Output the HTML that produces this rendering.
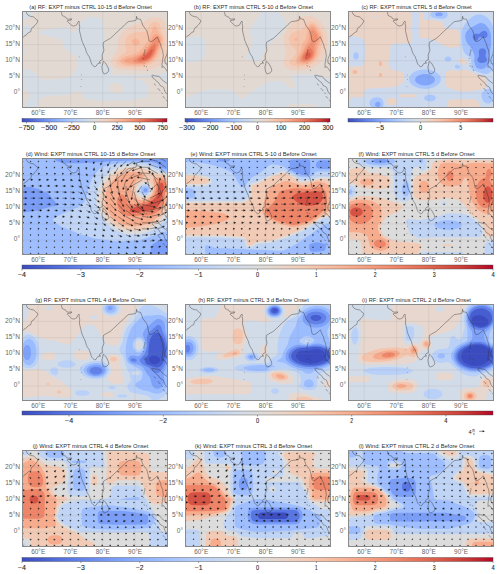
<!DOCTYPE html><html><head><meta charset="utf-8"><style>html,body{margin:0;padding:0;background:#fff;width:500px;height:574px;overflow:hidden}svg{display:block}</style></head><body><svg width="500" height="574" viewBox="0 0 500 574"><defs><clipPath id="pc"><rect x="0" y="0" width="146" height="97"/></clipPath><path id="coast" d="M4.0 -0.7 4.5 1.3 4.8 2.6 5.9 4.0 7.2 4.8 9.1 5.5 10.8 5.8 11.7 5.8 13.0 7.4 14.3 8.4 15.6 9.3 15.8 10.1 15.0 11.9 14.0 13.2 12.7 14.5 11.7 16.1 10.4 16.4 9.5 17.7 9.0 19.3 8.8 20.6 7.9 21.0 6.2 21.9 5.3 22.7 4.3 24.0 2.0 25.2 0.7 26.8 -0.5 27.4M38.2 -1.3 39.5 1.6 39.8 3.2 40.2 4.5 41.4 5.1 42.7 5.8 43.4 5.8 44.0 6.8 44.7 7.7 46.3 8.2 48.6 8.0 49.8 7.9 49.2 9.0 47.6 9.3 45.6 9.5 45.2 10.2 46.3 11.3 47.3 12.1 48.6 13.5 49.7 14.5 51.7 15.1 53.4 14.5 55.0 13.5 55.5 11.7 56.6 10.3 56.9 10.0 57.4 11.3 57.1 12.6 57.4 13.9 57.8 16.1 57.4 18.1 57.7 20.8 58.1 22.3 58.9 25.5 59.2 27.2 59.9 29.7 60.8 31.9 61.8 34.2 63.2 36.9 64.2 40.4 64.6 41.6 65.8 43.7 67.2 45.7 67.7 47.2 68.7 49.8 69.0 51.3 69.9 53.3 71.0 54.6 72.1 55.5 72.9 55.9 74.4 54.9 74.9 53.6 76.0 52.6 77.6 52.1 78.6 52.0 77.6 51.6 77.5 50.7 78.6 49.4 80.4 48.7 80.3 47.2 80.1 44.1 80.3 43.5 81.2 41.3 81.8 39.8 81.8 38.1 81.3 35.5 81.2 33.6 81.5 31.3 84.1 29.7 88.3 27.4 91.5 24.5 95.1 21.0 98.1 18.2 100.9 15.8 102.8 13.7 104.8 11.9 106.5 10.6 108.6 10.3 110.9 10.0 113.1 9.5 114.1 9.1 114.6 5.3 115.1 7.7 116.7 8.0 118.6 8.4 119.8 11.6 120.9 14.5 122.8 17.1 124.8 19.7 126.1 24.5 127.0 29.7 128.3 30.5 129.9 30.3 131.9 29.0 133.5 27.7 135.3 25.8 136.4 28.4 137.7 31.6 138.5 32.9 139.3 36.5 140.0 38.1 140.6 39.1 140.9 42.0 141.4 44.9 140.6 48.1 140.8 49.8 140.3 51.3 140.0 53.4 140.1 56.5 140.9 55.5 141.9 56.0 143.5 57.8 144.5 59.4 145.4 60.7 146.4 61.7M146.1 38.7 145.3 39.1 145.3 41.3 144.8 43.9 143.8 45.8 142.9 48.1 142.9 50.4 143.2 52.3 144.2 52.3 145.4 54.9 146.4 56.8M80.8 50.8 81.6 50.3 82.5 51.3 83.5 52.1 84.8 54.3 85.7 56.2 86.3 57.1 86.8 59.8 85.7 61.4 84.5 62.2 82.8 62.9 81.6 62.5 80.7 60.7 80.4 59.6 80.3 58.8 80.0 56.8 79.9 55.5 80.5 54.2 80.5 53.0 81.2 52.0 80.8 50.8M147.1 73.6 144.8 72.3 143.5 71.4 141.3 69.8 140.0 68.8 139.0 67.5 137.7 65.9 136.2 65.2 134.1 65.1 132.4 64.6 130.3 64.1 129.9 64.6 130.4 65.9 131.2 67.2 132.9 68.6 134.5 70.1 136.4 71.5 137.4 73.0 138.3 74.6 140.3 75.5 141.5 76.4 142.2 78.1 142.9 80.4 143.5 81.4 144.5 82.7 145.8 83.6 146.7 84.9M122.7 38.1 123.0 39.4 122.7 40.3 122.4 41.6 122.0 42.6 122.0 43.6 121.9 44.5 121.5 44.9M121.4 47.1 121.2 48.1M122.2 52.1 122.2 52.6M124.3 55.2 124.6 56.2M125.4 58.8 125.7 60.0M124.0 36.3 124.1 36.8M131.9 72.6 133.8 74.3M135.8 77.2 138.3 80.1M139.6 81.7 140.6 83.0M140.9 85.2 142.9 87.5M143.8 88.8 144.8 89.8M145.4 90.7 146.7 92.3M122.0 54.2 122.4 55.5"/><g id="dots"><rect x="58.9" y="63.6" width="0.7" height="0.7"/><rect x="59.2" y="68.1" width="0.7" height="0.7"/><rect x="58.5" y="75.2" width="0.7" height="0.7"/><rect x="56.9" y="45.5" width="0.7" height="0.7"/></g><linearGradient id="cw" x1="0" x2="1" y1="0" y2="0"><stop offset="0.000" stop-color="#3b4cc0"/><stop offset="0.025" stop-color="#4257c9"/><stop offset="0.050" stop-color="#4961d2"/><stop offset="0.075" stop-color="#516ddb"/><stop offset="0.100" stop-color="#5977e3"/><stop offset="0.125" stop-color="#6282ea"/><stop offset="0.150" stop-color="#6a8bef"/><stop offset="0.175" stop-color="#7295f4"/><stop offset="0.200" stop-color="#7b9ff9"/><stop offset="0.225" stop-color="#84a7fc"/><stop offset="0.250" stop-color="#8db0fe"/><stop offset="0.275" stop-color="#96b7ff"/><stop offset="0.300" stop-color="#9ebeff"/><stop offset="0.325" stop-color="#a7c5fe"/><stop offset="0.350" stop-color="#afcafc"/><stop offset="0.375" stop-color="#b9d0f9"/><stop offset="0.400" stop-color="#c0d4f5"/><stop offset="0.425" stop-color="#c7d7f0"/><stop offset="0.450" stop-color="#cfdaea"/><stop offset="0.475" stop-color="#d6dce4"/><stop offset="0.500" stop-color="#dddcdc"/><stop offset="0.525" stop-color="#e3d9d3"/><stop offset="0.550" stop-color="#e9d5cb"/><stop offset="0.575" stop-color="#eed0c0"/><stop offset="0.600" stop-color="#f2cbb7"/><stop offset="0.625" stop-color="#f5c4ac"/><stop offset="0.650" stop-color="#f6bda2"/><stop offset="0.675" stop-color="#f7b599"/><stop offset="0.700" stop-color="#f7ac8e"/><stop offset="0.725" stop-color="#f6a385"/><stop offset="0.750" stop-color="#f4987a"/><stop offset="0.775" stop-color="#f18f71"/><stop offset="0.800" stop-color="#ee8468"/><stop offset="0.825" stop-color="#e9785d"/><stop offset="0.850" stop-color="#e36c55"/><stop offset="0.875" stop-color="#dd5f4b"/><stop offset="0.900" stop-color="#d65244"/><stop offset="0.925" stop-color="#cf453c"/><stop offset="0.950" stop-color="#c53334"/><stop offset="0.975" stop-color="#bd1f2d"/><stop offset="1.000" stop-color="#b40426"/></linearGradient></defs><rect width="500" height="574" fill="#fff"/><g transform="translate(22,11)"><g clip-path="url(#pc)"><g transform="scale(0.1)"><rect x="0" y="0" width="1460" height="970" fill="#d6dce4"/><path fill="#e3d9d3" fill-rule="evenodd" d="M112 0l1338 0 0 616-30 2-50 11-105 11-130 2-100-4-65 3-50-2-16-4-5-5-2-5 3-25 0-10-5-15-7-10-8-7-10-5-63-23-12-10-7-15-1-10 2-10 16-40 14-45 8-75 0-75-6-80-4-25-12-45-10-17-15-10-40-15-15-3-15-1-25 4-35 10-15 7-10 7-30 25-17 18-38 67-10 10-15 7-10 1-10-4-25-30-10-8-15-4-20-1-45 1-85 16-80 9-15 4-15 12-6 10 1 8 5 7 10 5 175 39 20 7 11 14 17 55 11 20 46 46 70 40 9 14 3 20 0 55-4 20-11 20-30 45-12 14-10 7-15 6-55 17-35 7-65 2-60 4-40 0-20-4-15-11-42-47-23-16-40-20-20-8-60-8 0-145 15-5 13-8 7-10 2-10-5-10-7-6-10-4-15-2 0-136 45-5 19-7 11-8 11-12 6-10 2-10-1-10-6-15-7-8-10-6-20-3-50 4 0-50 25-4 15-5 16-8 29-20 10-10 7-10 7-20 3-20zM844 650l6-1 1 1-1 4-6-4zM1306 660l24-2 25 1 15 2 15 5 15 14 6 10 8 25 6 8 11 7 19 5 0 225-1288 0 0-50 4-15 9-10 12-10 33-17 20-6 20-4 70-1 40-4 65-1 20-2 20-6 95-37 10 2 7 6 8 14 20 46 5 7 10 7 40 7 95 11 35 1 120-1 55-4 110-1 150-28 10-3 9-6 6-10 2-10-1-70-4-15-11-15-31-30-10-7-10-5-50-7-70-6 60-7 55-11 116-2zM894 725l16-3 60 0 15 2 10 5 10 13 8 28 1 15-4 13-6 7-14 8-20 8-15 4-20-2-40-18-7-5-7-10-2-10-1-15 2-25 5-9 9-6zM0 795l0-2 5 1 35 4 18 7 14 15 8 15 3 10 0 10-3 5-25 16-11 14-5 25-1 45-38 0 0-165z"/><path fill="#eed0c0" fill-rule="evenodd" d="M1301 65l24-3 20 0 20 3 20 7 15 8 15 12 9 13 7 15 2 15 2 51 5 18 10 23 0 236-17 27-17 20-16 16-20 16-20 13-20 11-25 10-50 13-45 5-65 2-115-5-40-3-25-4-25-7-15-8-10-9-29-35-6-10 0-15 3-15 8-15 41-55 10-20 4-20 2-55 5-30 12-35 17-30 17-20 16-14 20-15 25-14 45-19 75-23 20-10 50-30 20-9 21-6z"/><path fill="#f5c4ac" fill-rule="evenodd" d="M1310 110l20-4 20 3 15 8 10 12 7 16 9 55 26 50 8 30 0 30-8 30-35 95-10 20-14 20-31 30-37 24-45 18-50 11-65 4-95-4-25-3-20-5-15-6-13-9-10-10-6-15 0-15 7-15 7-10 15-14 57-41 10-15 2-10 0-10-11-45-2-30 5-25 14-25 10-10 15-12 15-8 20-7 40-6 65-1 20-5 8-6 7-9 19-41 11-18 15-14 15-8z"/><path fill="#f7b599" fill-rule="evenodd" d="M1319 155l6-2 10 1 10 8 16 43 36 50 6 15 2 20-1 15-5 20-41 100-15 30-15 20-28 25-30 18-35 14-45 10-55 3-85-5-35-7-15-7-8-6-7-10-1-15 8-15 13-11 15-9 20-8 67-17 26-10 43-25 23-20 41-55 15-23 37-77 15-55 6-10 6-5zM1114 280l11-3 15 0 15 6 10 7 8 10 4 15-1 10-7 10-14 9-15 2-20-5-14-11-9-15 0-15 4-10 13-10z"/><path fill="#f6a385" fill-rule="evenodd" d="M1329 235l11-3 10 2 10 5 13 11 7 10 7 15 2 10 0 15-7 25-43 105-17 30-18 20-24 19-30 15-30 10-35 6-45 1-70-8-25-5-17-8-4-5-1-10 7-10 8-5 17-7 50-10 25-8 59-30 28-20 18-20 39-55 11-20 20-50 10-14 14-11z"/><path fill="#f18f71" fill-rule="evenodd" d="M1338 260l13 0 9 5 5 5 7 15 0 20-40 110-15 30-17 23-19 17-21 13-25 11-25 6-25 4-25-1-25-4-20-9-6-5 0-5 8-10 92-55 26-22 64-83 21-50 10-11 8-4z"/><path fill="#e9785d" fill-rule="evenodd" d="M1326 330l4-3 5 3 0 25-5 30-9 25-9 20-12 20-12 15-13 11-15 11-17 8-18 6-20 4-20 1-15-2-10-5-4-4-1-5 1-5 8-10 72-50 14-15 40-49 36-31z"/><path fill="#dd5f4b" fill-rule="evenodd" d="M1294 385l6-3 5 1 2 2 1 10-2 10-13 30-18 25-19 15-21 10-25 5-10-1-7-4-1-5 6-10 52-40 44-45z"/></g><path d="M16.2 0V96M48.6 0V96M80.8 0V96M113.1 0V96M0 17.4H145M0 33.6H145M0 49.7H145M0 65.9H145M0 82.0H145" stroke="#808080" stroke-opacity="0.22" stroke-width="0.6" fill="none"/><use href="#coast" fill="none" stroke="#2a2a2a" stroke-width="0.45" stroke-opacity="0.9"/><use href="#dots" fill="#444" fill-opacity="0.6"/></g><rect x="0.5" y="0.5" width="145" height="96" fill="none" stroke="#8a8a8a" stroke-width="1"/></g><text x="90.5" y="8.8" font-size="5.27" fill="#2b2b2b" text-anchor="middle" textLength="122.5" lengthAdjust="spacingAndGlyphs" font-family="Liberation Sans, sans-serif">(a) RF: EXPT minus CTRL 10-15 d Before Onset</text><text x="20.0" y="29.8" font-size="6.40" fill="#666" text-anchor="end" textLength="15.0" lengthAdjust="spacingAndGlyphs" font-family="Liberation Sans, sans-serif">20°N</text><text x="20.0" y="46.0" font-size="6.40" fill="#666" text-anchor="end" textLength="14.8" lengthAdjust="spacingAndGlyphs" font-family="Liberation Sans, sans-serif">15°N</text><text x="20.0" y="62.1" font-size="6.40" fill="#666" text-anchor="end" textLength="14.8" lengthAdjust="spacingAndGlyphs" font-family="Liberation Sans, sans-serif">10°N</text><text x="20.0" y="78.3" font-size="6.40" fill="#666" text-anchor="end" textLength="10.9" lengthAdjust="spacingAndGlyphs" font-family="Liberation Sans, sans-serif">5°N</text><text x="20.0" y="94.4" font-size="6.40" fill="#666" text-anchor="end" textLength="6.2" lengthAdjust="spacingAndGlyphs" font-family="Liberation Sans, sans-serif">0°</text><text x="38.2" y="114.8" font-size="6.30" fill="#666" text-anchor="middle" textLength="14.1" lengthAdjust="spacingAndGlyphs" font-family="Liberation Sans, sans-serif">60°E</text><text x="70.6" y="114.8" font-size="6.30" fill="#666" text-anchor="middle" textLength="14.0" lengthAdjust="spacingAndGlyphs" font-family="Liberation Sans, sans-serif">70°E</text><text x="102.8" y="114.8" font-size="6.30" fill="#666" text-anchor="middle" textLength="14.1" lengthAdjust="spacingAndGlyphs" font-family="Liberation Sans, sans-serif">80°E</text><text x="135.1" y="114.8" font-size="6.30" fill="#666" text-anchor="middle" textLength="14.1" lengthAdjust="spacingAndGlyphs" font-family="Liberation Sans, sans-serif">90°E</text><g transform="translate(185,11)"><g clip-path="url(#pc)"><g transform="scale(0.1)"><rect x="0" y="0" width="1460" height="970" fill="#d6dce4"/><path fill="#e3d9d3" fill-rule="evenodd" d="M0 0l749 0 4 30-4 15-34 41-48 64-10 20-9 25-3 15 1 15 27 50 2 10-1 15-16 60-42 85-6 20 2 10 3 4 15 9 50 12 35 2 30-2 10-5 5-5 7-15 21-65 14-25 48-62 60-51 20-20 55-72 15-28 12-32 1-10-3-9-7-11-42-45-11-21-9-24 509 0 0 676-40-7-77-29-28-6-150 0-65 6-15 3-5 3-3 4-1 10 7 20 23 45 5 20-3 10-7 10-11 10-10 4-10 0-16-9-16-15-28-32-15-12-15-6-20-5-30-1-85 9-20 7-90 60-84 45-61 52-15 7-10-2-10-8-50-60-10-11-10-6-20-4-40-1-60-4-80 0-110 17-25 9-120 59-20 7 0-363 110-1 20-5 35-18 14-13 10-20 16-45 3-25-1-25-8-60-12-30-12-12-20-5-45 0-45 7-65 15 0-275zM0 935l0-5 9 5 4 5 3 10 1 10-17 0 0-25zM1040 935l25-2 215 0 10 2 9 5 6 10 2 10-284 0 4-15 4-5 9-5z"/><path fill="#eed0c0" fill-rule="evenodd" d="M1234 50l26 0 20 4 20 8 21 13 21 20 24 30 25 35 17 30 9 25 6 20 3 25 2 30-2 30-5 35-8 40-9 30-21 45-16 25-17 20-35 31-25 16-20 10-25 8-25 6-60 6-70 1-25-4-20-5-25-12-15-12-15-20-6-20 0-15 4-15 20-45 5-20-2-20-19-60-7-35 0-35 3-20 4-15 13-25 45-71 20-24 25-23 30-19 30-13 35-9 44-6z"/><path fill="#f5c4ac" fill-rule="evenodd" d="M1251 105l14-2 15 2 15 7 15 12 13 16 38 55 11 20 7 20 5 30-2 30-21 75-11 50-8 25-16 30-26 30-30 22-30 14-40 10-40 3-55-1-20-4-14-4-11-6-10-10-5-14 2-10 9-15 29-30 15-20 9-20 1-20-3-10-5-10-42-40-15-24-5-16-2-15 1-15 5-15 6-12 10-13 10-9 15-10 20-8 50-11 16-7 14-14 22-31 13-15 15-13 16-7z"/><path fill="#f7b599" fill-rule="evenodd" d="M1270 130l10 2 10 5 18 18 40 60 9 20 4 15 2 20-3 20-24 70-9 60-6 20-12 25-15 20-22 20-27 15-25 9-30 5-30 0-30-7-14-7-8-10-2-10 3-10 41-80 7-20 11-45 7-20 25-36 10-20 5-23 4-51 7-30 9-15 10-11 10-6 15-3zM1098 270l12-3 10 5 5 6 2 7-4 10-8 5-5 0-5 0-9-5-3-5-2-10 7-10z"/><path fill="#f6a385" fill-rule="evenodd" d="M1265 155l5-1 10 2 10 7 10 11 34 51 7 15 4 15 1 15-4 20-20 45-6 20-6 60-4 20-8 20-13 20-15 15-20 14-20 9-25 6-20 1-20-3-15-7-9-10-3-10 2-15 7-20 28-50 23-50 29-45 8-15 4-15 2-15-2-55 3-25 8-19 5-6 10-5z"/><path fill="#f18f71" fill-rule="evenodd" d="M1267 190l8-4 5 1 15 13 25 35 5 11 3 14-1 15-5 15-23 35-5 15-2 20 2 50-3 25-5 15-8 15-13 14-15 12-15 8-20 6-20 2-15-3-10-4-9-10-3-10 2-15 12-25 43-71 15-20 22-24 9-15 2-25-3-75 2-10 5-10z"/><path fill="#e9785d" fill-rule="evenodd" d="M1243 375l7-2 10 1 7 6 5 10 5 15 1 15-1 15-5 15-14 20-12 10-11 6-25 7-10 0-12-3-6-5-5-10 0-10 5-15 13-22 20-26 15-17 13-10z"/><path fill="#dd5f4b" fill-rule="evenodd" d="M1245 410l9 5 5 10 0 15-7 15-8 10-14 9-15 3-12-2-5-5-1-10 2-10 6-10 20-22 10-6 10-2z"/></g><path d="M16.2 0V96M48.6 0V96M80.8 0V96M113.1 0V96M0 17.4H145M0 33.6H145M0 49.7H145M0 65.9H145M0 82.0H145" stroke="#808080" stroke-opacity="0.22" stroke-width="0.6" fill="none"/><use href="#coast" fill="none" stroke="#2a2a2a" stroke-width="0.45" stroke-opacity="0.9"/><use href="#dots" fill="#444" fill-opacity="0.6"/></g><rect x="0.5" y="0.5" width="145" height="96" fill="none" stroke="#8a8a8a" stroke-width="1"/></g><text x="253.5" y="8.8" font-size="5.27" fill="#2b2b2b" text-anchor="middle" textLength="119.3" lengthAdjust="spacingAndGlyphs" font-family="Liberation Sans, sans-serif">(b) RF: EXPT minus CTRL 5-10 d Before Onset</text><text x="183.0" y="29.8" font-size="6.40" fill="#666" text-anchor="end" textLength="15.0" lengthAdjust="spacingAndGlyphs" font-family="Liberation Sans, sans-serif">20°N</text><text x="183.0" y="46.0" font-size="6.40" fill="#666" text-anchor="end" textLength="14.8" lengthAdjust="spacingAndGlyphs" font-family="Liberation Sans, sans-serif">15°N</text><text x="183.0" y="62.1" font-size="6.40" fill="#666" text-anchor="end" textLength="14.8" lengthAdjust="spacingAndGlyphs" font-family="Liberation Sans, sans-serif">10°N</text><text x="183.0" y="78.3" font-size="6.40" fill="#666" text-anchor="end" textLength="10.9" lengthAdjust="spacingAndGlyphs" font-family="Liberation Sans, sans-serif">5°N</text><text x="183.0" y="94.4" font-size="6.40" fill="#666" text-anchor="end" textLength="6.2" lengthAdjust="spacingAndGlyphs" font-family="Liberation Sans, sans-serif">0°</text><text x="201.2" y="114.8" font-size="6.30" fill="#666" text-anchor="middle" textLength="14.1" lengthAdjust="spacingAndGlyphs" font-family="Liberation Sans, sans-serif">60°E</text><text x="233.6" y="114.8" font-size="6.30" fill="#666" text-anchor="middle" textLength="14.0" lengthAdjust="spacingAndGlyphs" font-family="Liberation Sans, sans-serif">70°E</text><text x="265.9" y="114.8" font-size="6.30" fill="#666" text-anchor="middle" textLength="14.1" lengthAdjust="spacingAndGlyphs" font-family="Liberation Sans, sans-serif">80°E</text><text x="298.1" y="114.8" font-size="6.30" fill="#666" text-anchor="middle" textLength="14.1" lengthAdjust="spacingAndGlyphs" font-family="Liberation Sans, sans-serif">90°E</text><g transform="translate(348,11)"><g clip-path="url(#pc)"><g transform="scale(0.1)"><rect x="0" y="0" width="1460" height="970" fill="#5d7ce6"/><path fill="#82a6fb" fill-rule="evenodd" d="M0 0l1450 0 0 960-1450 0 0-960zM1350 199l-15 8-25 23-5 0-20-4-10 1-10 3-10 8-7 12-2 10 4 15 10 15 15 9 10-1 11-8 14-26 5-5 5 0 25 9 15 3 15-2 10-7 8-12 2-10-1-15-4-10-5-6-10-8-10-3-15 1zM1330 374l-10 5-5 5-6 11-2 20 4 30-2 10-14 25-1 15 6 11 15 10 15 4 20-1 15-4 10-4 8-6 6-10 0-15-14-30 0-10 6-20 0-15-6-18-10-10-15-5-20 2z"/><path fill="#aac7fd" fill-rule="evenodd" d="M0 0l1450 0 0 960-1147 0 7-2 10-8 3-5 3-10-2-10-4-7-10-8-10-2-10 1-10 5-6 6-4 10 1 10 5 10 9 7 9 3-294 0 0-960zM730 635l-20 7-20 11-12 12-7 15 0 15 4 10 14 15 16 10 20 8 20 4 25 2 25-2 20-4 20-8 16-10 14-15 5-15-2-15-10-15-21-15-22-9-30-5-30 0-25 4zM895 14l-15 6-9 10 2 10 12 9 15 4 20 0 15-4 12-9 2-10-3-5-6-5-20-7-25 1zM1305 124l-20 10-65 38-22 18-13 17-8 18-5 20 0 20 5 25 8 20 10 15 25 29 10 14 10 18 20 47 5 22-2 35 1 15 8 35 6 15 8 10 14 9 20 6 15 0 25-6 20-13 20-23 11-18 7-15 2-20-7-35 10-55 7-60 1-40-1-45-4-30-9-25-12-22-20-25-20-17-20-9-20-2-20 4z"/><path fill="#cdd9ec" fill-rule="evenodd" d="M0 0l854 0-17 10-12 15-3 15 4 10 5 5 14 8 20 7 75 10 20-2 15-7 13-11 9-15 0-15-5-10-9-10-17-10 484 0 0 152-15-32-16-25-19-22-20-16-20-12-25-8-20-2-25 3-25 8-25 14-25 20-25 27-25 33-17 30-9 25-3 25 4 100 8 60 9 25 13 20 15 14 30 21 12 15 5 15 2 20 0 20-5 30 2 10 2 5 12 10 9 5 61 26 30 10 30 4 20-3 23-12 17-15 15-21 0 220-10-10-15-10-10-2-10 1-45 22-13 10-10 15-3 20 3 20 10 25 13 19 15 11 20 6 20-1 20-10 15-14 0 59-1103 0 7-15 1-15-3-25-7-17-10-12-10-6-15-5-20-2-20 2-20 6-20 13-10 13-6 18 1 15 6 15 14 15-235 0 0-960zM75 413l-10 5-9 12-3 10-1 15 2 10 6 11 10 9 10 2 10-2 11-10 6-15 1-15-4-15-7-10-12-7-10 0zM740 585l-35 7-35 14-29 19-18 20-6 10-5 15-1 15 1 10 6 15 6 10 18 20 28 17 35 13 40 8 40 1 40-6 35-11 30-16 23-21 9-15 4-10 3-15-1-15-5-15-6-10-22-23-30-19-40-14-40-5-45 1zM985 458l-12 7-6 10 0 10 6 10 12 7 15 3 15-3 11-7 4-5 3-10-3-10-5-6-10-6-10-3-20 3zM1080 540l-8 5-5 10 2 10 5 5 11 6 15 2 10-2 8-6 3-5 1-5-5-10-6-5-16-7-15 2zM795 840l-22 10-5 5-6 10 0 10 2 5 9 10 9 5 23 7 30 0 25-8 10-7 6-7 2-10-2-10-9-10-9-5-13-5-15-3-20 0-15 3z"/><path fill="#ead4c8" fill-rule="evenodd" d="M18 0l610 0 13 70 1 55-4 20-17 25-1 10 2 5 15 20 4 10 1 70-1 15-3 10-4 5-9 5-20 2-140 2-15 4-13 7-9 10-4 10-3 95-16 65 1 15 5 20 9 20 10 10 10 5 45 15 45 5 10 5 6 5 10 20 4 25-1 35-3 10-8 10-18 14-35 22-25 10-60 2-40 4-50 1-140 12-10 6-5 9-4 45-3 10-4 5-9 5-10 2-80 1-10 1-10 3-5 4-5 9-4 30-3 10-8 8-10 3 0-374 50-4 80-1 15-3 8-4 7-10 2-10 15-135-2-30-11-55-5-15-9-10-20-11-45-15-30-1-55 4 0-67 9-5 4-5 3-10 1-10 1-160zM275 47l-8 8 0 10 8 8 10 0 8-8 0-10-8-8-10 0zM729 15l16 2 10 8 3 10 0 15-7 25 2 5 7 4 20 5 45 1 65 7 25 5 25 11 15 12 5 10 5 30 5 9 5 4 10 3 10 1 80 2 10 2 10 6 6 8 5 15 8 50-1 70-3 14-5 6-15 6-40 5-30 2-20-2-20-8-95-54-60-24-20-6-15-1-60 3-14-6-6-10-2-15 0-120 2-21 12-24-12-25-1-15 2-10 4-8 5-4 9-3zM1114 475l11-3 15 1 19 7 14 10 9 10 3 10 0 10-5 11-10 7-5 1-10-2-15-8-25-19-8-10-2-10 3-10 6-5zM1143 590l22-3 20 4 100 42 67 22 18 9 5 6 5 10 5 44-2 21-7 15-11 9-12 6-48 16-65 11-60 1-55-1-25-2-90-29-21-11-7-10-3-20 0-105 2-10 5-10 14-8 25-4 25 0 50 8 15-2 28-9zM525 835l15-2 130 0 9 2 5 5 2 10-6 9-10 3-135 0-10-2-6-5-1-10 2-5 5-5zM404 870l16-2 30 0 15 3 10 5 9 9 4 10 1 15-5 15-10 10-19 6-35 0-10-1-10-5-6-5-5-10-4-13-1-12 2-10 4-8 14-7zM1030 885l35-2 160 0 30 0 20 3 17 9 11 15 7 20 2 30-324 0 2-35 7-20 13-13 20-7z"/><path fill="#f7b89c" fill-rule="evenodd" d="M317 505l8-3 5 1 7 7 4 10 1 10-3 10-4 7-5 4-5 1-5-1-5-4-6-12 0-15 4-10 4-5zM64 590l11 0 10 3 7 7 2 5 0 10-2 5-12 9-10 2-10-2-10-7-4-7 0-10 2-5 7-7 9-3zM321 620l9 0 5 3 6 12 0 10-5 10-6 5-5 1-10-4-6-12 1-15 5-7 6-3z"/></g><path d="M16.2 0V96M48.6 0V96M80.8 0V96M113.1 0V96M0 17.4H145M0 33.6H145M0 49.7H145M0 65.9H145M0 82.0H145" stroke="#808080" stroke-opacity="0.22" stroke-width="0.6" fill="none"/><use href="#coast" fill="none" stroke="#2a2a2a" stroke-width="0.45" stroke-opacity="0.9"/><use href="#dots" fill="#444" fill-opacity="0.6"/></g><rect x="0.5" y="0.5" width="145" height="96" fill="none" stroke="#8a8a8a" stroke-width="1"/></g><text x="416.5" y="8.8" font-size="5.27" fill="#2b2b2b" text-anchor="middle" textLength="110.2" lengthAdjust="spacingAndGlyphs" font-family="Liberation Sans, sans-serif">(c) RF: EXPT minus CTRL 5 d Before Onset</text><text x="346.0" y="29.8" font-size="6.40" fill="#666" text-anchor="end" textLength="15.0" lengthAdjust="spacingAndGlyphs" font-family="Liberation Sans, sans-serif">20°N</text><text x="346.0" y="46.0" font-size="6.40" fill="#666" text-anchor="end" textLength="14.8" lengthAdjust="spacingAndGlyphs" font-family="Liberation Sans, sans-serif">15°N</text><text x="346.0" y="62.1" font-size="6.40" fill="#666" text-anchor="end" textLength="14.8" lengthAdjust="spacingAndGlyphs" font-family="Liberation Sans, sans-serif">10°N</text><text x="346.0" y="78.3" font-size="6.40" fill="#666" text-anchor="end" textLength="10.9" lengthAdjust="spacingAndGlyphs" font-family="Liberation Sans, sans-serif">5°N</text><text x="346.0" y="94.4" font-size="6.40" fill="#666" text-anchor="end" textLength="6.2" lengthAdjust="spacingAndGlyphs" font-family="Liberation Sans, sans-serif">0°</text><text x="364.2" y="114.8" font-size="6.30" fill="#666" text-anchor="middle" textLength="14.1" lengthAdjust="spacingAndGlyphs" font-family="Liberation Sans, sans-serif">60°E</text><text x="396.6" y="114.8" font-size="6.30" fill="#666" text-anchor="middle" textLength="14.0" lengthAdjust="spacingAndGlyphs" font-family="Liberation Sans, sans-serif">70°E</text><text x="428.9" y="114.8" font-size="6.30" fill="#666" text-anchor="middle" textLength="14.1" lengthAdjust="spacingAndGlyphs" font-family="Liberation Sans, sans-serif">80°E</text><text x="461.1" y="114.8" font-size="6.30" fill="#666" text-anchor="middle" textLength="14.1" lengthAdjust="spacingAndGlyphs" font-family="Liberation Sans, sans-serif">90°E</text><g transform="translate(22,158)"><g clip-path="url(#pc)"><g transform="scale(0.1)"><rect x="0" y="0" width="1460" height="970" fill="#7b9ff9"/><path fill="#9ebeff" fill-rule="evenodd" d="M0 0l321 0 4 10 8 10 17 13 40 14 30 5 160 0 45-4 55-1 45-4 60-1 140-12 205-5 90 2 30 3 50 9 50 17 13 9 22 23 15 12 50 18 0 691-55 8-20 5-25 13-40 25-8 10-7 15-13 50-4 25-1278 0 0-413 115-15 40-7 130-37 50-8 8-5 3-10-3-10-9-15-52-65-17-17-25-14-55-27-90-26-25-3-70 0 0-288zM1225 304l-8 11 0 10 2 5 5 5 6 3 10 0 5-2 5-4 4-7 0-10-2-5-5-5-7-3-10 0-5 2z"/><path fill="#c0d4f5" fill-rule="evenodd" d="M1003 50l77-4 70 0 75 3 50 7 25 6 27 13 18 11 37 29 18 11 50 16 0 588-30 8-80 30-85 29-75 22-170 13-75 0-205-28-155-43-180-75-44-26-33-25-6-10-1-10 6-10 12-10 86-43 145-60 25-16 30-26 11-15 9-20 28-105 34-100 8-15 15-20 40-50 15-16 15-11 15-7 82-26 28-6 88-9zM1220 284l-15 9-10 12-3 10 0 15 8 14 10 8 15 4 15-1 11-5 11-10 7-15 0-15-8-15-11-9-15-3-15 1z"/><path fill="#dddcdc" fill-rule="evenodd" d="M1047 70l48-4 50 0 50 4 45 8 40 12 72 35 98 36 0 425-23 34-22 25-25 25-30 24-30 19-30 15-35 15-35 10-40 8-35 4-35 1-40-3-35-6-35-10-40-15-30-15-35-21-30-24-25-23-25-29-20-30-17-30-15-35-11-35-6-35-3-35 1-35 4-35 8-35 13-35 14-30 21-35 24-30 27-28 30-25 30-20 30-16 30-11 35-9 37-6zM1210 264l-20 10-15 16-9 20-1 15 2 10 9 20 18 15 21 7 20-1 10-3 14-8 16-17 7-13 2-10 1-15-1-10-4-10-6-10-9-9-10-6-20-4-25 3z"/><path fill="#f2cbb7" fill-rule="evenodd" d="M1088 95l32-1 35 1 33 5 32 8 35 12 80 35 20 4 40 3 20 4 20 12 15 21 0 305-19 41-21 35-28 35-31 30-31 23-35 20-40 17-40 12-40 7-35 3-35-1-35-4-30-6-30-10-30-12-30-16-27-18-25-20-23-23-20-24-18-28-16-30-11-28-9-32-5-30-2-30 1-35 5-30 8-30 11-30 15-30 16-25 19-25 24-25 24-20 28-20 27-15 33-14 30-10 30-7 33-4zM1205 239l-15 6-15 9-21 21-12 25-3 15 0 15 3 15 7 15 11 15 10 9 10 6 15 6 15 2 15 0 20-5 15-8 13-10 12-13 10-17 5-15 3-20-1-15-4-15-7-15-11-13-10-7-15-7-15-2-20 0-15 3z"/><path fill="#f7ac8e" fill-rule="evenodd" d="M1084 140l46-1 44 6 17 5 22 10 13 10 3 5 1 5-4 5-56 28-30 22-21 25-8 15-5 15-3 15 0 20 3 20 6 20 11 20 12 14 14 11 16 7 15 4 20 1 20-2 20-5 20-9 15-10 12-11 12-15 15-30 7-30-1-35-12-55 2-10 5-5 12-5 53-13 15-1 15 3 15 11 10 13 8 17 6 25 1 136-3 24-6 30-9 30-12 27-15 27-20 29-20 24-25 24-25 19-25 15-31 15-29 11-36 9-30 5-29 2-30 0-30-3-30-5-30-9-25-10-29-15-22-15-24-20-19-20-16-21-15-24-12-25-10-25-7-30-4-30-1-25 2-30 5-25 7-25 10-25 15-27 16-23 19-22 20-19 24-19 25-15 31-15 25-9 25-6 29-5z"/><path fill="#ee8468" fill-rule="evenodd" d="M1379 215l11-3 15 1 10 7 10 13 7 17 4 20 1 25-1 25-11 80-6 30-9 28-10 22-12 20-16 20-17 17-15 12-20 11-15 7-20 5-20 2-65 0-85 7-40-1-35-5-28-10-20-15-13-20-14-31-10-28-4-21 0-20 4-22 8-18 12-15 10-7 15-2 10 2 10 7 10 11 8 14 19 50 8 8 10 3 30 1 75-9 35-7 25-8 25-12 20-14 17-17 15-20 11-20 9-25 4-25 5-40 5-20 5-10 8-10 15-10z"/><path fill="#d65244" fill-rule="evenodd" d="M1386 250l9-4 5 0 10 9 5 13 2 12-2 30-25 110-8 25-12 25-20 24-24 16-26 9-75 11-70 14-25 3-20-1-20-5-10-6-4-5 1-10 8-10 15-9 35-12 70-13 30-8 40-20 35-27 27-31 17-30 8-25 12-65 6-13 6-7z"/></g><path d="M16.2 0V96M48.6 0V96M80.8 0V96M113.1 0V96M0 17.4H145M0 33.6H145M0 49.7H145M0 65.9H145M0 82.0H145" stroke="#808080" stroke-opacity="0.22" stroke-width="0.6" fill="none"/><use href="#coast" fill="none" stroke="#2a2a2a" stroke-width="0.45" stroke-opacity="0.9"/><use href="#dots" fill="#444" fill-opacity="0.6"/><g fill="#111" stroke="#1a1a1a" stroke-width="0.4" stroke-linejoin="round"><circle cx="0.6" cy="3.4" r="0.45"/><circle cx="8.6" cy="3.4" r="0.45"/><circle cx="16.5" cy="3.4" r="0.45"/><circle cx="24.5" cy="3.4" r="0.45"/><circle cx="32.4" cy="3.4" r="0.45"/><circle cx="40.4" cy="3.4" r="0.45"/><circle cx="48.4" cy="3.4" r="0.45"/><path d="M56.4 4.1L55.6 3.2L57.0 3.1Z"/><path d="M64.0 4.9L63.6 3.3L65.0 3.5Z"/><line x1="72.2" y1="3.4" x2="72.0" y2="4.3"/><path d="M71.4 6.0L71.2 4.0L72.7 4.5Z"/><line x1="80.2" y1="3.4" x2="79.3" y2="5.5"/><path d="M78.5 7.1L78.5 5.2L80.0 5.8Z"/><line x1="88.2" y1="3.4" x2="86.3" y2="6.5"/><path d="M85.4 8.1L85.6 6.1L87.0 6.9Z"/><line x1="96.1" y1="3.4" x2="93.1" y2="7.2"/><path d="M92.0 8.7L92.5 6.8L93.7 7.7Z"/><line x1="104.1" y1="3.4" x2="99.6" y2="7.4"/><path d="M98.3 8.6L99.1 6.8L100.2 8.0Z"/><line x1="112.0" y1="3.4" x2="106.1" y2="6.8"/><path d="M104.6 7.7L105.7 6.1L106.5 7.5Z"/><line x1="120.0" y1="3.4" x2="112.9" y2="5.3"/><path d="M111.2 5.8L112.7 4.6L113.1 6.1Z"/><line x1="128.0" y1="3.4" x2="120.6" y2="3.3"/><path d="M118.8 3.3L120.6 2.5L120.6 4.1Z"/><line x1="135.9" y1="3.4" x2="129.3" y2="1.6"/><path d="M127.5 1.1L129.5 0.8L129.1 2.3Z"/><line x1="143.9" y1="3.4" x2="138.5" y2="0.5"/><path d="M136.9 -0.3L138.9 -0.2L138.1 1.2Z"/><path d="M1.3 9.5L0.3 10.2L0.3 8.8Z"/><path d="M9.2 9.5L8.2 10.2L8.2 8.8Z"/><path d="M17.2 9.5L16.2 10.2L16.2 8.8Z"/><path d="M25.1 9.5L24.1 10.2L24.1 8.8Z"/><path d="M33.1 9.6L32.1 10.2L32.1 8.8Z"/><path d="M41.0 9.6L39.9 10.2L40.2 8.8Z"/><path d="M48.9 9.9L47.7 10.0L48.5 8.8Z"/><path d="M56.8 10.5L55.7 9.8L57.0 9.2Z"/><line x1="64.3" y1="9.5" x2="64.3" y2="9.7"/><path d="M64.4 11.5L63.5 9.7L65.1 9.6Z"/><line x1="72.2" y1="9.5" x2="72.1" y2="10.9"/><path d="M71.9 12.7L71.3 10.8L72.9 11.0Z"/><line x1="80.2" y1="9.5" x2="79.5" y2="12.3"/><path d="M79.0 14.0L78.7 12.1L80.3 12.5Z"/><line x1="88.2" y1="9.5" x2="86.6" y2="13.5"/><path d="M85.9 15.2L85.8 13.2L87.3 13.8Z"/><line x1="96.1" y1="9.5" x2="93.3" y2="14.4"/><path d="M92.4 16.0L92.6 14.0L94.0 14.8Z"/><line x1="104.1" y1="9.5" x2="99.6" y2="14.8"/><path d="M98.4 16.1L99.0 14.2L100.2 15.3Z"/><line x1="112.0" y1="9.5" x2="105.5" y2="14.2"/><path d="M104.1 15.2L105.1 13.5L106.0 14.8Z"/><line x1="120.0" y1="9.5" x2="111.7" y2="12.2"/><path d="M110.0 12.8L111.4 11.4L111.9 13.0Z"/><line x1="128.0" y1="9.5" x2="119.2" y2="9.2"/><path d="M117.4 9.1L119.2 8.4L119.2 10.0Z"/><line x1="135.9" y1="9.5" x2="128.4" y2="6.7"/><path d="M126.7 6.0L128.7 5.9L128.1 7.4Z"/><line x1="143.9" y1="9.5" x2="138.2" y2="5.5"/><path d="M136.7 4.4L138.7 4.8L137.7 6.1Z"/><path d="M1.9 15.7L0.6 16.4L0.6 15.0Z"/><path d="M9.9 15.7L8.6 16.4L8.6 15.0Z"/><path d="M17.8 15.7L16.5 16.4L16.5 15.0Z"/><path d="M25.8 15.7L24.5 16.4L24.5 15.0Z"/><path d="M33.8 15.7L32.4 16.4L32.5 15.0Z"/><path d="M41.7 15.8L40.3 16.4L40.5 15.0Z"/><path d="M49.6 16.1L48.1 16.3L48.6 15.0Z"/><path d="M57.5 16.8L55.8 16.2L56.8 15.1Z"/><line x1="64.3" y1="15.7" x2="64.5" y2="16.3"/><path d="M65.2 17.9L63.8 16.6L65.3 16.0Z"/><line x1="72.2" y1="15.7" x2="72.5" y2="17.6"/><path d="M72.7 19.4L71.7 17.7L73.3 17.5Z"/><line x1="80.2" y1="15.7" x2="80.1" y2="19.0"/><path d="M80.0 20.8L79.3 19.0L80.9 19.1Z"/><line x1="88.2" y1="15.7" x2="87.3" y2="20.4"/><path d="M86.9 22.2L86.5 20.3L88.0 20.6Z"/><line x1="96.1" y1="15.7" x2="94.0" y2="21.6"/><path d="M93.4 23.3L93.3 21.3L94.8 21.9Z"/><line x1="104.1" y1="15.7" x2="100.1" y2="22.3"/><path d="M99.2 23.9L99.4 21.9L100.8 22.7Z"/><line x1="112.0" y1="15.7" x2="105.4" y2="22.1"/><path d="M104.1 23.4L104.8 21.6L105.9 22.7Z"/><line x1="120.0" y1="15.7" x2="110.2" y2="19.6"/><path d="M108.6 20.3L109.9 18.9L110.5 20.4Z"/><line x1="128.0" y1="15.7" x2="117.4" y2="14.7"/><path d="M115.6 14.5L117.5 13.9L117.4 15.5Z"/><line x1="135.9" y1="15.7" x2="127.8" y2="11.1"/><path d="M126.2 10.2L128.2 10.4L127.4 11.8Z"/><line x1="143.9" y1="15.7" x2="138.5" y2="10.1"/><path d="M137.3 8.8L139.1 9.5L137.9 10.6Z"/><line x1="0.6" y1="21.8" x2="1.1" y2="21.8"/><path d="M2.9 21.8L1.1 22.6L1.1 21.0Z"/><line x1="8.6" y1="21.8" x2="9.0" y2="21.8"/><path d="M10.8 21.8L9.0 22.6L9.0 21.0Z"/><line x1="16.5" y1="21.8" x2="17.0" y2="21.8"/><path d="M18.8 21.8L17.0 22.6L17.0 21.0Z"/><line x1="24.5" y1="21.8" x2="24.9" y2="21.8"/><path d="M26.7 21.8L24.9 22.6L24.9 21.0Z"/><line x1="32.4" y1="21.8" x2="32.9" y2="21.8"/><path d="M34.7 21.8L32.9 22.6L32.9 21.0Z"/><line x1="40.4" y1="21.8" x2="40.9" y2="21.8"/><path d="M42.7 22.0L40.8 22.6L40.9 21.0Z"/><line x1="48.4" y1="21.8" x2="48.9" y2="21.9"/><path d="M50.6 22.3L48.7 22.7L49.0 21.1Z"/><line x1="56.3" y1="21.8" x2="57.0" y2="22.2"/><path d="M58.5 23.1L56.6 22.9L57.4 21.5Z"/><line x1="64.3" y1="21.8" x2="65.2" y2="22.9"/><path d="M66.3 24.3L64.6 23.4L65.8 22.4Z"/><line x1="72.2" y1="21.8" x2="73.3" y2="24.2"/><path d="M74.0 25.9L72.5 24.5L74.0 23.9Z"/><line x1="80.2" y1="21.8" x2="81.0" y2="25.7"/><path d="M81.4 27.5L80.2 25.9L81.8 25.5Z"/><line x1="88.2" y1="21.8" x2="88.4" y2="27.2"/><path d="M88.5 29.0L87.6 27.2L89.2 27.2Z"/><line x1="96.1" y1="21.8" x2="95.4" y2="28.6"/><path d="M95.2 30.4L94.6 28.5L96.1 28.7Z"/><line x1="104.1" y1="21.8" x2="101.6" y2="30.0"/><path d="M101.0 31.7L100.8 29.7L102.3 30.2Z"/><line x1="112.0" y1="21.8" x2="106.3" y2="30.9"/><path d="M105.4 32.4L105.6 30.5L107.0 31.3Z"/><line x1="120.0" y1="21.8" x2="109.5" y2="28.1"/><path d="M107.9 29.0L109.1 27.4L109.9 28.8Z"/><line x1="128.0" y1="21.8" x2="116.7" y2="19.5"/><path d="M115.0 19.1L116.9 18.7L116.6 20.2Z"/><line x1="135.9" y1="21.8" x2="128.0" y2="14.3"/><path d="M126.7 13.1L128.5 13.7L127.4 14.9Z"/><line x1="143.9" y1="21.8" x2="139.7" y2="14.3"/><path d="M138.9 12.8L140.4 13.9L139.0 14.7Z"/><line x1="0.6" y1="27.9" x2="2.1" y2="27.9"/><path d="M3.9 27.9L2.1 28.7L2.1 27.1Z"/><line x1="8.6" y1="27.9" x2="10.1" y2="27.9"/><path d="M11.9 27.9L10.1 28.7L10.1 27.1Z"/><line x1="16.5" y1="27.9" x2="18.0" y2="27.9"/><path d="M19.8 27.9L18.0 28.7L18.0 27.1Z"/><line x1="24.5" y1="27.9" x2="26.0" y2="27.9"/><path d="M27.8 27.9L26.0 28.7L26.0 27.1Z"/><line x1="32.4" y1="27.9" x2="34.0" y2="27.9"/><path d="M35.8 28.0L34.0 28.7L34.0 27.1Z"/><line x1="40.4" y1="27.9" x2="41.9" y2="28.0"/><path d="M43.7 28.1L41.9 28.8L42.0 27.2Z"/><line x1="48.4" y1="27.9" x2="49.9" y2="28.2"/><path d="M51.7 28.5L49.8 29.0L50.1 27.4Z"/><line x1="56.3" y1="27.9" x2="58.0" y2="28.6"/><path d="M59.7 29.3L57.7 29.4L58.3 27.9Z"/><line x1="64.3" y1="27.9" x2="66.2" y2="29.5"/><path d="M67.6 30.6L65.7 30.1L66.7 28.9Z"/><line x1="72.2" y1="27.9" x2="74.4" y2="30.7"/><path d="M75.4 32.2L73.7 31.2L75.0 30.3Z"/><line x1="80.2" y1="27.9" x2="82.3" y2="32.2"/><path d="M83.1 33.9L81.6 32.6L83.0 31.9Z"/><line x1="88.2" y1="27.9" x2="89.9" y2="33.8"/><path d="M90.4 35.5L89.1 34.0L90.7 33.5Z"/><line x1="96.1" y1="27.9" x2="97.2" y2="35.3"/><path d="M97.5 37.1L96.4 35.5L98.0 35.2Z"/><line x1="104.1" y1="27.9" x2="104.0" y2="37.2"/><path d="M104.0 39.0L103.2 37.2L104.8 37.2Z"/><line x1="112.0" y1="27.9" x2="109.8" y2="40.0"/><path d="M109.5 41.8L109.0 39.8L110.6 40.1Z"/><line x1="120.0" y1="27.9" x2="116.6" y2="32.8"/><path d="M115.6 34.3L116.0 32.4L117.3 33.3Z"/><line x1="128.0" y1="27.9" x2="124.2" y2="25.4"/><path d="M122.8 24.4L124.7 24.8L123.8 26.1Z"/><line x1="135.9" y1="27.9" x2="130.9" y2="16.2"/><path d="M130.2 14.6L131.7 15.9L130.2 16.5Z"/><line x1="143.9" y1="27.9" x2="142.2" y2="18.7"/><path d="M141.9 16.9L143.0 18.6L141.4 18.8Z"/><line x1="0.6" y1="34.0" x2="3.0" y2="34.1"/><path d="M4.8 34.1L3.0 34.9L3.0 33.3Z"/><line x1="8.6" y1="34.0" x2="10.9" y2="34.1"/><path d="M12.7 34.1L10.9 34.9L10.9 33.3Z"/><line x1="16.5" y1="34.0" x2="18.9" y2="34.1"/><path d="M20.7 34.1L18.9 34.9L18.9 33.3Z"/><line x1="24.5" y1="34.0" x2="26.9" y2="34.1"/><path d="M28.7 34.1L26.9 34.9L26.9 33.3Z"/><line x1="32.4" y1="34.0" x2="34.8" y2="34.1"/><path d="M36.6 34.1L34.8 34.9L34.8 33.3Z"/><line x1="40.4" y1="34.0" x2="42.8" y2="34.2"/><path d="M44.6 34.2L42.8 35.0L42.8 33.4Z"/><line x1="48.4" y1="34.0" x2="50.8" y2="34.4"/><path d="M52.6 34.6L50.7 35.2L50.9 33.6Z"/><line x1="56.3" y1="34.0" x2="58.9" y2="34.9"/><path d="M60.6 35.5L58.7 35.7L59.2 34.1Z"/><line x1="64.3" y1="34.0" x2="67.2" y2="35.8"/><path d="M68.7 36.7L66.8 36.5L67.6 35.1Z"/><line x1="72.2" y1="34.0" x2="75.4" y2="37.1"/><path d="M76.7 38.3L74.9 37.6L76.0 36.5Z"/><line x1="80.2" y1="34.0" x2="83.5" y2="38.5"/><path d="M84.6 40.0L82.9 39.0L84.2 38.0Z"/><line x1="88.2" y1="34.0" x2="91.4" y2="40.0"/><path d="M92.3 41.6L90.7 40.4L92.1 39.6Z"/><line x1="96.1" y1="34.0" x2="99.2" y2="41.5"/><path d="M99.9 43.2L98.4 41.8L99.9 41.2Z"/><line x1="104.1" y1="34.0" x2="107.1" y2="43.4"/><path d="M107.6 45.1L106.3 43.6L107.8 43.2Z"/><line x1="112.0" y1="34.0" x2="115.8" y2="46.4"/><path d="M116.3 48.1L115.0 46.6L116.5 46.1Z"/><line x1="120.0" y1="34.0" x2="122.4" y2="38.1"/><path d="M123.3 39.7L121.7 38.5L123.1 37.7Z"/><line x1="128.0" y1="34.0" x2="129.6" y2="31.3"/><path d="M130.5 29.8L130.3 31.7L128.9 30.9Z"/><line x1="135.9" y1="34.0" x2="137.8" y2="21.7"/><path d="M138.1 19.9L138.6 21.8L137.0 21.5Z"/><line x1="143.9" y1="34.0" x2="145.6" y2="24.1"/><path d="M146.0 22.3L146.4 24.2L144.9 24.0Z"/><line x1="0.6" y1="40.2" x2="3.3" y2="40.2"/><path d="M5.1 40.2L3.3 41.0L3.3 39.4Z"/><line x1="8.6" y1="40.2" x2="11.3" y2="40.2"/><path d="M13.1 40.2L11.3 41.0L11.3 39.4Z"/><line x1="16.5" y1="40.2" x2="19.2" y2="40.2"/><path d="M21.0 40.2L19.2 41.0L19.2 39.4Z"/><line x1="24.5" y1="40.2" x2="27.2" y2="40.2"/><path d="M29.0 40.2L27.2 41.0L27.2 39.4Z"/><line x1="32.4" y1="40.2" x2="35.1" y2="40.2"/><path d="M36.9 40.2L35.1 41.0L35.2 39.4Z"/><line x1="40.4" y1="40.2" x2="43.1" y2="40.3"/><path d="M44.9 40.4L43.1 41.1L43.2 39.5Z"/><line x1="48.4" y1="40.2" x2="51.2" y2="40.5"/><path d="M53.0 40.7L51.1 41.3L51.3 39.7Z"/><line x1="56.3" y1="40.2" x2="59.3" y2="41.0"/><path d="M61.1 41.5L59.1 41.8L59.6 40.3Z"/><line x1="64.3" y1="40.2" x2="67.7" y2="41.9"/><path d="M69.3 42.7L67.3 42.6L68.0 41.2Z"/><line x1="72.2" y1="40.2" x2="76.0" y2="43.1"/><path d="M77.5 44.2L75.6 43.7L76.5 42.5Z"/><line x1="80.2" y1="40.2" x2="84.4" y2="44.5"/><path d="M85.6 45.8L83.8 45.0L84.9 43.9Z"/><line x1="88.2" y1="40.2" x2="92.6" y2="45.8"/><path d="M93.7 47.2L91.9 46.3L93.2 45.3Z"/><line x1="96.1" y1="40.2" x2="100.8" y2="47.1"/><path d="M101.8 48.6L100.1 47.6L101.5 46.7Z"/><line x1="104.1" y1="40.2" x2="109.5" y2="48.4"/><path d="M110.5 49.9L108.8 48.8L110.2 47.9Z"/><line x1="112.0" y1="40.2" x2="119.9" y2="49.3"/><path d="M121.0 50.7L119.3 49.8L120.5 48.8Z"/><line x1="120.0" y1="40.2" x2="129.3" y2="44.3"/><path d="M131.0 45.0L129.0 45.0L129.7 43.5Z"/><line x1="128.0" y1="40.2" x2="136.6" y2="35.9"/><path d="M138.2 35.1L136.9 36.6L136.2 35.2Z"/><line x1="135.9" y1="40.2" x2="143.2" y2="29.5"/><path d="M144.2 28.0L143.9 29.9L142.6 29.0Z"/><line x1="143.9" y1="40.2" x2="148.6" y2="31.0"/><path d="M149.4 29.4L149.3 31.4L147.9 30.6Z"/><line x1="0.6" y1="46.3" x2="2.9" y2="46.3"/><path d="M4.7 46.3L2.9 47.1L2.9 45.5Z"/><line x1="8.6" y1="46.3" x2="10.9" y2="46.3"/><path d="M12.7 46.3L10.9 47.1L10.9 45.5Z"/><line x1="16.5" y1="46.3" x2="18.9" y2="46.3"/><path d="M20.7 46.3L18.9 47.1L18.9 45.5Z"/><line x1="24.5" y1="46.3" x2="26.8" y2="46.3"/><path d="M28.6 46.3L26.8 47.1L26.8 45.5Z"/><line x1="32.4" y1="46.3" x2="34.8" y2="46.3"/><path d="M36.6 46.3L34.8 47.1L34.8 45.5Z"/><line x1="40.4" y1="46.3" x2="42.8" y2="46.4"/><path d="M44.6 46.5L42.8 47.2L42.8 45.6Z"/><line x1="48.4" y1="46.3" x2="50.8" y2="46.6"/><path d="M52.6 46.8L50.8 47.4L50.9 45.8Z"/><line x1="56.3" y1="46.3" x2="59.1" y2="47.0"/><path d="M60.8 47.5L58.9 47.8L59.3 46.3Z"/><line x1="64.3" y1="46.3" x2="67.5" y2="47.8"/><path d="M69.1 48.6L67.1 48.5L67.8 47.1Z"/><line x1="72.2" y1="46.3" x2="76.0" y2="48.9"/><path d="M77.5 50.0L75.6 49.6L76.5 48.3Z"/><line x1="80.2" y1="46.3" x2="84.6" y2="50.2"/><path d="M85.9 51.4L84.0 50.8L85.1 49.6Z"/><line x1="88.2" y1="46.3" x2="93.1" y2="51.3"/><path d="M94.3 52.6L92.5 51.9L93.6 50.8Z"/><line x1="96.1" y1="46.3" x2="101.6" y2="52.2"/><path d="M102.9 53.6L101.1 52.8L102.2 51.7Z"/><line x1="104.1" y1="46.3" x2="110.7" y2="52.8"/><path d="M112.0 54.0L110.1 53.3L111.2 52.2Z"/><line x1="112.0" y1="46.3" x2="120.8" y2="52.2"/><path d="M122.3 53.2L120.4 52.9L121.2 51.6Z"/><line x1="120.0" y1="46.3" x2="131.8" y2="48.8"/><path d="M133.5 49.2L131.6 49.6L131.9 48.0Z"/><line x1="128.0" y1="46.3" x2="139.8" y2="42.4"/><path d="M141.5 41.9L140.0 43.2L139.5 41.7Z"/><line x1="135.9" y1="46.3" x2="144.5" y2="39.0"/><path d="M145.9 37.8L145.1 39.6L144.0 38.4Z"/><line x1="143.9" y1="46.3" x2="150.2" y2="38.7"/><path d="M151.3 37.3L150.8 39.2L149.5 38.2Z"/><line x1="0.6" y1="52.4" x2="2.1" y2="52.4"/><path d="M3.9 52.4L2.1 53.2L2.1 51.6Z"/><line x1="8.6" y1="52.4" x2="10.0" y2="52.4"/><path d="M11.8 52.4L10.0 53.2L10.0 51.6Z"/><line x1="16.5" y1="52.4" x2="18.0" y2="52.4"/><path d="M19.8 52.4L18.0 53.2L18.0 51.6Z"/><line x1="24.5" y1="52.4" x2="25.9" y2="52.4"/><path d="M27.7 52.4L25.9 53.2L26.0 51.6Z"/><line x1="32.4" y1="52.4" x2="33.9" y2="52.5"/><path d="M35.7 52.5L33.9 53.3L33.9 51.7Z"/><line x1="40.4" y1="52.4" x2="41.9" y2="52.5"/><path d="M43.7 52.6L41.9 53.3L41.9 51.7Z"/><line x1="48.4" y1="52.4" x2="50.0" y2="52.6"/><path d="M51.8 52.8L49.9 53.4L50.1 51.8Z"/><line x1="56.3" y1="52.4" x2="58.2" y2="53.0"/><path d="M60.0 53.4L58.0 53.7L58.4 52.2Z"/><line x1="64.3" y1="52.4" x2="66.7" y2="53.6"/><path d="M68.3 54.4L66.4 54.3L67.1 52.9Z"/><line x1="72.2" y1="52.4" x2="75.4" y2="54.6"/><path d="M76.9 55.6L74.9 55.2L75.8 53.9Z"/><line x1="80.2" y1="52.4" x2="84.1" y2="55.7"/><path d="M85.5 56.8L83.6 56.3L84.6 55.0Z"/><line x1="88.2" y1="52.4" x2="92.9" y2="56.6"/><path d="M94.2 57.8L92.3 57.2L93.4 56.0Z"/><line x1="96.1" y1="52.4" x2="101.7" y2="57.2"/><path d="M103.1 58.4L101.2 57.8L102.2 56.6Z"/><line x1="104.1" y1="52.4" x2="110.8" y2="57.3"/><path d="M112.2 58.3L110.3 57.9L111.2 56.6Z"/><line x1="112.0" y1="52.4" x2="120.3" y2="56.2"/><path d="M121.9 57.0L119.9 57.0L120.6 55.5Z"/><line x1="120.0" y1="52.4" x2="129.7" y2="53.6"/><path d="M131.5 53.8L129.6 54.4L129.8 52.8Z"/><line x1="128.0" y1="52.4" x2="137.7" y2="49.9"/><path d="M139.4 49.5L137.9 50.7L137.5 49.2Z"/><line x1="135.9" y1="52.4" x2="144.1" y2="47.3"/><path d="M145.6 46.4L144.5 48.0L143.7 46.6Z"/><line x1="143.9" y1="52.4" x2="150.4" y2="46.5"/><path d="M151.7 45.3L150.9 47.1L149.9 45.9Z"/><line x1="0.6" y1="58.6" x2="1.0" y2="58.6"/><path d="M2.8 58.6L1.0 59.4L1.0 57.8Z"/><line x1="8.6" y1="58.6" x2="9.0" y2="58.6"/><path d="M10.8 58.6L9.0 59.4L9.0 57.8Z"/><line x1="16.5" y1="58.6" x2="16.9" y2="58.6"/><path d="M18.7 58.6L16.9 59.4L16.9 57.8Z"/><line x1="24.5" y1="58.6" x2="24.9" y2="58.6"/><path d="M26.7 58.6L24.9 59.4L24.9 57.8Z"/><line x1="32.4" y1="58.6" x2="32.9" y2="58.6"/><path d="M34.7 58.6L32.8 59.4L32.9 57.8Z"/><line x1="40.4" y1="58.6" x2="40.8" y2="58.6"/><path d="M42.6 58.7L40.8 59.4L40.9 57.8Z"/><line x1="48.4" y1="58.6" x2="48.9" y2="58.6"/><path d="M50.7 58.9L48.8 59.4L49.0 57.8Z"/><line x1="56.3" y1="58.6" x2="57.2" y2="58.8"/><path d="M58.9 59.3L56.9 59.6L57.4 58.1Z"/><line x1="64.3" y1="58.6" x2="65.7" y2="59.3"/><path d="M67.3 60.1L65.3 60.0L66.1 58.6Z"/><line x1="72.2" y1="58.6" x2="74.4" y2="60.1"/><path d="M75.9 61.1L74.0 60.8L74.9 59.4Z"/><line x1="80.2" y1="58.6" x2="83.3" y2="61.0"/><path d="M84.7 62.1L82.8 61.7L83.8 60.4Z"/><line x1="88.2" y1="58.6" x2="92.2" y2="61.8"/><path d="M93.6 62.9L91.7 62.4L92.7 61.2Z"/><line x1="96.1" y1="58.6" x2="101.2" y2="62.2"/><path d="M102.6 63.3L100.7 62.9L101.6 61.6Z"/><line x1="104.1" y1="58.6" x2="110.2" y2="62.1"/><path d="M111.8 62.9L109.8 62.8L110.6 61.4Z"/><line x1="112.0" y1="58.6" x2="119.3" y2="61.1"/><path d="M121.0 61.6L119.0 61.8L119.6 60.3Z"/><line x1="120.0" y1="58.6" x2="128.1" y2="59.1"/><path d="M129.9 59.3L128.0 59.9L128.2 58.3Z"/><line x1="128.0" y1="58.6" x2="136.1" y2="56.8"/><path d="M137.8 56.4L136.2 57.5L135.9 56.0Z"/><line x1="135.9" y1="58.6" x2="143.1" y2="54.9"/><path d="M144.7 54.1L143.5 55.6L142.8 54.2Z"/><line x1="143.9" y1="58.6" x2="149.9" y2="54.0"/><path d="M151.3 52.9L150.3 54.7L149.4 53.4Z"/><path d="M1.9 64.7L0.6 65.4L0.6 64.0Z"/><path d="M9.8 64.7L8.6 65.4L8.6 64.0Z"/><path d="M17.8 64.7L16.5 65.4L16.5 64.0Z"/><path d="M25.8 64.7L24.5 65.4L24.5 64.0Z"/><path d="M33.7 64.7L32.4 65.4L32.4 64.0Z"/><path d="M41.7 64.8L40.4 65.4L40.4 64.0Z"/><path d="M49.7 64.9L48.3 65.4L48.5 64.0Z"/><path d="M57.9 65.3L56.1 65.4L56.6 64.0Z"/><line x1="64.3" y1="64.7" x2="64.7" y2="65.0"/><path d="M66.3 65.9L64.3 65.7L65.1 64.3Z"/><line x1="72.2" y1="64.7" x2="73.5" y2="65.6"/><path d="M74.9 66.7L73.0 66.3L74.0 65.0Z"/><line x1="80.2" y1="64.7" x2="82.4" y2="66.4"/><path d="M83.8 67.5L81.9 67.0L82.9 65.7Z"/><line x1="88.2" y1="64.7" x2="91.3" y2="67.0"/><path d="M92.8 68.1L90.9 67.7L91.8 66.4Z"/><line x1="96.1" y1="64.7" x2="100.3" y2="67.3"/><path d="M101.9 68.3L99.9 68.0L100.8 66.7Z"/><line x1="104.1" y1="64.7" x2="109.3" y2="67.1"/><path d="M111.0 67.9L109.0 67.9L109.7 66.4Z"/><line x1="112.0" y1="64.7" x2="118.2" y2="66.3"/><path d="M119.9 66.8L118.0 67.1L118.4 65.6Z"/><line x1="120.0" y1="64.7" x2="126.7" y2="65.0"/><path d="M128.5 65.0L126.7 65.8L126.7 64.2Z"/><line x1="128.0" y1="64.7" x2="134.6" y2="63.3"/><path d="M136.4 63.0L134.8 64.1L134.5 62.6Z"/><line x1="135.9" y1="64.7" x2="142.0" y2="62.0"/><path d="M143.6 61.3L142.3 62.7L141.7 61.3Z"/><line x1="143.9" y1="64.7" x2="149.0" y2="61.3"/><path d="M150.5 60.3L149.4 62.0L148.5 60.6Z"/><path d="M1.2 70.8L0.2 71.5L0.2 70.1Z"/><path d="M9.2 70.8L8.2 71.5L8.2 70.1Z"/><path d="M17.2 70.8L16.2 71.5L16.2 70.1Z"/><path d="M25.1 70.8L24.1 71.5L24.1 70.1Z"/><path d="M33.1 70.8L32.1 71.5L32.1 70.1Z"/><path d="M41.0 70.9L40.0 71.5L40.1 70.1Z"/><path d="M49.1 71.0L48.0 71.5L48.2 70.1Z"/><path d="M57.2 71.2L56.0 71.5L56.5 70.2Z"/><path d="M65.5 71.6L63.9 71.4L64.7 70.2Z"/><line x1="72.2" y1="70.8" x2="72.7" y2="71.2"/><path d="M74.1 72.2L72.2 71.8L73.2 70.5Z"/><line x1="80.2" y1="70.8" x2="81.5" y2="71.8"/><path d="M82.9 72.9L81.0 72.4L82.0 71.2Z"/><line x1="88.2" y1="70.8" x2="90.4" y2="72.3"/><path d="M91.9 73.3L90.0 73.0L90.9 71.7Z"/><line x1="96.1" y1="70.8" x2="99.4" y2="72.6"/><path d="M101.0 73.5L99.0 73.3L99.8 71.9Z"/><line x1="104.1" y1="70.8" x2="108.3" y2="72.5"/><path d="M110.0 73.1L108.0 73.2L108.6 71.7Z"/><line x1="112.0" y1="70.8" x2="117.0" y2="71.9"/><path d="M118.8 72.3L116.8 72.7L117.2 71.1Z"/><line x1="120.0" y1="70.8" x2="125.4" y2="70.9"/><path d="M127.2 70.9L125.4 71.7L125.4 70.1Z"/><line x1="128.0" y1="70.8" x2="133.3" y2="69.8"/><path d="M135.1 69.5L133.5 70.6L133.2 69.0Z"/><line x1="135.9" y1="70.8" x2="140.8" y2="68.9"/><path d="M142.5 68.2L141.1 69.6L140.5 68.2Z"/><line x1="143.9" y1="70.8" x2="148.0" y2="68.4"/><path d="M149.5 67.5L148.4 69.1L147.5 67.7Z"/><circle cx="0.6" cy="77.0" r="0.45"/><circle cx="8.6" cy="77.0" r="0.45"/><circle cx="16.5" cy="77.0" r="0.45"/><circle cx="24.5" cy="77.0" r="0.45"/><circle cx="32.4" cy="77.0" r="0.45"/><circle cx="40.4" cy="77.0" r="0.45"/><circle cx="48.4" cy="77.0" r="0.45"/><path d="M56.8 77.2L55.6 77.4L56.2 76.1Z"/><path d="M65.0 77.5L63.8 77.5L64.6 76.3Z"/><path d="M73.5 77.9L71.8 77.5L72.7 76.4Z"/><line x1="80.2" y1="77.0" x2="80.7" y2="77.3"/><path d="M82.2 78.4L80.2 78.0L81.2 76.7Z"/><line x1="88.2" y1="77.0" x2="89.5" y2="77.8"/><path d="M91.0 78.7L89.1 78.5L89.9 77.1Z"/><line x1="96.1" y1="77.0" x2="98.4" y2="78.0"/><path d="M100.0 78.8L98.0 78.8L98.7 77.3Z"/><line x1="104.1" y1="77.0" x2="107.2" y2="78.0"/><path d="M108.9 78.6L106.9 78.7L107.4 77.2Z"/><line x1="112.0" y1="77.0" x2="115.8" y2="77.6"/><path d="M117.6 77.9L115.6 78.4L115.9 76.8Z"/><line x1="120.0" y1="77.0" x2="124.1" y2="77.0"/><path d="M125.9 77.0L124.1 77.8L124.1 76.2Z"/><line x1="128.0" y1="77.0" x2="132.0" y2="76.2"/><path d="M133.8 75.9L132.2 77.0L131.9 75.4Z"/><line x1="135.9" y1="77.0" x2="139.6" y2="75.6"/><path d="M141.3 75.0L139.9 76.4L139.3 74.9Z"/><line x1="143.9" y1="77.0" x2="146.9" y2="75.3"/><path d="M148.5 74.5L147.3 76.0L146.5 74.6Z"/><circle cx="0.6" cy="83.1" r="0.45"/><circle cx="8.6" cy="83.1" r="0.45"/><circle cx="16.5" cy="83.1" r="0.45"/><circle cx="24.5" cy="83.1" r="0.45"/><circle cx="32.4" cy="83.1" r="0.45"/><circle cx="40.4" cy="83.1" r="0.45"/><circle cx="48.4" cy="83.1" r="0.45"/><circle cx="56.3" cy="83.1" r="0.45"/><path d="M64.7 83.4L63.5 83.4L64.3 82.2Z"/><path d="M73.0 83.7L71.8 83.6L72.6 82.5Z"/><path d="M81.5 84.0L79.8 83.7L80.6 82.5Z"/><line x1="88.2" y1="83.1" x2="88.7" y2="83.4"/><path d="M90.2 84.2L88.3 84.1L89.0 82.7Z"/><line x1="96.1" y1="83.1" x2="97.4" y2="83.6"/><path d="M99.0 84.3L97.0 84.4L97.7 82.9Z"/><line x1="104.1" y1="83.1" x2="106.0" y2="83.6"/><path d="M107.8 84.1L105.8 84.4L106.2 82.9Z"/><line x1="112.0" y1="83.1" x2="114.5" y2="83.4"/><path d="M116.3 83.7L114.4 84.2L114.6 82.6Z"/><line x1="120.0" y1="83.1" x2="122.8" y2="83.1"/><path d="M124.6 83.0L122.8 83.9L122.8 82.3Z"/><line x1="128.0" y1="83.1" x2="130.7" y2="82.6"/><path d="M132.5 82.3L130.9 83.4L130.6 81.8Z"/><line x1="135.9" y1="83.1" x2="138.4" y2="82.3"/><path d="M140.1 81.7L138.6 83.0L138.1 81.5Z"/><line x1="143.9" y1="83.1" x2="145.8" y2="82.1"/><path d="M147.4 81.3L146.2 82.9L145.4 81.4Z"/><circle cx="0.6" cy="89.2" r="0.45"/><circle cx="8.6" cy="89.2" r="0.45"/><circle cx="16.5" cy="89.2" r="0.45"/><circle cx="24.5" cy="89.2" r="0.45"/><circle cx="32.4" cy="89.2" r="0.45"/><circle cx="40.4" cy="89.2" r="0.45"/><circle cx="48.4" cy="89.2" r="0.45"/><circle cx="56.3" cy="89.2" r="0.45"/><circle cx="64.3" cy="89.2" r="0.45"/><path d="M72.7 89.5L71.5 89.5L72.3 88.4Z"/><path d="M81.0 89.7L79.8 89.8L80.5 88.6Z"/><path d="M89.5 89.9L87.8 89.8L88.5 88.6Z"/><line x1="96.1" y1="89.2" x2="96.4" y2="89.3"/><path d="M98.1 90.0L96.2 90.1L96.7 88.6Z"/><line x1="104.1" y1="89.2" x2="104.9" y2="89.4"/><path d="M106.7 89.9L104.7 90.2L105.1 88.7Z"/><line x1="112.0" y1="89.2" x2="113.3" y2="89.4"/><path d="M115.1 89.6L113.2 90.2L113.4 88.6Z"/><line x1="120.0" y1="89.2" x2="121.5" y2="89.2"/><path d="M123.3 89.1L121.5 90.0L121.5 88.4Z"/><line x1="128.0" y1="89.2" x2="129.5" y2="89.0"/><path d="M131.3 88.7L129.6 89.8L129.4 88.2Z"/><line x1="135.9" y1="89.2" x2="137.2" y2="88.8"/><path d="M138.9 88.3L137.5 89.6L137.0 88.1Z"/><line x1="143.9" y1="89.2" x2="144.8" y2="88.8"/><path d="M146.4 88.1L145.1 89.5L144.4 88.1Z"/><circle cx="0.6" cy="95.4" r="0.45"/><circle cx="8.6" cy="95.4" r="0.45"/><circle cx="16.5" cy="95.4" r="0.45"/><circle cx="24.5" cy="95.4" r="0.45"/><circle cx="32.4" cy="95.4" r="0.45"/><circle cx="40.4" cy="95.4" r="0.45"/><circle cx="48.4" cy="95.4" r="0.45"/><circle cx="56.3" cy="95.4" r="0.45"/><circle cx="64.3" cy="95.4" r="0.45"/><circle cx="72.2" cy="95.4" r="0.45"/><path d="M80.7 95.6L79.5 95.7L80.1 94.5Z"/><path d="M89.0 95.7L87.8 95.9L88.4 94.7Z"/><path d="M97.4 95.8L95.9 96.0L96.3 94.7Z"/><path d="M105.8 95.7L103.9 96.1L104.2 94.6Z"/><line x1="112.0" y1="95.4" x2="112.3" y2="95.4"/><path d="M114.1 95.5L112.2 96.2L112.3 94.6Z"/><line x1="120.0" y1="95.4" x2="120.4" y2="95.3"/><path d="M122.2 95.3L120.4 96.1L120.4 94.5Z"/><line x1="128.0" y1="95.4" x2="128.4" y2="95.3"/><path d="M130.1 95.0L128.5 96.1L128.2 94.5Z"/><line x1="135.9" y1="95.4" x2="136.2" y2="95.3"/><path d="M137.9 94.8L136.4 96.0L136.0 94.5Z"/><path d="M145.5 94.7L144.2 96.1L143.6 94.6Z"/></g></g><rect x="0.5" y="0.5" width="145" height="96" fill="none" stroke="#8a8a8a" stroke-width="1"/></g><text x="90.5" y="155.8" font-size="5.27" fill="#2b2b2b" text-anchor="middle" textLength="129.6" lengthAdjust="spacingAndGlyphs" font-family="Liberation Sans, sans-serif">(d) Wind: EXPT minus CTRL 10-15 d Before Onset</text><text x="20.0" y="176.8" font-size="6.40" fill="#666" text-anchor="end" textLength="15.0" lengthAdjust="spacingAndGlyphs" font-family="Liberation Sans, sans-serif">20°N</text><text x="20.0" y="193.0" font-size="6.40" fill="#666" text-anchor="end" textLength="14.8" lengthAdjust="spacingAndGlyphs" font-family="Liberation Sans, sans-serif">15°N</text><text x="20.0" y="209.1" font-size="6.40" fill="#666" text-anchor="end" textLength="14.8" lengthAdjust="spacingAndGlyphs" font-family="Liberation Sans, sans-serif">10°N</text><text x="20.0" y="225.3" font-size="6.40" fill="#666" text-anchor="end" textLength="10.9" lengthAdjust="spacingAndGlyphs" font-family="Liberation Sans, sans-serif">5°N</text><text x="20.0" y="241.4" font-size="6.40" fill="#666" text-anchor="end" textLength="6.2" lengthAdjust="spacingAndGlyphs" font-family="Liberation Sans, sans-serif">0°</text><text x="38.2" y="261.8" font-size="6.30" fill="#666" text-anchor="middle" textLength="14.1" lengthAdjust="spacingAndGlyphs" font-family="Liberation Sans, sans-serif">60°E</text><text x="70.6" y="261.8" font-size="6.30" fill="#666" text-anchor="middle" textLength="14.0" lengthAdjust="spacingAndGlyphs" font-family="Liberation Sans, sans-serif">70°E</text><text x="102.8" y="261.8" font-size="6.30" fill="#666" text-anchor="middle" textLength="14.1" lengthAdjust="spacingAndGlyphs" font-family="Liberation Sans, sans-serif">80°E</text><text x="135.1" y="261.8" font-size="6.30" fill="#666" text-anchor="middle" textLength="14.1" lengthAdjust="spacingAndGlyphs" font-family="Liberation Sans, sans-serif">90°E</text><g transform="translate(185,158)"><g clip-path="url(#pc)"><g transform="scale(0.1)"><rect x="0" y="0" width="1460" height="970" fill="#7b9ff9"/><path fill="#9ebeff" fill-rule="evenodd" d="M0 0l328 0 3 20 9 11 15 5 35 1 35-1 15-5 9-11 3-20 998 0 0 23-85 0-20 3-11 4-9 6-8 9-4 10-3 15 2 15 5 10 6 5 13 5 34 4 80 0 0 851-1450 0 0-960zM1070 14l-10 3-5 4-5 9-2 10 0 55 5 15 8 10 16 10 41 20 49 20 18 2 40 0 10-2 10-6 6-9 1-10 1-85-1-25-4-10-4-5-9-5-15-2-150 1zM1300 845l-45 12-10 8-3 5-2 15 4 20 4 15 7 10 15 7 40 0 70-6 10-3 9-8 6-15 4-25-1-10-8-10-15-6-45-9-20-2-20 2z"/><path fill="#c0d4f5" fill-rule="evenodd" d="M0 40l0-2 20 0 40 4 65 1 25 3 145 29 75 24 40 16 45 22 20 14 11 14 27 50 37 60 15 12 20 6 10-2 10-8 23-48 7-10 15-14 40-29 60-32 90-73 15-9 10-3 25 1 65 10 20 5 16 9 47 40 15 10 87 42 15 6 15 3 60 1 30-6 20-11 23-30 7-5 10-4 130 0 0 514-50 16-20 8-255 178-100 54-30 15-15 5-15 1-55 0-40-4-55-1-45-4-50-1-35-3-55 0-50-6-100-1-50-4-110-1-25-5-50-20-25-4-10 2-8 5-3 5 3 75-202 0 0-555 55-1 25-4 10-6 8-9 6-15 1-15-2-15-4-10-8-10-11-8-25-7-55-5 0-260z"/><path fill="#dddcdc" fill-rule="evenodd" d="M973 130l12 0 15 3 50 23 33 19 67 45 20 6 20 0 80-11 60-21 25-5 30-1 65 8 0 398-60 9-20 7-80 52-125 76-145 59-155 47-142 16-13 5-35 23-15 5-15 1-15-3-10-4-10-7-7-15-8-34-4-11-6-7-10-4-230-16-345 0 0-361 75-1 90-4 400 0 25-2 11-5 12-10 22-23 8-12 4-20 1-75 4-15 8-10 10-5 29-5 15-5 146-71 85-32 28-7zM0 160l0-3 100 1 30 5 85 20 20 8 21 19 11 15 1 15-6 10-12 9-45 18-20 5-40 0-145-5 0-117z"/><path fill="#f2cbb7" fill-rule="evenodd" d="M955 155l15-4 15 0 18 4 25 10 30 15 82 57 15 6 10 3 25 0 50-8 30-6 55-18 30-6 30 1 65 8 0 357-55 8-25 8-20 12-65 45-65 35-64 38-135 55-164 50-142 16-15 6-33 23-12 5-15-1-8-4-6-5-4-10-9-35-5-15-13-12-15-5-235-16-345 0 0-323 575-1 25-4 10-5 15-12 26-27 10-15 6-25 1-70 2-10 5-7 5-3 40-10 131-65 104-40zM0 180l0-2 95 0 20 3 65 14 30 8 15 6 15 16 1 10-6 7-16 8-24 9-15 2-180-1 0-80z"/><path fill="#f7ac8e" fill-rule="evenodd" d="M1004 230l16 0 15 3 125 38 35 8 20-2 70-32 20-7 15-4 20 1 20 4 40 12 20 9 30 22 0 244-35 13-20 10-102 76-23 14-50 19-120 33-15 2-15-2-125-33-45-15-25-14-80-55-15-14-6-10-2-10 0-10 28-150 9-20 34-50 11-15 11-10 20-10 80-32 39-13zM0 525l0-3 85 1 35 4 45 1 200 21 20 5 42 21 14 10 5 10-5 10-6 5-55 28-130 31-80 17-40 2-100 9-30 0 0-172z"/><path fill="#ee8468" fill-rule="evenodd" d="M1322 295l23-5 10 1 10 5 23 19 22 25 4 10 3 15-1 75-5 20-23 50-19 30-28 25-76 55-42 15-103 30-25 6-20 0-132-36-43-15-75-50-14-10-8-10-2-10 4-10 48-55 43-45 13-20 33-65 8-9 10-7 35-9 80-16 50-1 85 7 40 1 30-4 42-12z"/><path fill="#d65244" fill-rule="evenodd" d="M1272 335l53-2 25 1 14 6 8 10 8 30 0 15-2 10-7 15-17 25-9 11-10 7-25 7-55 8-35-1-50-6-20-9-56-42-17-15-6-10 1-10 9-10 29-18 15-7 50-6 97-9z"/></g><path d="M16.2 0V96M48.6 0V96M80.8 0V96M113.1 0V96M0 17.4H145M0 33.6H145M0 49.7H145M0 65.9H145M0 82.0H145" stroke="#808080" stroke-opacity="0.22" stroke-width="0.6" fill="none"/><use href="#coast" fill="none" stroke="#2a2a2a" stroke-width="0.45" stroke-opacity="0.9"/><use href="#dots" fill="#444" fill-opacity="0.6"/><g fill="#111" stroke="#1a1a1a" stroke-width="0.4" stroke-linejoin="round"><circle cx="0.6" cy="3.4" r="0.45"/><circle cx="8.6" cy="3.4" r="0.45"/><circle cx="16.5" cy="3.4" r="0.45"/><circle cx="24.5" cy="3.4" r="0.45"/><circle cx="32.4" cy="3.4" r="0.45"/><circle cx="40.4" cy="3.4" r="0.45"/><circle cx="48.4" cy="3.4" r="0.45"/><circle cx="56.3" cy="3.4" r="0.45"/><circle cx="64.3" cy="3.4" r="0.45"/><circle cx="72.2" cy="3.4" r="0.45"/><circle cx="80.2" cy="3.4" r="0.45"/><circle cx="88.2" cy="3.4" r="0.45"/><circle cx="96.1" cy="3.4" r="0.45"/><circle cx="104.1" cy="3.4" r="0.45"/><circle cx="112.0" cy="3.4" r="0.45"/><circle cx="120.0" cy="3.4" r="0.45"/><circle cx="128.0" cy="3.4" r="0.45"/><circle cx="135.9" cy="3.4" r="0.45"/><circle cx="143.9" cy="3.4" r="0.45"/><circle cx="0.6" cy="9.5" r="0.45"/><circle cx="8.6" cy="9.5" r="0.45"/><circle cx="16.5" cy="9.5" r="0.45"/><circle cx="24.5" cy="9.5" r="0.45"/><circle cx="32.4" cy="9.5" r="0.45"/><circle cx="40.4" cy="9.5" r="0.45"/><circle cx="48.4" cy="9.5" r="0.45"/><circle cx="56.3" cy="9.5" r="0.45"/><circle cx="64.3" cy="9.5" r="0.45"/><circle cx="72.2" cy="9.5" r="0.45"/><circle cx="80.2" cy="9.5" r="0.45"/><circle cx="88.2" cy="9.5" r="0.45"/><circle cx="96.1" cy="9.5" r="0.45"/><circle cx="104.1" cy="9.5" r="0.45"/><circle cx="112.0" cy="9.5" r="0.45"/><circle cx="120.0" cy="9.5" r="0.45"/><circle cx="128.0" cy="9.5" r="0.45"/><circle cx="135.9" cy="9.5" r="0.45"/><circle cx="143.9" cy="9.5" r="0.45"/><circle cx="0.6" cy="15.7" r="0.45"/><circle cx="8.6" cy="15.7" r="0.45"/><circle cx="16.5" cy="15.7" r="0.45"/><circle cx="24.5" cy="15.7" r="0.45"/><circle cx="32.4" cy="15.7" r="0.45"/><circle cx="40.4" cy="15.7" r="0.45"/><circle cx="48.4" cy="15.7" r="0.45"/><circle cx="56.3" cy="15.7" r="0.45"/><circle cx="64.3" cy="15.7" r="0.45"/><circle cx="72.2" cy="15.7" r="0.45"/><circle cx="80.2" cy="15.7" r="0.45"/><circle cx="88.2" cy="15.7" r="0.45"/><circle cx="96.1" cy="15.7" r="0.45"/><circle cx="104.1" cy="15.7" r="0.45"/><circle cx="112.0" cy="15.7" r="0.45"/><circle cx="120.0" cy="15.7" r="0.45"/><circle cx="128.0" cy="15.7" r="0.45"/><circle cx="135.9" cy="15.7" r="0.45"/><circle cx="143.9" cy="15.7" r="0.45"/><path d="M1.2 21.8L0.2 22.5L0.2 21.1Z"/><path d="M9.1 21.8L8.1 22.5L8.1 21.1Z"/><path d="M17.1 21.8L16.1 22.5L16.1 21.1Z"/><path d="M25.0 21.8L24.0 22.5L24.0 21.1Z"/><path d="M33.0 21.8L32.0 22.5L32.0 21.1Z"/><path d="M41.0 21.8L40.0 22.5L40.0 21.1Z"/><path d="M48.9 21.8L47.9 22.5L47.9 21.1Z"/><path d="M56.9 21.8L55.9 22.5L55.9 21.1Z"/><path d="M64.8 21.8L63.8 22.5L63.8 21.1Z"/><path d="M72.8 21.8L71.8 22.5L71.8 21.1Z"/><path d="M80.8 21.8L79.8 22.5L79.8 21.1Z"/><path d="M88.8 21.8L87.8 22.5L87.8 21.1Z"/><path d="M96.8 21.8L95.8 22.5L95.8 21.1Z"/><path d="M104.8 21.8L103.8 22.5L103.8 21.1Z"/><path d="M112.8 21.8L111.8 22.5L111.8 21.1Z"/><path d="M120.8 21.8L119.8 22.5L119.8 21.1Z"/><path d="M128.8 21.8L127.8 22.5L127.7 21.1Z"/><path d="M136.7 21.8L135.7 22.5L135.7 21.1Z"/><path d="M144.6 21.8L143.6 22.5L143.6 21.1Z"/><path d="M1.8 27.9L0.6 28.6L0.6 27.2Z"/><path d="M9.8 27.9L8.6 28.6L8.6 27.2Z"/><path d="M17.7 27.9L16.5 28.6L16.5 27.2Z"/><path d="M25.7 27.9L24.5 28.6L24.5 27.2Z"/><path d="M33.7 27.9L32.4 28.6L32.4 27.2Z"/><path d="M41.6 27.9L40.4 28.6L40.4 27.2Z"/><path d="M49.6 27.9L48.4 28.6L48.4 27.2Z"/><path d="M57.5 27.9L56.3 28.6L56.3 27.2Z"/><path d="M65.5 27.9L64.3 28.6L64.3 27.2Z"/><path d="M73.5 27.9L72.2 28.6L72.2 27.2Z"/><path d="M81.6 27.9L80.2 28.6L80.2 27.2Z"/><path d="M89.6 27.9L88.2 28.6L88.2 27.2Z"/><path d="M97.7 27.9L96.1 28.6L96.1 27.2Z"/><path d="M105.8 27.9L104.1 28.7L104.1 27.1Z"/><line x1="112.0" y1="27.9" x2="112.1" y2="27.9"/><path d="M113.9 27.9L112.2 28.7L112.1 27.1Z"/><line x1="120.0" y1="27.9" x2="120.1" y2="27.9"/><path d="M121.9 27.8L120.2 28.7L120.1 27.1Z"/><line x1="128.0" y1="27.9" x2="128.1" y2="27.9"/><path d="M129.9 27.8L128.1 28.7L128.0 27.1Z"/><path d="M137.7 27.9L136.0 28.7L135.9 27.1Z"/><path d="M145.5 27.9L143.9 28.6L143.9 27.2Z"/><line x1="0.6" y1="34.0" x2="1.0" y2="34.0"/><path d="M2.8 34.0L1.0 34.8L1.0 33.2Z"/><line x1="8.6" y1="34.0" x2="9.0" y2="34.0"/><path d="M10.8 34.0L9.0 34.8L9.0 33.2Z"/><line x1="16.5" y1="34.0" x2="16.9" y2="34.0"/><path d="M18.7 34.0L16.9 34.8L16.9 33.2Z"/><line x1="24.5" y1="34.0" x2="24.9" y2="34.0"/><path d="M26.7 34.0L24.9 34.8L24.9 33.2Z"/><line x1="32.4" y1="34.0" x2="32.8" y2="34.0"/><path d="M34.6 34.0L32.8 34.8L32.8 33.2Z"/><line x1="40.4" y1="34.0" x2="40.8" y2="34.0"/><path d="M42.6 34.0L40.8 34.8L40.8 33.2Z"/><line x1="48.4" y1="34.0" x2="48.8" y2="34.0"/><path d="M50.6 34.0L48.8 34.8L48.8 33.2Z"/><line x1="56.3" y1="34.0" x2="56.7" y2="34.0"/><path d="M58.5 34.0L56.7 34.8L56.7 33.2Z"/><line x1="64.3" y1="34.0" x2="64.7" y2="34.0"/><path d="M66.5 34.0L64.7 34.8L64.7 33.2Z"/><line x1="72.2" y1="34.0" x2="72.6" y2="34.0"/><path d="M74.4 34.0L72.6 34.8L72.6 33.2Z"/><line x1="80.2" y1="34.0" x2="80.8" y2="34.0"/><path d="M82.6 34.0L80.8 34.8L80.8 33.2Z"/><line x1="88.2" y1="34.0" x2="89.0" y2="34.0"/><path d="M90.8 34.0L89.0 34.8L89.0 33.2Z"/><line x1="96.1" y1="34.0" x2="97.3" y2="34.0"/><path d="M99.1 34.0L97.3 34.8L97.3 33.2Z"/><line x1="104.1" y1="34.0" x2="105.5" y2="34.0"/><path d="M107.3 33.9L105.6 34.8L105.5 33.2Z"/><line x1="112.0" y1="34.0" x2="113.8" y2="34.0"/><path d="M115.6 33.8L113.8 34.8L113.7 33.2Z"/><line x1="120.0" y1="34.0" x2="121.8" y2="33.9"/><path d="M123.6 33.8L121.9 34.7L121.8 33.1Z"/><line x1="128.0" y1="34.0" x2="129.7" y2="33.9"/><path d="M131.5 33.8L129.7 34.7L129.6 33.1Z"/><line x1="135.9" y1="34.0" x2="137.4" y2="33.9"/><path d="M139.2 33.8L137.4 34.7L137.3 33.2Z"/><line x1="143.9" y1="34.0" x2="145.0" y2="34.0"/><path d="M146.8 33.9L145.1 34.8L145.0 33.2Z"/><line x1="0.6" y1="40.2" x2="2.1" y2="40.2"/><path d="M3.9 40.2L2.1 41.0L2.1 39.4Z"/><line x1="8.6" y1="40.2" x2="10.0" y2="40.2"/><path d="M11.8 40.2L10.0 41.0L10.0 39.4Z"/><line x1="16.5" y1="40.2" x2="18.0" y2="40.2"/><path d="M19.8 40.2L18.0 41.0L18.0 39.4Z"/><line x1="24.5" y1="40.2" x2="25.9" y2="40.2"/><path d="M27.7 40.2L25.9 41.0L25.9 39.4Z"/><line x1="32.4" y1="40.2" x2="33.9" y2="40.2"/><path d="M35.7 40.2L33.9 41.0L33.9 39.4Z"/><line x1="40.4" y1="40.2" x2="41.9" y2="40.2"/><path d="M43.7 40.2L41.9 41.0L41.9 39.4Z"/><line x1="48.4" y1="40.2" x2="49.8" y2="40.2"/><path d="M51.6 40.2L49.8 41.0L49.8 39.4Z"/><line x1="56.3" y1="40.2" x2="57.8" y2="40.2"/><path d="M59.6 40.2L57.8 41.0L57.8 39.4Z"/><line x1="64.3" y1="40.2" x2="65.7" y2="40.2"/><path d="M67.5 40.2L65.7 41.0L65.7 39.4Z"/><line x1="72.2" y1="40.2" x2="73.7" y2="40.2"/><path d="M75.5 40.2L73.7 41.0L73.7 39.4Z"/><line x1="80.2" y1="40.2" x2="82.0" y2="40.2"/><path d="M83.8 40.2L82.0 41.0L82.0 39.4Z"/><line x1="88.2" y1="40.2" x2="90.3" y2="40.2"/><path d="M92.1 40.1L90.3 41.0L90.2 39.4Z"/><line x1="96.1" y1="40.2" x2="98.6" y2="40.1"/><path d="M100.4 40.1L98.6 40.9L98.6 39.3Z"/><line x1="104.1" y1="40.2" x2="107.0" y2="40.0"/><path d="M108.8 39.9L107.0 40.8L107.0 39.2Z"/><line x1="112.0" y1="40.2" x2="115.3" y2="39.9"/><path d="M117.1 39.7L115.4 40.7L115.2 39.1Z"/><line x1="120.0" y1="40.2" x2="123.4" y2="39.8"/><path d="M125.2 39.6L123.5 40.6L123.3 39.0Z"/><line x1="128.0" y1="40.2" x2="131.2" y2="39.8"/><path d="M133.0 39.6L131.3 40.6L131.1 39.0Z"/><line x1="135.9" y1="40.2" x2="138.8" y2="39.9"/><path d="M140.6 39.7L138.9 40.7L138.8 39.1Z"/><line x1="143.9" y1="40.2" x2="146.4" y2="40.0"/><path d="M148.2 39.9L146.4 40.8L146.3 39.2Z"/><line x1="0.6" y1="46.3" x2="2.8" y2="46.3"/><path d="M4.6 46.3L2.8 47.1L2.8 45.5Z"/><line x1="8.6" y1="46.3" x2="10.8" y2="46.3"/><path d="M12.6 46.3L10.8 47.1L10.8 45.5Z"/><line x1="16.5" y1="46.3" x2="18.7" y2="46.3"/><path d="M20.5 46.3L18.7 47.1L18.7 45.5Z"/><line x1="24.5" y1="46.3" x2="26.7" y2="46.3"/><path d="M28.5 46.3L26.7 47.1L26.7 45.5Z"/><line x1="32.4" y1="46.3" x2="34.7" y2="46.3"/><path d="M36.5 46.3L34.7 47.1L34.7 45.5Z"/><line x1="40.4" y1="46.3" x2="42.6" y2="46.3"/><path d="M44.4 46.3L42.6 47.1L42.6 45.5Z"/><line x1="48.4" y1="46.3" x2="50.6" y2="46.3"/><path d="M52.4 46.3L50.6 47.1L50.6 45.5Z"/><line x1="56.3" y1="46.3" x2="58.5" y2="46.3"/><path d="M60.3 46.3L58.5 47.1L58.5 45.5Z"/><line x1="64.3" y1="46.3" x2="66.5" y2="46.3"/><path d="M68.3 46.3L66.5 47.1L66.5 45.5Z"/><line x1="72.2" y1="46.3" x2="74.5" y2="46.3"/><path d="M76.3 46.3L74.5 47.1L74.5 45.5Z"/><line x1="80.2" y1="46.3" x2="82.7" y2="46.3"/><path d="M84.5 46.3L82.7 47.1L82.7 45.5Z"/><line x1="88.2" y1="46.3" x2="91.0" y2="46.3"/><path d="M92.8 46.3L91.0 47.1L90.9 45.5Z"/><line x1="96.1" y1="46.3" x2="99.3" y2="46.2"/><path d="M101.1 46.1L99.3 47.0L99.3 45.4Z"/><line x1="104.1" y1="46.3" x2="107.6" y2="46.0"/><path d="M109.4 45.9L107.7 46.8L107.6 45.3Z"/><line x1="112.0" y1="46.3" x2="115.9" y2="45.8"/><path d="M117.7 45.6L116.0 46.6L115.8 45.0Z"/><line x1="120.0" y1="46.3" x2="124.0" y2="45.7"/><path d="M125.8 45.4L124.1 46.5L123.9 44.9Z"/><line x1="128.0" y1="46.3" x2="131.9" y2="45.7"/><path d="M133.6 45.4L132.0 46.4L131.7 44.9Z"/><line x1="135.9" y1="46.3" x2="139.5" y2="45.8"/><path d="M141.3 45.6L139.6 46.6L139.4 45.0Z"/><line x1="143.9" y1="46.3" x2="147.0" y2="46.0"/><path d="M148.8 45.8L147.1 46.8L147.0 45.2Z"/><line x1="0.6" y1="52.4" x2="2.9" y2="52.4"/><path d="M4.7 52.4L2.9 53.2L2.9 51.6Z"/><line x1="8.6" y1="52.4" x2="10.9" y2="52.4"/><path d="M12.7 52.4L10.9 53.2L10.9 51.6Z"/><line x1="16.5" y1="52.4" x2="18.8" y2="52.4"/><path d="M20.6 52.4L18.8 53.2L18.8 51.6Z"/><line x1="24.5" y1="52.4" x2="26.8" y2="52.4"/><path d="M28.6 52.4L26.8 53.2L26.8 51.6Z"/><line x1="32.4" y1="52.4" x2="34.7" y2="52.4"/><path d="M36.5 52.4L34.7 53.2L34.7 51.6Z"/><line x1="40.4" y1="52.4" x2="42.7" y2="52.4"/><path d="M44.5 52.4L42.7 53.2L42.7 51.6Z"/><line x1="48.4" y1="52.4" x2="50.7" y2="52.4"/><path d="M52.5 52.4L50.7 53.2L50.7 51.6Z"/><line x1="56.3" y1="52.4" x2="58.6" y2="52.4"/><path d="M60.4 52.4L58.6 53.2L58.6 51.6Z"/><line x1="64.3" y1="52.4" x2="66.6" y2="52.4"/><path d="M68.4 52.4L66.6 53.2L66.6 51.6Z"/><line x1="72.2" y1="52.4" x2="74.5" y2="52.4"/><path d="M76.3 52.4L74.5 53.2L74.5 51.6Z"/><line x1="80.2" y1="52.4" x2="82.7" y2="52.4"/><path d="M84.5 52.4L82.7 53.2L82.7 51.6Z"/><line x1="88.2" y1="52.4" x2="90.8" y2="52.4"/><path d="M92.6 52.4L90.8 53.2L90.8 51.6Z"/><line x1="96.1" y1="52.4" x2="99.0" y2="52.3"/><path d="M100.8 52.3L99.0 53.1L99.0 51.5Z"/><line x1="104.1" y1="52.4" x2="107.2" y2="52.2"/><path d="M109.0 52.0L107.3 53.0L107.2 51.4Z"/><line x1="112.0" y1="52.4" x2="115.4" y2="52.0"/><path d="M117.2 51.7L115.5 52.8L115.3 51.2Z"/><line x1="120.0" y1="52.4" x2="123.4" y2="51.8"/><path d="M125.2 51.5L123.6 52.6L123.3 51.0Z"/><line x1="128.0" y1="52.4" x2="131.3" y2="51.8"/><path d="M133.1 51.4L131.5 52.6L131.2 51.0Z"/><line x1="135.9" y1="52.4" x2="139.1" y2="51.9"/><path d="M140.9 51.7L139.2 52.7L139.0 51.1Z"/><line x1="143.9" y1="52.4" x2="146.8" y2="52.1"/><path d="M148.6 52.0L146.9 52.9L146.7 51.3Z"/><line x1="0.6" y1="58.6" x2="2.3" y2="58.6"/><path d="M4.1 58.6L2.3 59.4L2.3 57.8Z"/><line x1="8.6" y1="58.6" x2="10.2" y2="58.6"/><path d="M12.0 58.6L10.2 59.4L10.2 57.8Z"/><line x1="16.5" y1="58.6" x2="18.2" y2="58.6"/><path d="M20.0 58.6L18.2 59.4L18.2 57.8Z"/><line x1="24.5" y1="58.6" x2="26.1" y2="58.6"/><path d="M27.9 58.6L26.1 59.4L26.1 57.8Z"/><line x1="32.4" y1="58.6" x2="34.1" y2="58.6"/><path d="M35.9 58.6L34.1 59.4L34.1 57.8Z"/><line x1="40.4" y1="58.6" x2="42.1" y2="58.6"/><path d="M43.9 58.6L42.1 59.4L42.1 57.8Z"/><line x1="48.4" y1="58.6" x2="50.0" y2="58.6"/><path d="M51.8 58.6L50.0 59.4L50.0 57.8Z"/><line x1="56.3" y1="58.6" x2="58.0" y2="58.6"/><path d="M59.8 58.6L58.0 59.4L58.0 57.8Z"/><line x1="64.3" y1="58.6" x2="65.9" y2="58.6"/><path d="M67.7 58.6L65.9 59.4L65.9 57.8Z"/><line x1="72.2" y1="58.6" x2="73.9" y2="58.6"/><path d="M75.7 58.6L73.9 59.4L73.9 57.8Z"/><line x1="80.2" y1="58.6" x2="81.9" y2="58.6"/><path d="M83.7 58.6L81.9 59.4L81.9 57.8Z"/><line x1="88.2" y1="58.6" x2="90.0" y2="58.5"/><path d="M91.8 58.5L90.0 59.3L90.0 57.7Z"/><line x1="96.1" y1="58.6" x2="98.0" y2="58.5"/><path d="M99.8 58.4L98.1 59.3L98.0 57.7Z"/><line x1="104.1" y1="58.6" x2="106.1" y2="58.4"/><path d="M107.9 58.3L106.2 59.2L106.0 57.6Z"/><line x1="112.0" y1="58.6" x2="114.2" y2="58.3"/><path d="M115.9 58.1L114.3 59.1L114.1 57.5Z"/><line x1="120.0" y1="58.6" x2="122.2" y2="58.2"/><path d="M123.9 57.9L122.3 59.0L122.0 57.4Z"/><line x1="128.0" y1="58.6" x2="130.1" y2="58.2"/><path d="M131.9 57.9L130.2 59.0L130.0 57.4Z"/><line x1="135.9" y1="58.6" x2="138.0" y2="58.3"/><path d="M139.7 58.0L138.1 59.1L137.8 57.5Z"/><line x1="143.9" y1="58.6" x2="145.8" y2="58.4"/><path d="M147.6 58.2L145.9 59.2L145.7 57.6Z"/><line x1="0.6" y1="64.7" x2="1.2" y2="64.7"/><path d="M3.0 64.7L1.2 65.5L1.2 63.9Z"/><line x1="8.6" y1="64.7" x2="9.2" y2="64.7"/><path d="M11.0 64.7L9.2 65.5L9.2 63.9Z"/><line x1="16.5" y1="64.7" x2="17.1" y2="64.7"/><path d="M18.9 64.7L17.1 65.5L17.1 63.9Z"/><line x1="24.5" y1="64.7" x2="25.1" y2="64.7"/><path d="M26.9 64.7L25.1 65.5L25.1 63.9Z"/><line x1="32.4" y1="64.7" x2="33.1" y2="64.7"/><path d="M34.9 64.7L33.1 65.5L33.1 63.9Z"/><line x1="40.4" y1="64.7" x2="41.0" y2="64.7"/><path d="M42.8 64.7L41.0 65.5L41.0 63.9Z"/><line x1="48.4" y1="64.7" x2="49.0" y2="64.7"/><path d="M50.8 64.7L49.0 65.5L49.0 63.9Z"/><line x1="56.3" y1="64.7" x2="56.9" y2="64.7"/><path d="M58.7 64.7L56.9 65.5L56.9 63.9Z"/><line x1="64.3" y1="64.7" x2="64.9" y2="64.7"/><path d="M66.7 64.7L64.9 65.5L64.9 63.9Z"/><line x1="72.2" y1="64.7" x2="72.9" y2="64.7"/><path d="M74.7 64.7L72.9 65.5L72.9 63.9Z"/><line x1="80.2" y1="64.7" x2="80.8" y2="64.7"/><path d="M82.6 64.7L80.8 65.5L80.8 63.9Z"/><line x1="88.2" y1="64.7" x2="88.8" y2="64.7"/><path d="M90.6 64.7L88.8 65.5L88.8 63.9Z"/><line x1="96.1" y1="64.7" x2="96.8" y2="64.7"/><path d="M98.6 64.6L96.8 65.5L96.8 63.9Z"/><line x1="104.1" y1="64.7" x2="104.8" y2="64.7"/><path d="M106.6 64.6L104.9 65.5L104.8 63.9Z"/><line x1="112.0" y1="64.7" x2="112.8" y2="64.6"/><path d="M114.6 64.5L112.9 65.4L112.7 63.8Z"/><line x1="120.0" y1="64.7" x2="120.8" y2="64.6"/><path d="M122.6 64.4L120.9 65.4L120.7 63.8Z"/><line x1="128.0" y1="64.7" x2="128.7" y2="64.6"/><path d="M130.5 64.4L128.8 65.4L128.6 63.8Z"/><line x1="135.9" y1="64.7" x2="136.7" y2="64.6"/><path d="M138.4 64.4L136.7 65.4L136.6 63.8Z"/><line x1="143.9" y1="64.7" x2="144.6" y2="64.7"/><path d="M146.4 64.5L144.6 65.5L144.5 63.9Z"/><path d="M2.0 70.8L0.6 71.5L0.6 70.1Z"/><path d="M10.0 70.8L8.6 71.5L8.6 70.1Z"/><path d="M17.9 70.8L16.5 71.5L16.5 70.1Z"/><path d="M25.9 70.8L24.5 71.5L24.5 70.1Z"/><path d="M33.8 70.8L32.4 71.5L32.4 70.1Z"/><path d="M41.8 70.8L40.4 71.5L40.4 70.1Z"/><path d="M49.8 70.8L48.4 71.5L48.4 70.1Z"/><path d="M57.7 70.8L56.3 71.5L56.3 70.1Z"/><path d="M65.7 70.8L64.3 71.5L64.3 70.1Z"/><path d="M73.6 70.8L72.2 71.5L72.2 70.1Z"/><path d="M81.6 70.8L80.2 71.5L80.2 70.1Z"/><path d="M89.6 70.8L88.2 71.5L88.2 70.1Z"/><path d="M97.5 70.8L96.1 71.5L96.1 70.1Z"/><path d="M105.5 70.8L104.1 71.5L104.1 70.1Z"/><path d="M113.5 70.7L112.1 71.5L112.0 70.1Z"/><path d="M121.4 70.7L120.1 71.5L119.9 70.1Z"/><path d="M129.4 70.7L128.0 71.5L127.9 70.1Z"/><path d="M137.3 70.7L136.0 71.5L135.9 70.1Z"/><path d="M145.3 70.8L143.9 71.5L143.9 70.1Z"/><path d="M1.3 77.0L0.3 77.7L0.3 76.3Z"/><path d="M9.2 77.0L8.2 77.7L8.2 76.3Z"/><path d="M17.2 77.0L16.2 77.7L16.2 76.3Z"/><path d="M25.2 77.0L24.2 77.7L24.2 76.3Z"/><path d="M33.1 77.0L32.1 77.7L32.1 76.3Z"/><path d="M41.1 77.0L40.1 77.7L40.1 76.3Z"/><path d="M49.0 77.0L48.0 77.7L48.0 76.3Z"/><path d="M57.0 77.0L56.0 77.7L56.0 76.3Z"/><path d="M65.0 77.0L64.0 77.7L64.0 76.3Z"/><path d="M72.9 77.0L71.9 77.7L71.9 76.3Z"/><path d="M80.9 77.0L79.9 77.7L79.9 76.3Z"/><path d="M88.8 77.0L87.8 77.7L87.8 76.3Z"/><path d="M96.8 77.0L95.8 77.7L95.8 76.3Z"/><path d="M104.8 76.9L103.8 77.7L103.7 76.3Z"/><path d="M112.7 76.9L111.7 77.7L111.7 76.3Z"/><path d="M120.7 76.9L119.7 77.7L119.7 76.3Z"/><path d="M128.6 76.9L127.7 77.7L127.6 76.3Z"/><path d="M136.6 76.9L135.6 77.7L135.6 76.3Z"/><path d="M144.6 76.9L143.6 77.7L143.5 76.3Z"/><circle cx="0.6" cy="83.1" r="0.45"/><circle cx="8.6" cy="83.1" r="0.45"/><circle cx="16.5" cy="83.1" r="0.45"/><circle cx="24.5" cy="83.1" r="0.45"/><circle cx="32.4" cy="83.1" r="0.45"/><circle cx="40.4" cy="83.1" r="0.45"/><circle cx="48.4" cy="83.1" r="0.45"/><circle cx="56.3" cy="83.1" r="0.45"/><circle cx="64.3" cy="83.1" r="0.45"/><circle cx="72.2" cy="83.1" r="0.45"/><circle cx="80.2" cy="83.1" r="0.45"/><circle cx="88.2" cy="83.1" r="0.45"/><circle cx="96.1" cy="83.1" r="0.45"/><circle cx="104.1" cy="83.1" r="0.45"/><circle cx="112.0" cy="83.1" r="0.45"/><circle cx="120.0" cy="83.1" r="0.45"/><circle cx="128.0" cy="83.1" r="0.45"/><circle cx="135.9" cy="83.1" r="0.45"/><circle cx="143.9" cy="83.1" r="0.45"/><circle cx="0.6" cy="89.2" r="0.45"/><circle cx="8.6" cy="89.2" r="0.45"/><circle cx="16.5" cy="89.2" r="0.45"/><circle cx="24.5" cy="89.2" r="0.45"/><circle cx="32.4" cy="89.2" r="0.45"/><circle cx="40.4" cy="89.2" r="0.45"/><circle cx="48.4" cy="89.2" r="0.45"/><circle cx="56.3" cy="89.2" r="0.45"/><circle cx="64.3" cy="89.2" r="0.45"/><circle cx="72.2" cy="89.2" r="0.45"/><circle cx="80.2" cy="89.2" r="0.45"/><circle cx="88.2" cy="89.2" r="0.45"/><circle cx="96.1" cy="89.2" r="0.45"/><circle cx="104.1" cy="89.2" r="0.45"/><circle cx="112.0" cy="89.2" r="0.45"/><circle cx="120.0" cy="89.2" r="0.45"/><circle cx="128.0" cy="89.2" r="0.45"/><circle cx="135.9" cy="89.2" r="0.45"/><circle cx="143.9" cy="89.2" r="0.45"/><circle cx="0.6" cy="95.4" r="0.45"/><circle cx="8.6" cy="95.4" r="0.45"/><circle cx="16.5" cy="95.4" r="0.45"/><circle cx="24.5" cy="95.4" r="0.45"/><circle cx="32.4" cy="95.4" r="0.45"/><circle cx="40.4" cy="95.4" r="0.45"/><circle cx="48.4" cy="95.4" r="0.45"/><circle cx="56.3" cy="95.4" r="0.45"/><circle cx="64.3" cy="95.4" r="0.45"/><circle cx="72.2" cy="95.4" r="0.45"/><circle cx="80.2" cy="95.4" r="0.45"/><circle cx="88.2" cy="95.4" r="0.45"/><circle cx="96.1" cy="95.4" r="0.45"/><circle cx="104.1" cy="95.4" r="0.45"/><circle cx="112.0" cy="95.4" r="0.45"/><circle cx="120.0" cy="95.4" r="0.45"/><circle cx="128.0" cy="95.4" r="0.45"/><circle cx="135.9" cy="95.4" r="0.45"/><circle cx="143.9" cy="95.4" r="0.45"/></g></g><rect x="0.5" y="0.5" width="145" height="96" fill="none" stroke="#8a8a8a" stroke-width="1"/></g><text x="253.5" y="155.8" font-size="5.27" fill="#2b2b2b" text-anchor="middle" textLength="126.1" lengthAdjust="spacingAndGlyphs" font-family="Liberation Sans, sans-serif">(e) Wind: EXPT minus CTRL 5-10 d Before Onset</text><text x="183.0" y="176.8" font-size="6.40" fill="#666" text-anchor="end" textLength="15.0" lengthAdjust="spacingAndGlyphs" font-family="Liberation Sans, sans-serif">20°N</text><text x="183.0" y="193.0" font-size="6.40" fill="#666" text-anchor="end" textLength="14.8" lengthAdjust="spacingAndGlyphs" font-family="Liberation Sans, sans-serif">15°N</text><text x="183.0" y="209.1" font-size="6.40" fill="#666" text-anchor="end" textLength="14.8" lengthAdjust="spacingAndGlyphs" font-family="Liberation Sans, sans-serif">10°N</text><text x="183.0" y="225.3" font-size="6.40" fill="#666" text-anchor="end" textLength="10.9" lengthAdjust="spacingAndGlyphs" font-family="Liberation Sans, sans-serif">5°N</text><text x="183.0" y="241.4" font-size="6.40" fill="#666" text-anchor="end" textLength="6.2" lengthAdjust="spacingAndGlyphs" font-family="Liberation Sans, sans-serif">0°</text><text x="201.2" y="261.8" font-size="6.30" fill="#666" text-anchor="middle" textLength="14.1" lengthAdjust="spacingAndGlyphs" font-family="Liberation Sans, sans-serif">60°E</text><text x="233.6" y="261.8" font-size="6.30" fill="#666" text-anchor="middle" textLength="14.0" lengthAdjust="spacingAndGlyphs" font-family="Liberation Sans, sans-serif">70°E</text><text x="265.9" y="261.8" font-size="6.30" fill="#666" text-anchor="middle" textLength="14.1" lengthAdjust="spacingAndGlyphs" font-family="Liberation Sans, sans-serif">80°E</text><text x="298.1" y="261.8" font-size="6.30" fill="#666" text-anchor="middle" textLength="14.1" lengthAdjust="spacingAndGlyphs" font-family="Liberation Sans, sans-serif">90°E</text><g transform="translate(348,158)"><g clip-path="url(#pc)"><g transform="scale(0.1)"><rect x="0" y="0" width="1460" height="970" fill="#7b9ff9"/><path fill="#9ebeff" fill-rule="evenodd" d="M0 0l1450 0 0 960-1450 0 0-960zM280 10l-19 5-9 5-5 5-2 5 2 5 5 5 10 5 18 5 25 3 25 0 29-3 19-5 10-5 5-5 2-5-2-5-5-5-9-5-19-5-40-4-40 4z"/><path fill="#c0d4f5" fill-rule="evenodd" d="M0 0l201 0-19 10-7 7-5 8 0 10 3 5 12 10 23 10 32 8 40 5 40 1 45-2 45-5 25-6 20-9 13-12 3-10-1-5-5-8-7-7-19-10 275 0 0 25 3 15 8 11 10 3 8-4 6-10 1-15-2-25 702 0 0 960-1450 0 0-603 10 9 15 1 10-6 4-6 4-15-1-10-4-10-4-5-7-5-7-2-10 3-10 9 0-320zM570 235l-11 10-11 20-6 25-1 30 6 30 8 19 10 12 7 4 8 1 10-4 5-4 10-18 6-30 1-35-5-30-9-20-8-8-5-3-5-1-10 2zM950 625l-40 9-30 13-9 8-6 10-1 5 3 10 8 9 8 6 32 13 45 8 45 3 50-5 39-9 16-6 14-9 6-6 5-9 1-5-3-10-9-10-17-10-27-9-30-6-35-3-35 0-30 3z"/><path fill="#dddcdc" fill-rule="evenodd" d="M0 0l87 0 0 35 4 15 9 11 21 9 84 20 20 4 165 3 20 5 20 12 12 11 7 10 4 10 3 15 3 85-4 60 8 55 8 25 10 15 22 15 37 15 30 4 20-2 15-6 14-11 5-10 5-95-4-75 0-25 7-45 18-47 8-13 7-8 10-7 10-3 10 1 10 5 7 7 13 20 10 5 15-1 10-3 9-6 8-10 6-20 3-40-1-45 665 0 0 828-30 4-20 4-15 7-12 12-6 15-2 15 2 75-206 0-4-10-7-5-10-2-30-1-345 1-30 4-10 5-6 8-719 0 0-566 30-2 15-6 9-6 10-10 7-10 4-10 2-15-3-15-5-15-7-10-7-7-20-10-35-4 0-274zM950 439l-7 6-3 5 0 5 2 10 4 5 9 5 10 0 5-2 5-4 5-9 0-10-2-5-5-5-8-3-10 0-5 2zM1000 555l-30 7-110 32-135 27-35 0-75-12-20 2-10 9-3 10 1 10 10 40 18 60 5 10 9 10 20 13 45 22 18 5 17 2 125-9 450-1 20-2 10-5 6-5 6-15 3-30-3-20-7-16-25-34-22-25-30-25-43-31-25-14-25-7-110-10-30 0-25 2z"/><path fill="#f2cbb7" fill-rule="evenodd" d="M983 15l67-1 120 5 280 7 0 761-45-3-13-4-8-5-4-5-4-10-3-40-5-20-11-20-25-35-28-30-69-50-23-20-11-15-17-35-13-20-34-35-22-16-15-6-25-5-50-8-30-2-40 3-110 16-110 0-20-3-22-9-18-11-15-16-6-13-2-15 0-110 4-25 14-22 15-14 20-14 15-6 55-16 20-11 26-17 9-10 5-10 5-35 3-10 12-13 15-6 50-12 63-9zM71 100l29-2 50 8 21 9 24 25 15 9 15 3 50 1 25 3 30 8 65 23 10 6 8 7 7 10 3 10 3 15 0 15-6 23-5 8-10 11-10 6-15 5-65 9-50 0-90-9-25-4-35-13-45-26-15-7-25-6-30-5 0-118 71-24zM93 385l12-3 15-1 105 1 30 3 65 11 33 9 92 33 71 22 24 11 6 9 1 5-3 10-12 15-22 20-15 10-15 7-80 28-15 10-10 10-35 61-10 22-3 22 5 25 13 32 15 18 80 43 25 6 65 11 155 14 20 5 13 6 7 5 8 10 3 10 0 10-9 20-23 25-5 10-2 10-550 0-14-105-4-15-6-10-13-9-15-4-95-9 0-392 30-4 20-5 43-22zM960 865l15-2 50 1 5 1 5 4 1 6-6 5-5 1-60 0-5-1-6-5 0-5 6-5z"/><path fill="#f7ac8e" fill-rule="evenodd" d="M966 50l44-3 45 1 41 7 64 15 10-2 27-13 23-3 60-2 170 4 0 481-60 19-15 2-15-2-20-8-25-16-25-19-14-16-33-55-20-40-6-25-20-140-7-24-5-10-5-5-5-1-5 1-9 9-21 40-11 15-14 9-20 6-65 10-30 1-20-6-20-9-20-11-13-10-13-20-14-40-5-25 1-25 13-50 11-23 8-7 10-5 28-5zM180 205l35 2 15 4 15 7 9 7 6 10 0 10-2 5-10 10-13 6-20 6-20 1-20-1-20-4-18-8-12-10-5-10 1-5 4-9 7-6 20-10 28-5zM747 230l18-2 20 7 16 15 5 10 6 15 0 25-7 23-15 18-10 6-10 4-20 0-10-4-10-6-14-16-7-20-1-25 7-23 14-17 18-10zM120 415l55 3 45 7 20 6 25 11 38 23 13 10 9 11 5 14 3 15 4 40-2 30-6 25-28 65-3 20 1 15 14 45 13 25 19 17 45 24 10 9 11 15 5 20-1 20-9 15-11 8-35 14-30 7-25-2-35-11-30-16-17-15-8-20-14-65-8-15-17-15-36-18-25-7-25-2-90-1 0-303 40-8 50-13 30-3z"/><path fill="#ee8468" fill-rule="evenodd" d="M1403 110l7-2 5 1 8 6 7 10 4 15 1 15-2 15-14 35-3 10 5 15 29 46 0 178-15 20-20 15-20 9-25 2-20-5-20-11-15-14-15-22-10-23-8-30-4-30 1-35 7-45 7-20 10-20 12-17 15-14 15-8 20-6 10-7 4-13 3-30 5-20 8-14 8-6zM1008 130l12-3 15 5 12 13 7 20 1 20-5 23-10 16-15 8-15-1-10-7-9-14-5-15-1-20 4-20 8-15 11-10zM97 450l23-2 27 2 24 5 19 7 15 8 15 12 14 18 7 15 6 20 1 20-4 20-8 20-11 17-15 16-20 14-20 9-20 5-25 3-25-1-25-6-20-8-22-14-18-17-15-20 0-95 18-18 22-14 30-10 27-6zM294 820l16-3 15 1 20 7 18 10 10 10 5 10 0 10-3 10-9 10-8 5-13 6-15 3-15 0-15-3-24-11-13-15-3-10 0-10 10-16 10-8 14-6z"/><path fill="#d65244" fill-rule="evenodd" d="M1388 285l7-2 10 1 10 5 10 10 13 26 4 15 2 20-3 35-11 28-15 17-10 5-10 2-15-5-8-7-7-9-9-21-4-30 2-30 8-30 12-20 14-10zM74 495l21 0 20 5 15 8 12 12 6 15-2 15-8 15-13 11-25 10-15 2-15-2-15-4-10-5-10-8-7-9-5-10-1-10 2-10 5-10 16-15 15-7 14-3z"/></g><path d="M16.2 0V96M48.6 0V96M80.8 0V96M113.1 0V96M0 17.4H145M0 33.6H145M0 49.7H145M0 65.9H145M0 82.0H145" stroke="#808080" stroke-opacity="0.22" stroke-width="0.6" fill="none"/><use href="#coast" fill="none" stroke="#2a2a2a" stroke-width="0.45" stroke-opacity="0.9"/><use href="#dots" fill="#444" fill-opacity="0.6"/><g fill="#111" stroke="#1a1a1a" stroke-width="0.4" stroke-linejoin="round"><circle cx="0.6" cy="3.4" r="0.45"/><path d="M8.4 3.9L8.0 2.7L9.4 3.1Z"/><path d="M16.4 4.0L15.9 2.8L17.3 3.1Z"/><path d="M24.4 4.1L23.9 3.0L25.2 3.2Z"/><path d="M32.3 4.1L31.8 3.0L33.2 3.3Z"/><path d="M40.3 4.1L39.7 3.0L41.1 3.3Z"/><path d="M48.2 4.1L47.7 3.0L49.1 3.3Z"/><path d="M56.2 4.1L55.7 2.9L57.1 3.2Z"/><path d="M64.2 4.0L63.7 2.8L65.1 3.1Z"/><path d="M72.1 3.8L71.7 2.7L73.1 3.1Z"/><circle cx="80.2" cy="3.4" r="0.45"/><circle cx="88.2" cy="3.4" r="0.45"/><circle cx="96.1" cy="3.4" r="0.45"/><circle cx="104.1" cy="3.4" r="0.45"/><circle cx="112.0" cy="3.4" r="0.45"/><circle cx="120.0" cy="3.4" r="0.45"/><circle cx="128.0" cy="3.4" r="0.45"/><circle cx="135.9" cy="3.4" r="0.45"/><circle cx="143.9" cy="3.4" r="0.45"/><path d="M0.4 10.1L0.1 8.9L1.4 9.4Z"/><path d="M8.4 10.2L8.0 9.1L9.3 9.5Z"/><path d="M16.3 10.4L15.9 9.3L17.2 9.6Z"/><path d="M24.3 10.5L23.8 9.4L25.2 9.7Z"/><path d="M32.2 10.6L31.8 9.4L33.1 9.6Z"/><path d="M40.2 10.7L39.7 9.4L41.1 9.6Z"/><path d="M48.2 10.6L47.7 9.4L49.0 9.6Z"/><path d="M56.1 10.5L55.6 9.4L57.0 9.7Z"/><path d="M64.1 10.4L63.6 9.3L65.0 9.6Z"/><path d="M72.0 10.2L71.6 9.1L73.0 9.4Z"/><path d="M80.0 10.0L79.7 8.9L81.0 9.4Z"/><path d="M88.0 9.9L87.8 8.7L89.1 9.3Z"/><circle cx="96.1" cy="9.5" r="0.45"/><circle cx="104.1" cy="9.5" r="0.45"/><circle cx="112.0" cy="9.5" r="0.45"/><circle cx="120.0" cy="9.5" r="0.45"/><circle cx="128.0" cy="9.5" r="0.45"/><circle cx="135.9" cy="9.5" r="0.45"/><circle cx="143.9" cy="9.5" r="0.45"/><path d="M0.3 16.4L0.0 15.2L1.3 15.7Z"/><path d="M8.3 16.6L7.9 15.5L9.2 15.8Z"/><path d="M16.3 16.9L15.8 15.5L17.2 15.8Z"/><path d="M24.2 17.1L23.8 15.5L25.2 15.8Z"/><path d="M32.2 17.2L31.8 15.5L33.1 15.8Z"/><path d="M40.1 17.2L39.7 15.5L41.1 15.8Z"/><path d="M48.1 17.2L47.7 15.5L49.0 15.8Z"/><path d="M56.1 17.0L55.6 15.5L57.0 15.8Z"/><path d="M64.0 16.8L63.6 15.5L65.0 15.8Z"/><path d="M72.0 16.6L71.6 15.4L72.9 15.8Z"/><path d="M79.9 16.4L79.6 15.2L80.9 15.7Z"/><path d="M87.9 16.2L87.8 14.9L89.0 15.6Z"/><path d="M95.9 16.0L95.9 14.8L97.0 15.7Z"/><circle cx="104.1" cy="15.7" r="0.45"/><circle cx="112.0" cy="15.7" r="0.45"/><circle cx="120.0" cy="15.7" r="0.45"/><circle cx="128.0" cy="15.7" r="0.45"/><circle cx="135.9" cy="15.7" r="0.45"/><circle cx="143.9" cy="15.7" r="0.45"/><path d="M0.3 22.7L-0.0 21.5L1.3 22.0Z"/><path d="M8.2 23.0L7.9 21.6L9.2 22.0Z"/><path d="M16.2 23.3L15.8 21.6L17.2 21.9Z"/><path d="M24.1 23.5L23.7 21.6L25.2 21.9Z"/><line x1="32.4" y1="21.8" x2="32.4" y2="21.9"/><path d="M32.1 23.7L31.6 21.7L33.2 22.0Z"/><line x1="40.4" y1="21.8" x2="40.4" y2="21.9"/><path d="M40.1 23.7L39.6 21.8L41.2 22.1Z"/><line x1="48.4" y1="21.8" x2="48.3" y2="21.9"/><path d="M48.0 23.6L47.6 21.7L49.1 22.0Z"/><path d="M56.0 23.5L55.6 21.6L57.1 21.9Z"/><path d="M63.9 23.2L63.6 21.6L65.0 21.9Z"/><path d="M71.9 22.9L71.6 21.6L72.9 22.0Z"/><path d="M79.9 22.7L79.6 21.5L80.9 22.0Z"/><path d="M87.8 22.4L87.7 21.2L88.9 21.9Z"/><path d="M95.8 22.2L95.9 21.0L97.0 21.9Z"/><path d="M103.7 22.0L104.1 20.9L105.0 22.0Z"/><circle cx="112.0" cy="21.8" r="0.45"/><circle cx="120.0" cy="21.8" r="0.45"/><circle cx="128.0" cy="21.8" r="0.45"/><circle cx="135.9" cy="21.8" r="0.45"/><circle cx="143.9" cy="21.8" r="0.45"/><path d="M0.2 28.9L-0.1 27.7L1.3 28.2Z"/><path d="M8.2 29.2L7.9 27.7L9.2 28.1Z"/><path d="M16.1 29.5L15.8 27.8L17.2 28.1Z"/><line x1="24.5" y1="27.9" x2="24.5" y2="28.0"/><path d="M24.1 29.8L23.7 27.9L25.2 28.2Z"/><line x1="32.4" y1="27.9" x2="32.4" y2="28.2"/><path d="M32.1 30.0L31.6 28.1L33.2 28.3Z"/><line x1="40.4" y1="27.9" x2="40.3" y2="28.3"/><path d="M40.0 30.0L39.6 28.1L41.1 28.4Z"/><line x1="48.4" y1="27.9" x2="48.3" y2="28.2"/><path d="M48.0 30.0L47.5 28.0L49.1 28.3Z"/><line x1="56.3" y1="27.9" x2="56.3" y2="28.0"/><path d="M55.9 29.8L55.5 27.8L57.1 28.2Z"/><path d="M63.9 29.5L63.6 27.8L65.0 28.1Z"/><path d="M71.9 29.2L71.6 27.7L72.9 28.1Z"/><path d="M79.8 28.9L79.5 27.7L80.9 28.2Z"/><path d="M87.8 28.6L87.7 27.4L88.9 28.1Z"/><path d="M95.7 28.4L95.9 27.1L96.9 28.0Z"/><path d="M103.7 28.2L104.1 27.0L104.9 28.2Z"/><path d="M111.7 28.1L112.3 27.0L112.9 28.3Z"/><circle cx="120.0" cy="27.9" r="0.45"/><circle cx="128.0" cy="27.9" r="0.45"/><circle cx="135.9" cy="27.9" r="0.45"/><circle cx="143.9" cy="27.9" r="0.45"/><path d="M0.2 35.0L-0.1 33.8L1.3 34.3Z"/><path d="M8.2 35.3L7.9 33.9L9.2 34.2Z"/><path d="M16.2 35.6L15.8 33.9L17.2 34.2Z"/><line x1="24.5" y1="34.0" x2="24.5" y2="34.1"/><path d="M24.1 35.9L23.7 34.0L25.2 34.3Z"/><line x1="32.4" y1="34.0" x2="32.4" y2="34.3"/><path d="M32.1 36.1L31.6 34.2L33.2 34.4Z"/><line x1="40.4" y1="34.0" x2="40.3" y2="34.4"/><path d="M40.0 36.1L39.6 34.2L41.1 34.5Z"/><line x1="48.4" y1="34.0" x2="48.3" y2="34.3"/><path d="M48.0 36.1L47.5 34.1L49.1 34.4Z"/><line x1="56.3" y1="34.0" x2="56.3" y2="34.1"/><path d="M56.0 35.9L55.5 33.9L57.1 34.3Z"/><path d="M63.9 35.6L63.6 33.9L65.0 34.2Z"/><path d="M71.9 35.3L71.6 33.9L72.9 34.2Z"/><path d="M79.8 35.0L79.5 33.8L80.9 34.3Z"/><path d="M87.8 34.7L87.7 33.5L88.9 34.2Z"/><path d="M95.8 34.5L95.9 33.3L96.9 34.2Z"/><path d="M103.7 34.3L104.1 33.2L104.9 34.3Z"/><circle cx="112.0" cy="34.0" r="0.45"/><circle cx="120.0" cy="34.0" r="0.45"/><circle cx="128.0" cy="34.0" r="0.45"/><circle cx="135.9" cy="34.0" r="0.45"/><circle cx="143.9" cy="34.0" r="0.45"/><path d="M0.3 41.0L-0.0 39.8L1.3 40.3Z"/><path d="M8.2 41.3L7.9 40.0L9.2 40.4Z"/><path d="M16.2 41.6L15.8 40.0L17.2 40.3Z"/><path d="M24.2 41.8L23.8 40.0L25.2 40.3Z"/><path d="M32.1 42.0L31.7 40.0L33.2 40.3Z"/><line x1="40.4" y1="40.2" x2="40.4" y2="40.2"/><path d="M40.1 42.0L39.6 40.1L41.2 40.4Z"/><path d="M48.0 41.9L47.6 40.0L49.1 40.3Z"/><path d="M56.0 41.8L55.6 40.0L57.0 40.3Z"/><path d="M64.0 41.5L63.6 40.0L65.0 40.3Z"/><path d="M71.9 41.3L71.6 40.0L72.9 40.4Z"/><path d="M79.9 41.0L79.6 39.8L80.9 40.3Z"/><path d="M87.8 40.8L87.7 39.5L88.9 40.2Z"/><path d="M95.8 40.6L95.9 39.3L97.0 40.2Z"/><circle cx="104.1" cy="40.2" r="0.45"/><circle cx="112.0" cy="40.2" r="0.45"/><circle cx="120.0" cy="40.2" r="0.45"/><circle cx="128.0" cy="40.2" r="0.45"/><circle cx="135.9" cy="40.2" r="0.45"/><circle cx="143.9" cy="40.2" r="0.45"/><path d="M0.4 47.0L0.0 45.8L1.4 46.3Z"/><path d="M8.3 47.2L7.9 46.0L9.3 46.4Z"/><path d="M16.3 47.4L15.8 46.2L17.2 46.5Z"/><path d="M24.2 47.6L23.8 46.2L25.2 46.4Z"/><path d="M32.2 47.7L31.8 46.2L33.1 46.4Z"/><path d="M40.2 47.7L39.7 46.2L41.1 46.4Z"/><path d="M48.1 47.7L47.7 46.2L49.0 46.4Z"/><path d="M56.1 47.6L55.6 46.2L57.0 46.4Z"/><path d="M64.0 47.4L63.6 46.2L65.0 46.5Z"/><path d="M72.0 47.2L71.6 46.0L72.9 46.4Z"/><path d="M80.0 47.0L79.7 45.8L81.0 46.3Z"/><path d="M87.9 46.8L87.8 45.6L89.0 46.2Z"/><circle cx="96.1" cy="46.3" r="0.45"/><circle cx="104.1" cy="46.3" r="0.45"/><circle cx="112.0" cy="46.3" r="0.45"/><circle cx="120.0" cy="46.3" r="0.45"/><circle cx="128.0" cy="46.3" r="0.45"/><circle cx="135.9" cy="46.3" r="0.45"/><circle cx="143.9" cy="46.3" r="0.45"/><path d="M0.4 52.9L0.1 51.7L1.4 52.2Z"/><path d="M8.4 53.1L8.0 51.9L9.3 52.3Z"/><path d="M16.4 53.2L15.9 52.1L17.2 52.4Z"/><path d="M24.3 53.3L23.8 52.2L25.2 52.5Z"/><path d="M32.3 53.4L31.8 52.3L33.1 52.6Z"/><path d="M40.2 53.4L39.7 52.3L41.1 52.6Z"/><path d="M48.2 53.4L47.7 52.3L49.1 52.5Z"/><path d="M56.2 53.3L55.7 52.2L57.0 52.5Z"/><path d="M64.1 53.2L63.6 52.1L65.0 52.4Z"/><path d="M72.1 53.0L71.7 51.9L73.0 52.3Z"/><path d="M80.0 52.9L79.7 51.7L81.0 52.2Z"/><circle cx="88.2" cy="52.4" r="0.45"/><circle cx="96.1" cy="52.4" r="0.45"/><circle cx="104.1" cy="52.4" r="0.45"/><circle cx="112.0" cy="52.4" r="0.45"/><circle cx="120.0" cy="52.4" r="0.45"/><circle cx="128.0" cy="52.4" r="0.45"/><circle cx="135.9" cy="52.4" r="0.45"/><circle cx="143.9" cy="52.4" r="0.45"/><circle cx="0.6" cy="58.6" r="0.45"/><path d="M8.5 59.0L8.0 57.8L9.4 58.2Z"/><path d="M16.4 59.1L15.9 57.9L17.3 58.2Z"/><path d="M24.4 59.1L23.9 58.0L25.2 58.3Z"/><path d="M32.3 59.2L31.8 58.1L33.2 58.3Z"/><path d="M40.3 59.2L39.8 58.1L41.1 58.3Z"/><path d="M48.3 59.2L47.7 58.1L49.1 58.3Z"/><path d="M56.2 59.1L55.7 58.0L57.1 58.3Z"/><path d="M64.2 59.0L63.7 57.9L65.1 58.2Z"/><circle cx="72.2" cy="58.6" r="0.45"/><circle cx="80.2" cy="58.6" r="0.45"/><circle cx="88.2" cy="58.6" r="0.45"/><circle cx="96.1" cy="58.6" r="0.45"/><circle cx="104.1" cy="58.6" r="0.45"/><circle cx="112.0" cy="58.6" r="0.45"/><circle cx="120.0" cy="58.6" r="0.45"/><circle cx="128.0" cy="58.6" r="0.45"/><circle cx="135.9" cy="58.6" r="0.45"/><circle cx="143.9" cy="58.6" r="0.45"/><circle cx="0.6" cy="64.7" r="0.45"/><circle cx="8.6" cy="64.7" r="0.45"/><circle cx="16.5" cy="64.7" r="0.45"/><circle cx="24.5" cy="64.7" r="0.45"/><circle cx="32.4" cy="64.7" r="0.45"/><circle cx="40.4" cy="64.7" r="0.45"/><circle cx="48.4" cy="64.7" r="0.45"/><circle cx="56.3" cy="64.7" r="0.45"/><circle cx="64.3" cy="64.7" r="0.45"/><circle cx="72.2" cy="64.7" r="0.45"/><circle cx="80.2" cy="64.7" r="0.45"/><circle cx="88.2" cy="64.7" r="0.45"/><circle cx="96.1" cy="64.7" r="0.45"/><circle cx="104.1" cy="64.7" r="0.45"/><circle cx="112.0" cy="64.7" r="0.45"/><circle cx="120.0" cy="64.7" r="0.45"/><circle cx="128.0" cy="64.7" r="0.45"/><circle cx="135.9" cy="64.7" r="0.45"/><circle cx="143.9" cy="64.7" r="0.45"/><circle cx="0.6" cy="70.8" r="0.45"/><circle cx="8.6" cy="70.8" r="0.45"/><circle cx="16.5" cy="70.8" r="0.45"/><circle cx="24.5" cy="70.8" r="0.45"/><circle cx="32.4" cy="70.8" r="0.45"/><circle cx="40.4" cy="70.8" r="0.45"/><circle cx="48.4" cy="70.8" r="0.45"/><circle cx="56.3" cy="70.8" r="0.45"/><circle cx="64.3" cy="70.8" r="0.45"/><circle cx="72.2" cy="70.8" r="0.45"/><circle cx="80.2" cy="70.8" r="0.45"/><circle cx="88.2" cy="70.8" r="0.45"/><circle cx="96.1" cy="70.8" r="0.45"/><circle cx="104.1" cy="70.8" r="0.45"/><circle cx="112.0" cy="70.8" r="0.45"/><circle cx="120.0" cy="70.8" r="0.45"/><circle cx="128.0" cy="70.8" r="0.45"/><circle cx="135.9" cy="70.8" r="0.45"/><circle cx="143.9" cy="70.8" r="0.45"/><circle cx="0.6" cy="77.0" r="0.45"/><circle cx="8.6" cy="77.0" r="0.45"/><circle cx="16.5" cy="77.0" r="0.45"/><circle cx="24.5" cy="77.0" r="0.45"/><circle cx="32.4" cy="77.0" r="0.45"/><circle cx="40.4" cy="77.0" r="0.45"/><circle cx="48.4" cy="77.0" r="0.45"/><circle cx="56.3" cy="77.0" r="0.45"/><circle cx="64.3" cy="77.0" r="0.45"/><circle cx="72.2" cy="77.0" r="0.45"/><circle cx="80.2" cy="77.0" r="0.45"/><circle cx="88.2" cy="77.0" r="0.45"/><circle cx="96.1" cy="77.0" r="0.45"/><circle cx="104.1" cy="77.0" r="0.45"/><circle cx="112.0" cy="77.0" r="0.45"/><circle cx="120.0" cy="77.0" r="0.45"/><circle cx="128.0" cy="77.0" r="0.45"/><circle cx="135.9" cy="77.0" r="0.45"/><circle cx="143.9" cy="77.0" r="0.45"/><circle cx="0.6" cy="83.1" r="0.45"/><circle cx="8.6" cy="83.1" r="0.45"/><circle cx="16.5" cy="83.1" r="0.45"/><circle cx="24.5" cy="83.1" r="0.45"/><circle cx="32.4" cy="83.1" r="0.45"/><circle cx="40.4" cy="83.1" r="0.45"/><circle cx="48.4" cy="83.1" r="0.45"/><circle cx="56.3" cy="83.1" r="0.45"/><circle cx="64.3" cy="83.1" r="0.45"/><circle cx="72.2" cy="83.1" r="0.45"/><circle cx="80.2" cy="83.1" r="0.45"/><circle cx="88.2" cy="83.1" r="0.45"/><circle cx="96.1" cy="83.1" r="0.45"/><circle cx="104.1" cy="83.1" r="0.45"/><circle cx="112.0" cy="83.1" r="0.45"/><circle cx="120.0" cy="83.1" r="0.45"/><circle cx="128.0" cy="83.1" r="0.45"/><circle cx="135.9" cy="83.1" r="0.45"/><circle cx="143.9" cy="83.1" r="0.45"/><circle cx="0.6" cy="89.2" r="0.45"/><circle cx="8.6" cy="89.2" r="0.45"/><circle cx="16.5" cy="89.2" r="0.45"/><circle cx="24.5" cy="89.2" r="0.45"/><circle cx="32.4" cy="89.2" r="0.45"/><circle cx="40.4" cy="89.2" r="0.45"/><circle cx="48.4" cy="89.2" r="0.45"/><circle cx="56.3" cy="89.2" r="0.45"/><circle cx="64.3" cy="89.2" r="0.45"/><circle cx="72.2" cy="89.2" r="0.45"/><circle cx="80.2" cy="89.2" r="0.45"/><circle cx="88.2" cy="89.2" r="0.45"/><circle cx="96.1" cy="89.2" r="0.45"/><circle cx="104.1" cy="89.2" r="0.45"/><circle cx="112.0" cy="89.2" r="0.45"/><circle cx="120.0" cy="89.2" r="0.45"/><circle cx="128.0" cy="89.2" r="0.45"/><circle cx="135.9" cy="89.2" r="0.45"/><circle cx="143.9" cy="89.2" r="0.45"/><circle cx="0.6" cy="95.4" r="0.45"/><circle cx="8.6" cy="95.4" r="0.45"/><circle cx="16.5" cy="95.4" r="0.45"/><circle cx="24.5" cy="95.4" r="0.45"/><circle cx="32.4" cy="95.4" r="0.45"/><circle cx="40.4" cy="95.4" r="0.45"/><circle cx="48.4" cy="95.4" r="0.45"/><circle cx="56.3" cy="95.4" r="0.45"/><circle cx="64.3" cy="95.4" r="0.45"/><circle cx="72.2" cy="95.4" r="0.45"/><circle cx="80.2" cy="95.4" r="0.45"/><circle cx="88.2" cy="95.4" r="0.45"/><circle cx="96.1" cy="95.4" r="0.45"/><circle cx="104.1" cy="95.4" r="0.45"/><circle cx="112.0" cy="95.4" r="0.45"/><circle cx="120.0" cy="95.4" r="0.45"/><circle cx="128.0" cy="95.4" r="0.45"/><circle cx="135.9" cy="95.4" r="0.45"/><circle cx="143.9" cy="95.4" r="0.45"/></g></g><rect x="0.5" y="0.5" width="145" height="96" fill="none" stroke="#8a8a8a" stroke-width="1"/></g><text x="416.5" y="155.8" font-size="5.27" fill="#2b2b2b" text-anchor="middle" textLength="116.1" lengthAdjust="spacingAndGlyphs" font-family="Liberation Sans, sans-serif">(f) Wind: EXPT minus CTRL 5 d Before Onset</text><text x="346.0" y="176.8" font-size="6.40" fill="#666" text-anchor="end" textLength="15.0" lengthAdjust="spacingAndGlyphs" font-family="Liberation Sans, sans-serif">20°N</text><text x="346.0" y="193.0" font-size="6.40" fill="#666" text-anchor="end" textLength="14.8" lengthAdjust="spacingAndGlyphs" font-family="Liberation Sans, sans-serif">15°N</text><text x="346.0" y="209.1" font-size="6.40" fill="#666" text-anchor="end" textLength="14.8" lengthAdjust="spacingAndGlyphs" font-family="Liberation Sans, sans-serif">10°N</text><text x="346.0" y="225.3" font-size="6.40" fill="#666" text-anchor="end" textLength="10.9" lengthAdjust="spacingAndGlyphs" font-family="Liberation Sans, sans-serif">5°N</text><text x="346.0" y="241.4" font-size="6.40" fill="#666" text-anchor="end" textLength="6.2" lengthAdjust="spacingAndGlyphs" font-family="Liberation Sans, sans-serif">0°</text><text x="364.2" y="261.8" font-size="6.30" fill="#666" text-anchor="middle" textLength="14.1" lengthAdjust="spacingAndGlyphs" font-family="Liberation Sans, sans-serif">60°E</text><text x="396.6" y="261.8" font-size="6.30" fill="#666" text-anchor="middle" textLength="14.0" lengthAdjust="spacingAndGlyphs" font-family="Liberation Sans, sans-serif">70°E</text><text x="428.9" y="261.8" font-size="6.30" fill="#666" text-anchor="middle" textLength="14.1" lengthAdjust="spacingAndGlyphs" font-family="Liberation Sans, sans-serif">80°E</text><text x="461.1" y="261.8" font-size="6.30" fill="#666" text-anchor="middle" textLength="14.1" lengthAdjust="spacingAndGlyphs" font-family="Liberation Sans, sans-serif">90°E</text><g transform="translate(22,304)"><g clip-path="url(#pc)"><g transform="scale(0.1)"><rect x="0" y="0" width="1460" height="970" fill="#3b4cc0"/><path fill="#465ecf" fill-rule="evenodd" d="M0 0l1450 0 0 960-1450 0 0-960zM1300 520l-20 10-5 5-5 10 0 10 5 15 5 11 6 9 9 6 10 5 25 2 15-3 10-4 15-11 7-10 4-15-4-15-7-9-15-10-20-7-20-2-15 3z"/><path fill="#6282ea" fill-rule="evenodd" d="M0 0l1450 0 0 960-1450 0 0-960zM1350 285l-20 5-15 10-15 17-13 23-9 25-5 25-8 70-1 45-5 10-29 25-3 5-1 10 3 15 6 15 7 10 7 5 20 10 61 22 20 4 20-5 15-10 15-17 12-19 8-20 10-38 5-32 1-30-1-30-5-35-9-35-11-25-15-26-15-17-15-10-15-2z"/><path fill="#7ea1fa" fill-rule="evenodd" d="M0 0l1450 0 0 398-6-28-9-30-29-65-16-47-10-13-10-6-10-1-10 4-65 59-15 19-13 20-8 25 3 75-4 30-7 25-15 40-40 40-7 10-3 10 1 5 10 15 22 20 17 10 42 20 32 30 25 18 15 7 15 1 10-4 15-12 20-23 15-22 11-20 10-25 14-55 0 430-1450 0 0-960zM730 629l-15 3-15 6-11 7-9 10-3 10 1 10 6 10 6 5 10 6 15 6 30 3 27-5 13-6 11-9 5-10 2-10-3-10-9-10-11-7-15-6-15-3-20 0zM1095 544l-7 6-1 10 7 10 8 5 13 3 15-1 16-7 3-5-2-5-5-5-18-10-14-3-15 2z"/><path fill="#9bbcff" fill-rule="evenodd" d="M0 0l1450 0 0 324-18-54-4-65-6-15-7-12-17-18-18-10-20-1-10 2-15 8-86 71-23 30-15 30-3 15 1 10 23 55 6 30-1 20-3 15-7 20-9 15-28 34-10 10-9 6-16 4-40-9-10-1-15 2-10 5-10 9-5 10-1 10 2 10 4 10 9 10 11 8 20 9 41 8 19 6 25 12 16 12 8 10 31 52 22 28 8 13 6 17 11 45 9 20 9 11 10 9 20 8 20-1 20-9 15-14 15-24 5-15 3-20-6-55 1-20 7-20 25-60 0 350-1450 0 0-960zM45 409l-10 6-5 5-10 16-7 24-2 30 4 30 7 20 13 17 5 3 10 3 10-2 5-3 9-8 6-10 8-25 2-30-3-30-4-15-7-15-9-10-7-5-5-1-10 0zM720 610l-20 4-20 7-15 10-13 14-4 10-1 15 6 15 12 13 15 9 20 8 20 4 25 1 25-3 20-6 20-10 10-10 8-16 2-15-5-17-11-13-19-11-25-8-25-3-25 2zM870 23l-10 7-4 5-1 10 5 9 10 6 10 2 10-1 11-6 6-10-1-10-2-5-6-5-8-3-10-1-10 2z"/><path fill="#b9d0f9" fill-rule="evenodd" d="M0 0l1450 0 0 155-10-15-17-15-18-10-20-6-30-2-55 7-60 4-30 8-25 13-10 8-23 28-34 35-19 25-14 24-15 35-10 30-10 38-7 38-5 40-2 35 1 20 9 60 5 15 9 15 10 11 15 10 95 47 15 12 7 10 4 10 1 15-11 50-11 13-37 22-11 10-3 5-1 10 8 15 19 17 25 13 25 7 55 11 55 23 25 2 20-2 15-4 15-6 15-10 22-21 10-15 8-17 0 137-1450 0 0-418 6 18 9 17 10 13 10 10 10 6 15 5 15 1 15-5 10-6 11-11 9-12 9-18 11-36 4-44-4-45-5-20-8-20-17-27-10-9-15-9-10-2-15 1-15 6-10 7-10 11-10 15-15 36 0-424zM730 590l-30 4-25 7-25 11-18 13-11 15-5 15 3 20 8 15 15 15 18 11 25 10 30 6 30 2 30-3 25-7 20-10 10-8 8-11 6-10 4-15 0-25-8-20-15-15-25-12-35-7-35-1zM865 5l-20 10-12 15-3 10 0 10 3 10 7 10 15 12 10 4 15 3 25-3 10-4 11-7 9-10 5-15-1-15-9-15-13-10-17-7-20-1-15 3zM1149 335l11-4 15 0 10 3 10 7 10 10 9 14 7 15 3 15 1 15-2 15-10 25-8 12-10 10-15 10-10 3-10 0-10-2-10-6-10-9-13-18-6-15-3-15 0-25 8-25 14-21 19-14z"/><path fill="#d2dbe8" fill-rule="evenodd" d="M0 0l839 0-17 15-8 15-4 20 6 20 10 15 19 14 20 7 25 3 25-3 20-8 16-13 11-15 4-20-4-20-9-15-18-15 515 0 0 98-30-21-70-41-20-10-25-9-30-5-35 1-30 7-15 10-20 28-45 92-12 15-58 60-18 25-24 65-16 80-22 35-4 15-1 15 3 15 5 10 22 26 8 14 7 20 9 40 27 75 7 15 14 20 1 5 0 20 10 30 0 10-5 15-23 30-7 15 0 15 10 20 17 19 20 10 75 19 65 12 17 5 18 12 27 28-1302 0 0-351 10 14 10 8 15 7 20 3 20 0 20-4 19-7 16-10 9-10 6-10 13-35 8-45 4-55-2-25-4-25-12-40-8-15-10-15-24-21-15-9-15-6-15-3-15 1-15 6-10 7-14 15-11 16 0-351zM315 635l-15 6-14 14-4 10 2 15 9 15 17 13 20 6 15-3 10-8 6-13 1-15-5-20-7-12-10-8-10-2-15 2zM420 565l-30 7-23 13-10 15 0 10 3 5 10 7 25 9 30 5 30 1 30-2 25-6 18-9 9-10 0-10-8-10-15-10-19-9-15-5-20-3-40 2zM570 864l-21 6-9 5-4 5-2 5-1 10 2 6 5 5 10 5 20 5 20 2 25 0 20-3 18-5 12-6 9-9 0-10-4-5-10-7-15-5-35-6-40 2zM725 570l-35 7-40 12-30 12-24 14-12 15-5 20 2 20 8 20 17 20 24 16 25 12 35 9 35 4 35 0 35-5 25-9 15-13 12-14 14-20 6-15 2-15-1-15-5-15-7-15-11-15-10-10-10-6-15-6-40-8-25-1-20 1zM885 819l-15 5-6 6-1 5 1 5 11 9 15 4 20 0 15-4 10-9 1-5-3-5-8-6-20-5-20 0zM990 905l-20 3-10 5-6 7 3 5 8 5 15 4 30 1 29-5 10-5 4-5-3-7-15-6-20-3-25 1zM1161 355l9-2 10 2 15 10 10 15 4 20-1 20-8 22-6 8-9 8-15 6-15-3-13-11-9-15-5-20 1-20 6-16 10-14 16-10zM1115 675l25-4 25 3 10 6 4 5 1 10-3 5-7 6-10 4-15 2-30-4-21-8-3-5 1-5 12-10 11-5zM1446 900l4-4 0 64-90 0 50-29 20-16 16-15z"/><path fill="#e7d7ce" fill-rule="evenodd" d="M63 0l746 0-14 20-7 20 1 20 4 15 6 10 16 18 20 13 30 10 25 3 25-3 30-10 20-13 16-18 8-20 2-15-1-10-6-20-15-20 197 0-11 25-15 24-49 56-25 35-18 30-25 50-15 35-15 45-6 25-8 45-5 15-8 10-16 11-20 9-15 2-15-2-30-7-15-5-10-6-10-12-17-40-38-46-30-56-9-13-16-12-45-12-15-1-15 3-15 6-14 11-11 12-33 48-54 70-21 20-24 20-13 8-10 2-20-3-95-31-80-11-55-16-45-17-50-31-30-14-30-8-50-6 0-86 20-4 10-7 5-6 24-55 6-20 2-20-4-35 0-35zM255 19l-10 6-5 10 0 10 5 10 10 6 15 1 15-1 10-6 4-5 2-10-2-10-4-5-5-4-10-3-25 1zM695 114l-12 6-4 10 1 10 3 5 7 5 15 2 40-1 10-4 5-7 0-15-3-5-7-5-15-2-40 1zM1160 385l10-3 5 2 6 11-2 25-4 10-5 4-5 0-8-4-7-14 1-16 4-10 5-5zM560 465l25-2 40 0 20 3 15 6 13 13 5 15 1 20-2 10-5 10-11 10-11 5-30 4-25 0-25-4-19-5-11-5-11-10-6-10-2-15 2-15 4-10 9-10 9-6 15-4zM232 485l23-2 35 0 18 2 12 4 10 7 7 14 2 15-3 10-6 9-7 6-10 5-13 4-50 3-17-2-13-4-8-6-7-10-3-10 1-15 2-10 7-10 8-6 12-4zM874 505l11-3 20-2 35 4 25 11 11 10 6 10 4 20-6 40 3 30 12 60 21 75 2 10-2 10-4 5-16 10-21 5-20 1-30-1-20-3-10-4-11-8-19-18-9-12-2-10 3-10 34-45 7-15 2-10-1-15-5-15-34-55-8-20-1-20 4-15 10-14 9-6zM116 655l24-4 20 1 80 23 15 9 25 26 15 12 60 27 40 27 75 62 18 17 7 9 4 11 0 15-5 20-7 15-12 9-20 3-30 0-175-14-50 0-35 0-140 14-25 0 0-278 65 7 20-2 31-9zM813 885l22-2 65 1 10 3 4 3 3 5 1 10-8 14-11 6-29 2-50 0-10-3-5-4-5-10 1-15 4-5 8-5zM1120 955l5-3 10-1 10 2 16 7-46 0 5-5z"/><path fill="#f5c4ac" fill-rule="evenodd" d="M903 530l22-1 16 6 8 10 1 8-3 7-7 8-15 6-15 0-15-5-10-9-2-5 1-10 7-10 12-5zM258 785l7 1 5 2 4 7 1 5-3 10-7 4-5 1-5-1-7-4-3-10 3-10 10-5zM365 865l15 1 10 7 3 7-1 5-5 5-12 5-10 0-10-4-5-4-3-7 1-5 7-7 10-3z"/></g><path d="M16.2 0V96M48.6 0V96M80.8 0V96M113.1 0V96M0 17.4H145M0 33.6H145M0 49.7H145M0 65.9H145M0 82.0H145" stroke="#808080" stroke-opacity="0.22" stroke-width="0.6" fill="none"/><use href="#coast" fill="none" stroke="#2a2a2a" stroke-width="0.45" stroke-opacity="0.9"/><use href="#dots" fill="#444" fill-opacity="0.6"/></g><rect x="0.5" y="0.5" width="145" height="96" fill="none" stroke="#8a8a8a" stroke-width="1"/></g><text x="90.5" y="301.8" font-size="5.27" fill="#2b2b2b" text-anchor="middle" textLength="110.7" lengthAdjust="spacingAndGlyphs" font-family="Liberation Sans, sans-serif">(g) RF: EXPT minus CTRL 4 d Before Onset</text><text x="20.0" y="322.8" font-size="6.40" fill="#666" text-anchor="end" textLength="15.0" lengthAdjust="spacingAndGlyphs" font-family="Liberation Sans, sans-serif">20°N</text><text x="20.0" y="339.0" font-size="6.40" fill="#666" text-anchor="end" textLength="14.8" lengthAdjust="spacingAndGlyphs" font-family="Liberation Sans, sans-serif">15°N</text><text x="20.0" y="355.1" font-size="6.40" fill="#666" text-anchor="end" textLength="14.8" lengthAdjust="spacingAndGlyphs" font-family="Liberation Sans, sans-serif">10°N</text><text x="20.0" y="371.3" font-size="6.40" fill="#666" text-anchor="end" textLength="10.9" lengthAdjust="spacingAndGlyphs" font-family="Liberation Sans, sans-serif">5°N</text><text x="20.0" y="387.4" font-size="6.40" fill="#666" text-anchor="end" textLength="6.2" lengthAdjust="spacingAndGlyphs" font-family="Liberation Sans, sans-serif">0°</text><text x="38.2" y="407.8" font-size="6.30" fill="#666" text-anchor="middle" textLength="14.1" lengthAdjust="spacingAndGlyphs" font-family="Liberation Sans, sans-serif">60°E</text><text x="70.6" y="407.8" font-size="6.30" fill="#666" text-anchor="middle" textLength="14.0" lengthAdjust="spacingAndGlyphs" font-family="Liberation Sans, sans-serif">70°E</text><text x="102.8" y="407.8" font-size="6.30" fill="#666" text-anchor="middle" textLength="14.1" lengthAdjust="spacingAndGlyphs" font-family="Liberation Sans, sans-serif">80°E</text><text x="135.1" y="407.8" font-size="6.30" fill="#666" text-anchor="middle" textLength="14.1" lengthAdjust="spacingAndGlyphs" font-family="Liberation Sans, sans-serif">90°E</text><g transform="translate(185,304)"><g clip-path="url(#pc)"><g transform="scale(0.1)"><rect x="0" y="0" width="1460" height="970" fill="#3b4cc0"/><path fill="#465ecf" fill-rule="evenodd" d="M0 0l1450 0 0 960-1450 0 0-960zM890 55l-5 5 0 5 5 5 5 2 10-1 7-6 0-5-7-6-5-1-10 2zM1280 454l-40 10-20 3-50 0-17 3-13 5-14 10-12 15-4 15 0 10 4 10 6 10 9 10 14 10 19 10 30 10 48 7 45 1 23-3 23-5 16-5 21-10 19-15 14-20 5-20-1-10-3-10-10-15-21-15-27-10-34-5-30 4z"/><path fill="#6282ea" fill-rule="evenodd" d="M0 0l1450 0 0 488-10-13-18-15-17-10-20-8-21-7-29-6-25-2-20 0-65 11-65 2-20 4-18 6-27 14-18 16-12 20-4 20 4 19 10 16 16 15 23 15 22 10 31 10 33 7 35 4 35 0 35-2 30-4 38-10 25-10 26-15 16-14 10-14 0 413-1450 0 0-960zM885 39l-13 6-9 10-3 15 5 11 12 9 18 5 15-2 14-8 6-7 3-8 0-10-5-10-8-6-10-5-10-1-15 1zM1290 110l-15 4-10 6-5 5-5 10 0 5 5 10 15 12 25 7 25 0 14-4 10-5 7-5 7-10 1-10-2-5-7-8-10-7-25-6-30 1z"/><path fill="#7ea1fa" fill-rule="evenodd" d="M0 0l1450 0 0 460-22-15-28-13-35-11-35-7-35 0-75 12-80 1-20 4-20 8-20 11-15 11-14 14-10 15-5 15-2 15 3 20 8 15 13 15 22 17 25 14 30 12 35 9 30 5 35 3 35 0 35-2 40-7 30-8 30-10 25-13 20-15 0 385-1450 0 0-501 4 11 7 10 9 6 10 0 9-6 7-10 4-10 1-15-2-15-4-10-5-7-10-6-10 0-10 6-5 7-5 14 0-434zM880 29l-10 4-12 7-11 15-3 10 1 10 7 15 8 8 10 6 20 4 20-1 20-8 10-11 5-13 0-15-7-15-11-10-12-5-15-2-20 1zM1275 79l-20 6-20 11-16 14-8 15-2 15 4 15 10 15 17 14 20 10 20 6 25 4 25-1 25-5 20-8 16-10 14-15 7-15 1-10 0-10-4-10-7-10-17-14-23-11-27-7-30-2-30 3z"/><path fill="#9bbcff" fill-rule="evenodd" d="M0 0l1450 0 0 120-6-15-14-18-15-13-20-11-25-10-25-5-25-2-25 1-25 4-25 8-20 10-17 11-13 13-10 16-8 21-3 15 2 15 9 20 12 15 18 14 25 13 20 7 25 5 25 1 25-1 25-5 20-7 20-10 17-12 15-15 10-15 8-20 0 290-30-18-25-10-35-11-30-5-30 1-50 14-30 5-27-1-48-8-30 2-25 8-20 10-20 13-16 15-12 15-10 20-5 20-2 20 2 20 8 15 16 15 34 24 25 13 30 12 35 10 35 6 30 3 35 1 30-2 30-5 45-10 35-11 30-13 25-14 0 366-1450 0 0-467 10 9 15 6 15-1 14-7 12-10 11-15 6-15 3-20-3-20-7-15-11-14-10-7-15-6-15 1-15 6-10 10 0-395zM660 515l-10 3-5 4-3 8 1 5 3 5 9 5 15-1 7-4 4-5 0-10-4-5-7-4-10-1zM880 19l-15 5-10 5-8 6-8 10-5 10-2 15 3 15 5 10 9 10 7 5 24 8 30 0 13-3 11-5 15-15 7-15 0-20-5-15-11-13-15-9-20-5-25 1z"/><path fill="#b9d0f9" fill-rule="evenodd" d="M0 0l1450 0 0 60-25-16-35-14-35-7-40-3-40 4-35 9-35 16-19 16-11 15-20 38-22 27-9 15-19 67-10 19-30 47-14 27-12 35-12 50-39 65-8 20-9 35-4 10-12 13-27 12-6 5-1 5 4 5 10 4 35 4 20 6 15 7 50 31 40 16 68 22 18 10 24 17 20 5 15 0 15-2 10-5 23-15 21-10 96-28 25-10 20-11 0 344-1450 0 0-442 15 9 20 4 20-3 20-11 15-14 11-18 7-20 3-25-3-25-7-20-11-18-15-14-20-10-20-2-20 5-15 9 0-365zM205 644l-16 6-6 5-2 5 2 5 7 5 20 6 30 3 35-4 15-5 7-5 2-5-2-5-6-5-21-7-30-2-35 3zM645 504l-15 9-8 12 0 10 2 5 11 11 20 8 20 0 20-7 14-12 2-5 0-10-6-10-7-5-13-6-15-3-15 1-10 2zM875 9l-15 5-15 8-10 10-9 13-4 15-1 15 4 15 5 10 15 16 15 8 15 4 15 1 20-1 15-2 15-7 10-8 9-11 8-20 0-20-8-20-14-17-20-11-25-4-25 1zM1225 755l-15 6-15 15-7 19 0 10 4 10 13 11 10 5 15 3 25-1 19-8 9-10 4-10-1-15-7-15-9-10-15-9-15-3-15 2zM670 615l-35 5-20 5-12 5-8 5-2 5 2 5 8 5 12 5 45 9 65 5 60-1 20-2 10-3 10-6 15-15 10-6 48-11 2-5-19-5-61-3-85-1-65 4zM1447 220l3-5 0 175-10-40-15-45-3-20 1-15 5-15 6-15 13-20zM1199 325l16-2 15 1 15 2 15 6 14 8 11 10 6 10 1 10-11 10-28 15-18 6-15 2-15 0-20-5-21-8-17-10-3-5-1-5 4-10 8-11 20-15 24-9z"/><path fill="#d2dbe8" fill-rule="evenodd" d="M0 0l853 0-13 8-7 7-17 25-7 25 3 25 6 15 7 10 15 13 25 9 35 3 30-3 20-10 17-17 12-25 1-20-1-10-7-15-17-24-20-16 281 0-21 10-15 15-12 20-23 45-15 18-20 14-81 43-21 20-18 25-18 30-14 30-12 35-10 35-9 60-2 35 1 50-3 15-6 10-6 5-41 23-14 12-8 10-4 20-4 5-15 5-15 2-130 1-95 10-40 8-27 9-18 10-4 5-1 5 1 5 4 5 8 5 22 9 25 7 70 11 80 5 60 1 40-2 20-6 40-17 30-5 40-5 70-2 20 2 25 5 75 30 12 7 9 10 9 25 3 30-3 27-14 33 2 10 5 5 15 10 27 10 25 5 30 2 20-1 20-4 15-8 13-14 5-10 4-15 1-50 3-20 9-22 13-18 12-9 10-5 80-29 0 303-1450 0 0-408 20 7 25 3 25-6 20-12 19-19 13-20 11-30 2-25-3-35-7-31-12-24-18-20-20-13-25-8-25 1-25 9 0-329zM210 630l-25 4-25 8-11 8-4 5-1 5 1 5 11 10 19 8 30 6 35 3 35-3 30-6 19-8 11-10 1-5-1-5-4-5-11-8-15-5-20-5-25-3-25-1-25 2zM640 490l-15 6-15 9-9 10-5 10-1 10 3 10 9 10 13 9 30 10 35 0 20-5 15-6 11-8 8-10 2-10-2-15-9-13-15-11-20-7-15-3-20 0-20 4zM885 844l-15 9-7 12 0 10 2 5 9 10 16 7 15 1 15-4 12-9 3-5 2-10-2-10-5-7-10-7-10-3-15-1-10 2zM1409 0l41 0 0 17-41-17zM1206 365l14-3 10 2 9 6 0 5-5 5-9 3-15 0-8-3-4-5 1-5 7-5z"/><path fill="#e7d7ce" fill-rule="evenodd" d="M365 0l451 0-18 35-6 15-2 20 2 20 12 25 14 20 17 13 25 12 2 5-10 5-17 4-30 4-35-1-125-13-20 3-15 8-10 10-5 7-3 8 0 10 2 10 23 60 3 20 0 20-12 70-22 50 1 30-3 10-5 10-11 15-13 14-10 7-15 7-105 20-50 5-25-1-20-3-15-7-7-7-2-10 5-10 32-35 1-5-8-5-26-3-95 5-20-5-15-12-11-15-6-20-5-90 0-150 2-19 5-11 10-8 10-3 85-2 15-3 10-5 10-10 11-19 40-80 9-25zM967 0l185 0-8 20-14 21-56 54-13 10-18 10-27 10-26 6-3-1-1-5 14-35 2-10-1-15-8-25-26-40zM786 405l14 2 14 13 9 20 4 25-2 25-7 20-13 16-10 5-5 1-10-3-15-19-9-20-3-20 2-25 8-20 12-15 11-5zM915 670l40-1 35 3 25 7 22 11 23 16 17 19 7 15 5 15 1 10-2 10-10 10-18 7-30 6-25 2-30-3-55-11-50-13-20-9-13-14-5-15-2-25 2-10 3-5 14-10 16-6 50-9zM240 720l50-1 40 3 290 51 20 5 10 6 5 5 6 16 1 55-1 15-3 10-3 5-10 8-10 3-15 1-620 1 0-156 65-13 45-6 60-5 70-3zM1449 725l1 115-35-5-20-6-10-6-5-8-1-10 4-15 16-20 50-45zM1066 890l19-4 25 0 60 4 35 5 20 7 24 13 26 11 20 4 40 4 15 4 10 7 6 15-333 0 0-20 8-25 9-15 16-10z"/><path fill="#f5c4ac" fill-rule="evenodd" d="M524 245l16 1 10 2 15 10 10 17 5 30-2 45-3 18-5 12-5 7-10 8-10 5-15 2-15-2-10-3-15-12-6-10-3-10-3-25 1-45 5-25 7-10 9-8 10-4 14-3zM505 455l10-2 15 4 10 7 8 11 2 10-3 10-9 10-8 6-20 7-85 15-25 0-10-3-8-5-1-5 5-10 19-14 100-41zM899 685l21-3 25 1 20 3 20 7 24 12 13 10 5 5 5 10-1 10-7 10-9 6-15 7-15 3-20 0-20-1-20-5-20-7-17-8-13-10-7-10-4-15 2-10 5-5 10-5 18-5zM142 750l48-2 45 3 22 4 12 5 6 5 2 5 0 5-4 5-7 5-16 7-30 7-40 4-45 0-40-5-28-8-8-5-3-5 1-5 5-5 13-6 32-9 35-5zM1143 930l42-4 35 3 22 6 25 10 12 10 0 5-166 0-4-5-1-5 2-5 5-5 10-5 18-5z"/><path fill="#f7a98b" fill-rule="evenodd" d="M496 485l9-3 10 1 4 2 2 5-6 7-10 4-25 3-10-4 26-15zM916 705l9-3 15-1 35 8 19 11 5 10-1 5-8 7-15 5-20 0-15-4-15-8-10-10-4-10 1-5 4-5z"/></g><path d="M16.2 0V96M48.6 0V96M80.8 0V96M113.1 0V96M0 17.4H145M0 33.6H145M0 49.7H145M0 65.9H145M0 82.0H145" stroke="#808080" stroke-opacity="0.22" stroke-width="0.6" fill="none"/><use href="#coast" fill="none" stroke="#2a2a2a" stroke-width="0.45" stroke-opacity="0.9"/><use href="#dots" fill="#444" fill-opacity="0.6"/></g><rect x="0.5" y="0.5" width="145" height="96" fill="none" stroke="#8a8a8a" stroke-width="1"/></g><text x="253.5" y="301.8" font-size="5.27" fill="#2b2b2b" text-anchor="middle" textLength="110.7" lengthAdjust="spacingAndGlyphs" font-family="Liberation Sans, sans-serif">(h) RF: EXPT minus CTRL 3 d Before Onset</text><text x="183.0" y="322.8" font-size="6.40" fill="#666" text-anchor="end" textLength="15.0" lengthAdjust="spacingAndGlyphs" font-family="Liberation Sans, sans-serif">20°N</text><text x="183.0" y="339.0" font-size="6.40" fill="#666" text-anchor="end" textLength="14.8" lengthAdjust="spacingAndGlyphs" font-family="Liberation Sans, sans-serif">15°N</text><text x="183.0" y="355.1" font-size="6.40" fill="#666" text-anchor="end" textLength="14.8" lengthAdjust="spacingAndGlyphs" font-family="Liberation Sans, sans-serif">10°N</text><text x="183.0" y="371.3" font-size="6.40" fill="#666" text-anchor="end" textLength="10.9" lengthAdjust="spacingAndGlyphs" font-family="Liberation Sans, sans-serif">5°N</text><text x="183.0" y="387.4" font-size="6.40" fill="#666" text-anchor="end" textLength="6.2" lengthAdjust="spacingAndGlyphs" font-family="Liberation Sans, sans-serif">0°</text><text x="201.2" y="407.8" font-size="6.30" fill="#666" text-anchor="middle" textLength="14.1" lengthAdjust="spacingAndGlyphs" font-family="Liberation Sans, sans-serif">60°E</text><text x="233.6" y="407.8" font-size="6.30" fill="#666" text-anchor="middle" textLength="14.0" lengthAdjust="spacingAndGlyphs" font-family="Liberation Sans, sans-serif">70°E</text><text x="265.9" y="407.8" font-size="6.30" fill="#666" text-anchor="middle" textLength="14.1" lengthAdjust="spacingAndGlyphs" font-family="Liberation Sans, sans-serif">80°E</text><text x="298.1" y="407.8" font-size="6.30" fill="#666" text-anchor="middle" textLength="14.1" lengthAdjust="spacingAndGlyphs" font-family="Liberation Sans, sans-serif">90°E</text><g transform="translate(348,304)"><g clip-path="url(#pc)"><g transform="scale(0.1)"><rect x="0" y="0" width="1460" height="970" fill="#3b4cc0"/><path fill="#3b4cc0" fill-rule="evenodd" d="M0 0l1450 0 0 960-1450 0 0-960zM1270 434l-12 6-6 5-2 5 0 10 5 7 10 9 25 12 25 3 20-3 20-9 5-5 5-9-1-10-3-5-13-10-12-5-36-5-30 4z"/><path fill="#465ecf" fill-rule="evenodd" d="M0 0l1450 0 0 960-1450 0 0-960zM1280 115l-15 5-15 10-7 10-4 10 0 15 4 15 10 15 12 10 17 10 18 6 20 3 20 0 20-3 15-6 15-10 9-10 6-15-2-15-9-15-19-16-20-11-25-8-25-3-25 3zM1290 410l-40 5-16 5-23 10-25 15-22 15-16 15-8 11-7 14-3 15 0 15 4 15 6 11 10 14 15 15 15 10 33 15 32 7 35 3 35-3 26-7 31-15 23-19 16-21 14-30 3-25-5-25-12-20-22-20-29-15-35-8-35-2z"/><path fill="#6282ea" fill-rule="evenodd" d="M0 0l1450 0 0 473-13-18-22-20-25-16-25-12-25-7-25-4-30-1-25 2-25 6-30 12-41 20-29 19-17 16-13 18-7 17-3 20 3 20 9 20 13 18 18 17 24 15 21 10 32 10 26 5 34 3 30-1 30-4 31-8 25-10 26-15 18-15 15-18 0 388-1450 0 0-960zM1310 45l-22 5-22 10-16 11-15 15-10 16-7 23-2 20 4 24 9 21 11 15 15 13 20 11 20 7 25 3 25-1 20-4 20-7 15-9 15-13 11-15 8-15 5-20 1-20-4-20-6-14-10-16-15-15-15-10-20-10-20-5-20-2-20 2z"/><path fill="#7ea1fa" fill-rule="evenodd" d="M0 0l1450 0 0 77-10-14-15-14-15-10-20-10-20-6-25-4-25 1-20 3-22 7-21 10-17 12-13 13-11 15-7 15-6 20-2 20 2 25 6 20 8 20 12 20 14 15 15 10 17 8 20 5 25 2 20-1 20-4 20-8 20-12 20-17 16-18 14-22 0 271-20-18-25-18-25-15-25-12-20-5-30-3-25-1-25 3-20 6-25 11-60 28-31 20-21 20-13 20-8 20-3 20 3 20 8 20 13 20 17 17 20 15 25 14 30 12 30 7 30 5 30 1 35-2 30-4 30-8 29-12 26-14 20-16 0 360-1450 0 0-960z"/><path fill="#9bbcff" fill-rule="evenodd" d="M0 0l1450 0 0 52-25-21-30-15-30-8-35-2-35 4-35 12-28 18-20 20-11 20-8 25-4 25 1 30 6 30 9 29 10 19 21 32 7 15 1 55-2 10-7 10-21 15-29 17-59 28-28 20-18 20-13 20-10 25-2 20 3 20 10 25 13 20 19 20 25 19 25 14 25 10 30 9 30 5 35 3 35-1 30-4 30-7 30-10 30-14 25-16 0 342-1450 0 0-960zM1448 205l2-3 0 229-52-41-26-25-7-15-4-45 2-10 3-5 49-43 33-42z"/><path fill="#b9d0f9" fill-rule="evenodd" d="M0 0l1271 0-36 16-25 20-10 14-8 15-12 35-4 30 1 35 17 95 1 75-1 15-3 10-8 10-8 6-70 33-15 10-15 13-22 28-17 30-7 20-1 20 7 20 13 25 18 25 19 20 25 19 25 15 30 13 30 9 30 6 35 3 30 0 35-4 40-8 30-10 25-11 30-17 0 325-1450 0 0-960zM920 495l-15 7-9 13 0 10 2 5 10 10 17 6 15 0 18-6 11-10 2-5 1-10-6-10-6-5-10-5-10-2-20 2zM1392 0l58 0 0 32-30-20-28-12zM1448 240l2-4 0 175-19-16-14-15-6-15-1-15 1-35 4-20 7-15 26-40z"/><path fill="#d2dbe8" fill-rule="evenodd" d="M0 0l1216 0-16 16-12 19-15 35-9 30-4 25-2 25 9 75-1 20-4 15-14 30-3 35-7 15-8 8-10 4-10 2-10-1-15-9-20-24-5-4-10-1-10 4-9 11-6 15-14 70-3 10-6 10-7 6-10 4-70 7-20 5-20 10-17 13-14 20-4 15 2 20 7 15 13 15 18 12 20 7 35 5 20-2 40-6 15 3 15 11 27 30 18 16 50 38 30 18 25 12 25 9 20 5 30 3 20-2 52-19 83-23 45-21 0 299-1450 0 0-960zM70 230l-9 5-6 6-11 19-8 30-3 30 3 30 8 30 11 19 8 6 7 2 10-5 5-7 9-20 8-35 2-30-3-35-6-25-10-16-5-4-10 0zM285 635l-55 6-45 9-25 10-6 5-1 5 2 5 6 5 11 5 73 17 65 7 85 2 95-3 85-9 30-6 25-8 10-5 6-5 2-5-2-5-6-5-24-10-36-8-45-6-60-4-65-2-65 1-60 4zM605 219l-15 5-7 6-6 15-1 20 0 55 3 25 6 15 6 5 9 3 10-1 15-5 22-12 10-15 5-30-1-50-2-10-4-10-10-8-10-5-15-2-15-1zM825 849l-20 5-20 8-15 10-10 13-4 15 4 15 10 13 15 10 20 8 25 5 25 1 20-1 20-5 20-8 15-10 10-13 4-15-4-15-10-13-15-10-20-8-25-5-25-1-20 1zM1445 0l5 0 0 3-5-3zM1450 325l0-4 0 39 0-35z"/><path fill="#e7d7ce" fill-rule="evenodd" d="M438 0l740 0-8 23-28 62-22 75-6 10-28 35-17 35-12 10-9 5-48 21-40 13-60 12-30 8-31 11-16 10-4 5 1 10 16 25 7 20-1 20-8 20-14 16-20 12-20 4-35-2-5 1-5 4-14 40-25 50-8 10-8 6-15 7-55 18-16 4-19 2-360 6-65-2-15-2-8-4-12-10-7-10-8-20-3-20 2-15 10-50 6-50 12-60 4-35 0-40-9-95 0-25 3-11 10-11 10-3 10-1 170 18 70 0 15-1 10-3 10-8 5-10 2-10 1-130zM590 189l-15 4-15 10-8 12-4 15-3 35 1 75 4 25 8 20 8 10 9 7 10 5 10 2 10-2 25-12 20-5 20 0 25 5 10 0 10-9 13-21 20-25 5-10 3-30 1-40-2-20-4-10-6-7-10-6-75-24-35-4-35 0zM910 19l-15 6-12 10-5 15 5 15 12 10 20 6 20-2 15-7 7-7 4-10 0-10-4-10-12-10-10-4-10-2-15 0zM912 685l23-2 50 1 25 2 20 5 14 9 7 10 4 15-3 15-6 10-6 5-20 6-85 1-30-4-10-5-8-8-5-10-1-15 3-15 6-9 10-7 12-4zM0 725l0-2 155 0 40 2 10 3 10 7 4 10 1 10-2 10-8 10-10 5-10 2-190 0 0-57zM1383 730l67-2 0 135-20 3-14 4-11 7-10 10-7 13-4 15-1 45-268 0-2-40 3-30 6-20 12-15 16-9 20-4 35-2 60 0 15-2 10-4 10-7 9-12 13-45 13-20 10-8 10-6 28-6zM498 755l37-4 80 1 30 4 20 8 10 7 7 9 5 10 4 15 0 25-9 25-12 16-15 11-15 6-25 4-75 1-45-1-55-9-15-5-10-5-15-15-9-23 0-20 6-15 13-13 15-8 50-18 23-6z"/><path fill="#f5c4ac" fill-rule="evenodd" d="M766 365l14-4 15 2 15 9 9 13 3 15-3 15-9 12-10 7-15 4-15-2-15-9-9-12-2-15 3-15 8-11 11-9zM637 415l18-4 10 1 10 5 11 8 8 10 8 20 0 20-7 21-20 23-10 8-10 4-15 0-40-16-15-1-75 34-50 15-75 13-75 5-76-1-59-7-15-4-10-5-8-9-4-10 0-15 3-10 7-10 13-10 44-21 65-21 80-16 85-8 60 0 75 10 20 1 15-5 32-25zM1368 760l17-3 15 4 12 9 8 15-1 15-7 15-12 10-20 8-10 0-10-4-8-9-5-15-1-15 4-13 10-12 8-5zM493 785l22-4 30-1 50 4 30 5 12 6 11 10 4 10-1 15-5 10-11 9-25 8-35 4-40 2-25-1-25-5-19-7-15-10-8-10-1-10 5-10 12-10 16-8 18-7zM1200 875l20-2 25 3 20 9 11 10 9 15 1 15-5 15-13 15-7 5-81 0-12-10-6-10-4-10 0-15 2-10 6-10 9-9 10-6 15-5z"/><path fill="#f7a98b" fill-rule="evenodd" d="M774 380l6-2 10 0 10 5 6 7 1 15-5 10-7 5-10 3-10-3-11-10-2-15 6-10 6-5zM645 430l15-2 10 5 10 10 6 12 1 15-3 10-9 12-10 6-15 0-10-4-10-9-5-10-1-10 4-15 7-12 10-8zM386 465l49-3 45 4 15 5 15 8 5 6 2 10-4 10-8 10-23 15-32 12-40 8-55 6-46-1-24-4-15-4-14-7-5-5-2-10 5-10 11-10 17-10 48-18 56-12zM503 805l22-4 30 2 22 7 7 5 3 5-1 5-6 5-15 6-25 4-25 0-17-5-8-5-3-5-1-5 2-5 5-5 10-5zM1210 890l15-1 15 4 10 7 7 10 2 10-2 10-7 10-10 7-15 5-20-3-15-9-7-10-1-15 4-10 11-10 13-5z"/><path fill="#ef886b" fill-rule="evenodd" d="M650 450l5-3 5 0 5 3 4 5 2 10-6 10-10 1-6-6-3-10 4-10zM387 485l28-3 30 2 20 8 6 8 0 5-6 10-10 7-15 6-20 5-20 2-25 0-20-4-12-6-4-5 0-5 5-10 16-11 27-9zM1208 905l12-3 10 2 5 3 5 5 2 8-3 10-6 5-8 3-10 0-10-4-5-6-2-8 3-10 7-5z"/><path fill="#dd5f4b" fill-rule="evenodd" d="M407 505l13 0 2 5-12 3-9-3 6-5z"/></g><path d="M16.2 0V96M48.6 0V96M80.8 0V96M113.1 0V96M0 17.4H145M0 33.6H145M0 49.7H145M0 65.9H145M0 82.0H145" stroke="#808080" stroke-opacity="0.22" stroke-width="0.6" fill="none"/><use href="#coast" fill="none" stroke="#2a2a2a" stroke-width="0.45" stroke-opacity="0.9"/><use href="#dots" fill="#444" fill-opacity="0.6"/></g><rect x="0.5" y="0.5" width="145" height="96" fill="none" stroke="#8a8a8a" stroke-width="1"/></g><text x="416.5" y="301.8" font-size="5.27" fill="#2b2b2b" text-anchor="middle" textLength="108.8" lengthAdjust="spacingAndGlyphs" font-family="Liberation Sans, sans-serif">(i) RF: EXPT minus CTRL 2 d Before Onset</text><text x="346.0" y="322.8" font-size="6.40" fill="#666" text-anchor="end" textLength="15.0" lengthAdjust="spacingAndGlyphs" font-family="Liberation Sans, sans-serif">20°N</text><text x="346.0" y="339.0" font-size="6.40" fill="#666" text-anchor="end" textLength="14.8" lengthAdjust="spacingAndGlyphs" font-family="Liberation Sans, sans-serif">15°N</text><text x="346.0" y="355.1" font-size="6.40" fill="#666" text-anchor="end" textLength="14.8" lengthAdjust="spacingAndGlyphs" font-family="Liberation Sans, sans-serif">10°N</text><text x="346.0" y="371.3" font-size="6.40" fill="#666" text-anchor="end" textLength="10.9" lengthAdjust="spacingAndGlyphs" font-family="Liberation Sans, sans-serif">5°N</text><text x="346.0" y="387.4" font-size="6.40" fill="#666" text-anchor="end" textLength="6.2" lengthAdjust="spacingAndGlyphs" font-family="Liberation Sans, sans-serif">0°</text><text x="364.2" y="407.8" font-size="6.30" fill="#666" text-anchor="middle" textLength="14.1" lengthAdjust="spacingAndGlyphs" font-family="Liberation Sans, sans-serif">60°E</text><text x="396.6" y="407.8" font-size="6.30" fill="#666" text-anchor="middle" textLength="14.0" lengthAdjust="spacingAndGlyphs" font-family="Liberation Sans, sans-serif">70°E</text><text x="428.9" y="407.8" font-size="6.30" fill="#666" text-anchor="middle" textLength="14.1" lengthAdjust="spacingAndGlyphs" font-family="Liberation Sans, sans-serif">80°E</text><text x="461.1" y="407.8" font-size="6.30" fill="#666" text-anchor="middle" textLength="14.1" lengthAdjust="spacingAndGlyphs" font-family="Liberation Sans, sans-serif">90°E</text><g transform="translate(22,450)"><g clip-path="url(#pc)"><g transform="scale(0.1)"><rect x="0" y="0" width="1460" height="970" fill="#7b9ff9"/><path fill="#9ebeff" fill-rule="evenodd" d="M0 0l1450 0 0 960-1450 0 0-960zM785 609l-10 3-10 8-5 11-2 19 0 50 2 20 5 10 5 5 11 5 14 2 60 1 60 4 305-1 15-1 13-5 10-10 3-10 1-40-3-20-9-12-20-8-127-20-83-11-160-1-75 1z"/><path fill="#c0d4f5" fill-rule="evenodd" d="M0 0l238 0 2 45 7 15 8 7 10 5 15 4 70 4 40-2 12-3 9-5 6-10 3-10 2-50 1028 0 0 960-1450 0 0-960zM530 105l-20 2-10 3-4 5 1 5 5 5 14 5 54 3 57-3 15-5 3-5-2-5-7-5-16-4-90-1zM825 555l-85 11-105 11-15 3-10 5-5 5-5 10-2 25 0 105 3 15 6 10 13 9 15 5 60 16 25 4 215 9 105 0 190-16 35-5 15-6 12-11 23-29 9-16 2-10-1-11-5-12-10-16-19-26-10-10-11-8-15-6-180-39-185-24-35-1-30 3zM1135 470l-30 4-45 3-70 13 13 5 47 4 80 2 30-3 9-3 6-5 1-5-2-5-6-5-15-5-18 0zM550 185l-15 5-10 7-7 8-5 15-3 25 0 70 0 40 3 20 3 10 7 10 7 6 10 5 30 4 20-1 15-2 10-5 10-8 5-10 4-14 2-30 0-85-2-25-2-15-4-10-8-10-15-9-25-3-30 2z"/><path fill="#dddcdc" fill-rule="evenodd" d="M77 0l85 0 1 35 3 10 5 10 18 15 36 22 20 9 30 5 125 6 25 8 14 10 8 10 7 15 12 70 0 60-9 50-1 20 1 50 4 20 6 10 12 10 16 10 15 7 20 2 60 2 35-2 20-6 10-6 7-7 11-20 4-20 0-15-6-50 0-70 6-50 2-30 3-10 8-8 20-4 25 0 70 6 13-4 7-9 1-16-8-50-4-55-6-20-12-20 654 0 0 822-45-1-10-3-10-9-8-19-19-90-11-30-13-25-59-95-69-105-6-15-10-43-6-12-9-11-15-8-20-3-190 1-15 2-15 5-10 5-11 9-6 10-3 10-3 45-4 15-11 15-22 12-35 8-85 12-35 0-75-4-40 1-105 23-30 10-30 14-14 9-11 10-10 14-7 16-8 31-5 34 0 15 5 15 10 14 11 11 24 21 21 14 133 60 36 10 30 2 310 5 270-4 25 1 20 4 15 8 5 5 4 9-1 110-1236 0-4-20-8-10-13-5-17-2 0-870 40-4 15-4 9-5 5-5 6-10 2-25z"/><path fill="#f2cbb7" fill-rule="evenodd" d="M864 15l31-2 160 0 155 12 35 6 21 9 9 10 3 10 0 90 2 30 5 16 10 13 15 9 20 3 120 1 0 296-65 24-20 4-20-3-25-7-15-6-15-9-15-16-29-50-8-20-19-65-18-40-11-16-15-8-25-3-185 0-25 5-43 22-17 6-15 1-7-2-7-5-7-15-1-25 0-75 11-55-4-65-2-60 3-10 3-5 10-5zM76 70l24-2 25 7 50 28 50 35 20 10 20 5 95 11 20 6 25 14 22 21 9 15 3 25-1 35-3 12-5 9-15 17-24 17-71 35-10 10-4 10 0 15 5 15 9 14 10 8 40 18 50 5 15 3 10 5 7 7 0 5-5 10-12 10-49 30-11 12-10 16-12 32-10 55-2 20 3 20 11 20 15 21 15 15 20 16 25 15 145 68 21 15 39 36 15 10 55 15 6 4 7 10 3 10 1 15-634 0-2-50-3-10-8-10-10-5-10-2-55-1 0-800 40-4 36-8zM711 250l14-4 10 2 10 7 6 15 1 45-2 24-5 11-6 5-9 3-10 0-10-4-8-9-3-10-1-35 1-30 6-15 6-5z"/><path fill="#f7ac8e" fill-rule="evenodd" d="M68 105l22-4 20 5 47 29 13 11 10 11 41 63 11 25 9 55 2 70 5 20 7 11 25 26 22 28 33 22 9 13 3 20-1 30-24 130 2 20 15 35 3 15-2 9-4 6-11 7-60 14-40 6-225 1 0-648 20-7 48-23zM1005 110l35-2 95 0 25 4 14 8 12 15 4 15 2 15 0 30-2 20-4 15-6 9-10 9-10 4-15 4-20 1-110-1-20-4-14-7-11-14-5-16-2-30 2-35 4-15 7-10 13-10 16-5zM1380 305l25-2 45 0 0 164-50 0-25-3-19-9-12-15-4-15-2-20 0-40 3-25 6-15 8-9 10-7 15-4zM293 855l27-2 35 0 15 3 15 5 10 9 7 15 1 20-5 15-13 14-10 4-15 3-55 1-15-3-15-5-10-9-6-10-3-15 2-15 4-10 8-10 10-6 13-4z"/><path fill="#ee8468" fill-rule="evenodd" d="M100 215l40-2 25 2 15 8 14 17 6 13 5 17 5 28 1 22-2 15-4 14-5 7-10 9-10 4-20 3-30 1-20-2-15-4-10-5-10-9-6-8-7-15-3-20-1-35 3-25 6-15 8-9 10-7 15-4zM81 395l24-3 30-1 25 1 20 3 15 7 10 7 10 12 7 14 4 15 2 25-2 160-2 15-6 15-8 9-10 7-15 4-25 2-160 1 0-286 40-1 41-6z"/><path fill="#d65244" fill-rule="evenodd" d="M99 460l16-3 15 0 15 5 10 8 7 15 1 15-4 15-9 11-15 8-20 1-20-5-11-10-7-15 0-20 7-15 15-10z"/></g><path d="M16.2 0V96M48.6 0V96M80.8 0V96M113.1 0V96M0 17.4H145M0 33.6H145M0 49.7H145M0 65.9H145M0 82.0H145" stroke="#808080" stroke-opacity="0.22" stroke-width="0.6" fill="none"/><use href="#coast" fill="none" stroke="#2a2a2a" stroke-width="0.45" stroke-opacity="0.9"/><use href="#dots" fill="#444" fill-opacity="0.6"/><g fill="#111" stroke="#1a1a1a" stroke-width="0.4" stroke-linejoin="round"><path d="M0.6 4.0L-0.1 3.0L1.3 2.9Z"/><path d="M8.6 4.2L7.9 3.2L9.3 3.2Z"/><path d="M16.5 4.5L15.8 3.4L17.2 3.4Z"/><path d="M24.5 4.8L23.8 3.4L25.2 3.4Z"/><path d="M32.5 5.0L31.7 3.4L33.2 3.4Z"/><path d="M40.5 5.2L39.6 3.4L41.2 3.4Z"/><path d="M48.5 5.2L47.6 3.4L49.2 3.4Z"/><path d="M56.4 5.1L55.6 3.4L57.1 3.4Z"/><path d="M64.3 4.9L63.6 3.4L65.0 3.4Z"/><path d="M72.3 4.6L71.5 3.4L72.9 3.4Z"/><path d="M80.2 4.3L79.5 3.3L80.9 3.3Z"/><path d="M88.2 4.0L87.5 3.0L88.9 3.0Z"/><circle cx="96.1" cy="3.4" r="0.45"/><circle cx="104.1" cy="3.4" r="0.45"/><circle cx="112.0" cy="3.4" r="0.45"/><circle cx="120.0" cy="3.4" r="0.45"/><circle cx="128.0" cy="3.4" r="0.45"/><circle cx="135.9" cy="3.4" r="0.45"/><circle cx="143.9" cy="3.4" r="0.45"/><circle cx="0.6" cy="9.5" r="0.45"/><path d="M8.6 9.9L7.8 9.0L9.2 8.9Z"/><path d="M16.6 10.1L15.7 9.2L17.1 8.9Z"/><path d="M24.7 10.1L23.7 9.4L25.0 9.0Z"/><path d="M32.7 10.2L31.7 9.6L33.0 9.0Z"/><path d="M40.8 10.2L39.7 9.6L40.9 9.0Z"/><path d="M48.7 10.2L47.6 9.6L48.9 9.0Z"/><path d="M56.6 10.2L55.6 9.5L56.9 9.1Z"/><path d="M64.4 10.2L63.5 9.4L64.9 9.1Z"/><path d="M72.3 10.1L71.5 9.2L72.9 9.1Z"/><path d="M80.2 10.0L79.5 9.0L80.9 9.0Z"/><circle cx="88.2" cy="9.5" r="0.45"/><circle cx="96.1" cy="9.5" r="0.45"/><circle cx="104.1" cy="9.5" r="0.45"/><circle cx="112.0" cy="9.5" r="0.45"/><circle cx="120.0" cy="9.5" r="0.45"/><circle cx="128.0" cy="9.5" r="0.45"/><circle cx="135.9" cy="9.5" r="0.45"/><circle cx="143.9" cy="9.5" r="0.45"/><circle cx="0.6" cy="15.7" r="0.45"/><circle cx="8.6" cy="15.7" r="0.45"/><circle cx="16.5" cy="15.7" r="0.45"/><path d="M25.0 15.3L24.6 16.4L23.7 15.4Z"/><path d="M33.2 15.0L32.9 16.2L32.0 15.1Z"/><path d="M41.3 14.9L40.9 16.2L39.9 15.1Z"/><path d="M49.2 14.9L48.8 16.2L47.9 15.1Z"/><path d="M56.9 15.2L56.6 16.4L55.7 15.3Z"/><circle cx="64.3" cy="15.7" r="0.45"/><circle cx="72.2" cy="15.7" r="0.45"/><circle cx="80.2" cy="15.7" r="0.45"/><circle cx="88.2" cy="15.7" r="0.45"/><circle cx="96.1" cy="15.7" r="0.45"/><circle cx="104.1" cy="15.7" r="0.45"/><circle cx="112.0" cy="15.7" r="0.45"/><circle cx="120.0" cy="15.7" r="0.45"/><circle cx="128.0" cy="15.7" r="0.45"/><circle cx="135.9" cy="15.7" r="0.45"/><circle cx="143.9" cy="15.7" r="0.45"/><circle cx="0.6" cy="21.8" r="0.45"/><circle cx="8.6" cy="21.8" r="0.45"/><path d="M17.0 21.3L16.7 22.5L15.8 21.5Z"/><path d="M25.4 20.9L25.0 22.3L24.0 21.3Z"/><line x1="32.4" y1="21.8" x2="32.6" y2="21.7"/><path d="M33.9 20.4L33.1 22.2L32.0 21.1Z"/><line x1="40.4" y1="21.8" x2="40.8" y2="21.4"/><path d="M42.1 20.1L41.4 21.9L40.3 20.8Z"/><line x1="48.4" y1="21.8" x2="48.7" y2="21.5"/><path d="M49.9 20.2L49.2 22.1L48.1 20.9Z"/><path d="M57.4 20.7L56.8 22.3L55.8 21.3Z"/><path d="M64.9 21.2L64.7 22.4L63.7 21.4Z"/><circle cx="72.2" cy="21.8" r="0.45"/><circle cx="80.2" cy="21.8" r="0.45"/><circle cx="88.2" cy="21.8" r="0.45"/><circle cx="96.1" cy="21.8" r="0.45"/><circle cx="104.1" cy="21.8" r="0.45"/><circle cx="112.0" cy="21.8" r="0.45"/><circle cx="120.0" cy="21.8" r="0.45"/><circle cx="128.0" cy="21.8" r="0.45"/><circle cx="135.9" cy="21.8" r="0.45"/><circle cx="143.9" cy="21.8" r="0.45"/><circle cx="0.6" cy="27.9" r="0.45"/><path d="M8.9 27.7L8.5 28.8L7.7 27.6Z"/><path d="M17.3 27.3L17.0 28.5L16.1 27.4Z"/><line x1="24.5" y1="27.9" x2="24.5" y2="27.9"/><path d="M25.8 26.6L25.1 28.5L24.0 27.3Z"/><line x1="32.4" y1="27.9" x2="33.2" y2="27.2"/><path d="M34.5 25.9L33.7 27.8L32.6 26.6Z"/><line x1="40.4" y1="27.9" x2="41.5" y2="26.8"/><path d="M42.8 25.5L42.1 27.4L41.0 26.2Z"/><line x1="48.4" y1="27.9" x2="49.3" y2="27.0"/><path d="M50.6 25.7L49.9 27.6L48.7 26.4Z"/><line x1="56.3" y1="27.9" x2="56.6" y2="27.6"/><path d="M57.9 26.3L57.2 28.2L56.1 27.1Z"/><path d="M65.1 27.1L64.8 28.4L63.8 27.4Z"/><path d="M72.6 27.6L72.4 28.8L71.4 27.8Z"/><circle cx="80.2" cy="27.9" r="0.45"/><circle cx="88.2" cy="27.9" r="0.45"/><circle cx="96.1" cy="27.9" r="0.45"/><circle cx="104.1" cy="27.9" r="0.45"/><circle cx="112.0" cy="27.9" r="0.45"/><circle cx="120.0" cy="27.9" r="0.45"/><circle cx="128.0" cy="27.9" r="0.45"/><circle cx="135.9" cy="27.9" r="0.45"/><circle cx="143.9" cy="27.9" r="0.45"/><path d="M1.3 34.0L0.4 34.8L0.2 33.4Z"/><path d="M9.6 33.8L8.7 34.7L8.4 33.4Z"/><path d="M18.0 33.4L16.8 34.7L16.2 33.4Z"/><line x1="24.5" y1="34.0" x2="24.9" y2="33.7"/><path d="M26.4 32.7L25.4 34.4L24.5 33.1Z"/><line x1="32.4" y1="34.0" x2="33.5" y2="33.2"/><path d="M34.8 32.0L34.0 33.8L32.9 32.5Z"/><line x1="40.4" y1="34.0" x2="41.7" y2="32.8"/><path d="M43.0 31.5L42.3 33.4L41.2 32.2Z"/><line x1="48.4" y1="34.0" x2="49.4" y2="33.0"/><path d="M50.7 31.7L50.0 33.6L48.9 32.4Z"/><line x1="56.3" y1="34.0" x2="56.7" y2="33.7"/><path d="M58.0 32.4L57.3 34.2L56.1 33.1Z"/><path d="M65.2 33.1L64.8 34.5L63.8 33.6Z"/><path d="M72.6 33.7L72.4 34.9L71.4 33.9Z"/><circle cx="80.2" cy="34.0" r="0.45"/><circle cx="88.2" cy="34.0" r="0.45"/><circle cx="96.1" cy="34.0" r="0.45"/><circle cx="104.1" cy="34.0" r="0.45"/><circle cx="112.0" cy="34.0" r="0.45"/><circle cx="120.0" cy="34.0" r="0.45"/><circle cx="128.0" cy="34.0" r="0.45"/><circle cx="135.9" cy="34.0" r="0.45"/><circle cx="143.9" cy="34.0" r="0.45"/><line x1="0.6" y1="40.2" x2="0.7" y2="40.2"/><path d="M2.5 40.1L0.7 41.0L0.6 39.4Z"/><line x1="8.6" y1="40.2" x2="9.4" y2="40.1"/><path d="M11.2 40.0L9.5 40.9L9.3 39.3Z"/><line x1="16.5" y1="40.2" x2="17.6" y2="40.0"/><path d="M19.4 39.7L17.8 40.8L17.5 39.2Z"/><line x1="24.5" y1="40.2" x2="25.5" y2="39.8"/><path d="M27.2 39.1L25.8 40.5L25.3 39.0Z"/><line x1="32.4" y1="40.2" x2="33.4" y2="39.5"/><path d="M35.0 38.5L33.9 40.2L33.0 38.9Z"/><line x1="40.4" y1="40.2" x2="41.3" y2="39.4"/><path d="M42.7 38.2L41.8 40.0L40.8 38.8Z"/><line x1="48.4" y1="40.2" x2="49.0" y2="39.6"/><path d="M50.3 38.4L49.5 40.2L48.4 39.0Z"/><path d="M57.6 38.9L56.9 40.7L55.8 39.6Z"/><path d="M65.0 39.5L64.8 40.7L63.8 39.7Z"/><path d="M72.5 39.9L72.3 41.1L71.3 40.1Z"/><circle cx="80.2" cy="40.2" r="0.45"/><circle cx="88.2" cy="40.2" r="0.45"/><circle cx="96.1" cy="40.2" r="0.45"/><circle cx="104.1" cy="40.2" r="0.45"/><circle cx="112.0" cy="40.2" r="0.45"/><circle cx="120.0" cy="40.2" r="0.45"/><circle cx="128.0" cy="40.2" r="0.45"/><circle cx="135.9" cy="40.2" r="0.45"/><circle cx="143.9" cy="40.2" r="0.45"/><line x1="0.6" y1="46.3" x2="1.4" y2="46.3"/><path d="M3.2 46.3L1.4 47.1L1.4 45.5Z"/><line x1="8.6" y1="46.3" x2="10.3" y2="46.3"/><path d="M12.1 46.2L10.3 47.1L10.3 45.5Z"/><line x1="16.5" y1="46.3" x2="18.4" y2="46.2"/><path d="M20.2 46.0L18.4 47.0L18.3 45.4Z"/><line x1="24.5" y1="46.3" x2="25.7" y2="46.1"/><path d="M27.5 45.7L25.9 46.8L25.5 45.3Z"/><line x1="32.4" y1="46.3" x2="33.0" y2="46.1"/><path d="M34.6 45.4L33.3 46.8L32.7 45.3Z"/><line x1="40.4" y1="46.3" x2="40.5" y2="46.2"/><path d="M42.0 45.2L41.0 46.9L40.1 45.6Z"/><path d="M49.5 45.3L48.8 46.8L47.9 45.8Z"/><path d="M57.1 45.6L56.8 46.8L55.8 45.8Z"/><path d="M64.7 45.9L64.5 47.1L63.5 46.1Z"/><circle cx="72.2" cy="46.3" r="0.45"/><circle cx="80.2" cy="46.3" r="0.45"/><circle cx="88.2" cy="46.3" r="0.45"/><circle cx="96.1" cy="46.3" r="0.45"/><circle cx="104.1" cy="46.3" r="0.45"/><circle cx="112.0" cy="46.3" r="0.45"/><circle cx="120.0" cy="46.3" r="0.45"/><circle cx="128.0" cy="46.3" r="0.45"/><circle cx="135.9" cy="46.3" r="0.45"/><circle cx="143.9" cy="46.3" r="0.45"/><path d="M2.3 52.4L0.6 53.2L0.6 51.7Z"/><line x1="8.6" y1="52.4" x2="9.1" y2="52.4"/><path d="M10.9 52.4L9.1 53.2L9.1 51.6Z"/><line x1="16.5" y1="52.4" x2="17.1" y2="52.4"/><path d="M18.9 52.3L17.1 53.2L17.0 51.6Z"/><line x1="24.5" y1="52.4" x2="24.5" y2="52.4"/><path d="M26.3 52.2L24.6 53.2L24.4 51.6Z"/><path d="M33.7 52.0L32.7 53.1L32.2 51.8Z"/><path d="M41.2 52.0L40.7 53.1L40.0 51.9Z"/><path d="M48.9 52.0L48.6 53.2L47.7 52.1Z"/><path d="M56.6 52.1L56.4 53.3L55.4 52.3Z"/><circle cx="64.3" cy="52.4" r="0.45"/><circle cx="72.2" cy="52.4" r="0.45"/><circle cx="80.2" cy="52.4" r="0.45"/><circle cx="88.2" cy="52.4" r="0.45"/><circle cx="96.1" cy="52.4" r="0.45"/><circle cx="104.1" cy="52.4" r="0.45"/><circle cx="112.0" cy="52.4" r="0.45"/><circle cx="120.0" cy="52.4" r="0.45"/><circle cx="128.0" cy="52.4" r="0.45"/><circle cx="135.9" cy="52.4" r="0.45"/><circle cx="143.9" cy="52.4" r="0.45"/><path d="M1.1 58.6L0.1 59.2L0.2 57.8Z"/><path d="M9.3 58.6L8.2 59.3L8.3 57.9Z"/><path d="M17.3 58.6L16.2 59.3L16.3 57.9Z"/><path d="M25.1 58.5L24.1 59.3L24.0 57.9Z"/><circle cx="32.4" cy="58.6" r="0.45"/><circle cx="40.4" cy="58.6" r="0.45"/><circle cx="48.4" cy="58.6" r="0.45"/><circle cx="56.3" cy="58.6" r="0.45"/><circle cx="64.3" cy="58.6" r="0.45"/><path d="M71.7 58.6L72.6 57.9L72.7 59.3Z"/><path d="M79.2 58.6L80.2 57.9L80.3 59.3Z"/><path d="M86.8 58.6L88.1 57.9L88.2 59.3Z"/><path d="M94.6 58.6L96.1 57.9L96.1 59.3Z"/><path d="M102.5 58.6L104.1 57.9L104.1 59.3Z"/><path d="M110.7 58.6L112.0 57.9L112.1 59.3Z"/><path d="M119.0 58.6L120.0 57.9L120.1 59.3Z"/><path d="M127.4 58.6L128.3 57.8L128.4 59.2Z"/><circle cx="135.9" cy="58.6" r="0.45"/><circle cx="143.9" cy="58.6" r="0.45"/><circle cx="0.6" cy="64.7" r="0.45"/><circle cx="8.6" cy="64.7" r="0.45"/><circle cx="16.5" cy="64.7" r="0.45"/><circle cx="24.5" cy="64.7" r="0.45"/><circle cx="32.4" cy="64.7" r="0.45"/><circle cx="40.4" cy="64.7" r="0.45"/><circle cx="48.4" cy="64.7" r="0.45"/><circle cx="56.3" cy="64.7" r="0.45"/><path d="M63.6 64.9L64.4 64.0L64.7 65.3Z"/><path d="M70.9 64.9L72.2 64.0L72.3 65.4Z"/><line x1="80.2" y1="64.7" x2="79.8" y2="64.7"/><path d="M78.0 64.9L79.7 63.9L79.9 65.5Z"/><line x1="88.2" y1="64.7" x2="86.9" y2="64.8"/><path d="M85.2 64.9L86.9 64.0L87.0 65.6Z"/><line x1="96.1" y1="64.7" x2="94.4" y2="64.8"/><path d="M92.6 64.9L94.3 64.0L94.4 65.6Z"/><line x1="104.1" y1="64.7" x2="102.4" y2="64.8"/><path d="M100.6 64.9L102.3 64.0L102.4 65.6Z"/><line x1="112.0" y1="64.7" x2="110.8" y2="64.8"/><path d="M109.1 64.9L110.8 64.0L110.9 65.6Z"/><line x1="120.0" y1="64.7" x2="119.6" y2="64.7"/><path d="M117.8 64.9L119.6 63.9L119.7 65.5Z"/><path d="M126.6 64.9L127.9 64.0L128.1 65.4Z"/><path d="M135.2 64.9L136.0 64.0L136.4 65.3Z"/><circle cx="143.9" cy="64.7" r="0.45"/><path d="M0.6 71.3L-0.1 70.3L1.3 70.3Z"/><path d="M8.6 71.3L7.9 70.3L9.3 70.3Z"/><path d="M16.5 71.3L15.8 70.3L17.2 70.3Z"/><path d="M24.5 71.3L23.8 70.3L25.2 70.3Z"/><path d="M32.4 71.3L31.7 70.3L33.1 70.3Z"/><path d="M40.4 71.3L39.7 70.2L41.1 70.3Z"/><path d="M48.3 71.3L47.8 70.2L49.2 70.5Z"/><path d="M56.0 71.3L56.0 70.1L57.2 70.8Z"/><path d="M63.7 71.3L64.0 70.1L64.9 71.3Z"/><path d="M71.0 71.3L72.0 70.2L72.5 71.5Z"/><line x1="80.2" y1="70.8" x2="80.0" y2="70.9"/><path d="M78.3 71.3L79.8 70.1L80.2 71.7Z"/><line x1="88.2" y1="70.8" x2="87.3" y2="71.0"/><path d="M85.5 71.3L87.1 70.2L87.4 71.8Z"/><line x1="96.1" y1="70.8" x2="94.8" y2="71.0"/><path d="M93.0 71.3L94.6 70.2L94.9 71.8Z"/><line x1="104.1" y1="70.8" x2="102.7" y2="71.0"/><path d="M100.9 71.3L102.6 70.2L102.8 71.8Z"/><line x1="112.0" y1="70.8" x2="111.2" y2="71.0"/><path d="M109.4 71.3L111.0 70.2L111.3 71.8Z"/><line x1="120.0" y1="70.8" x2="119.8" y2="70.9"/><path d="M118.1 71.3L119.6 70.1L120.0 71.6Z"/><path d="M126.8 71.3L127.7 70.2L128.2 71.5Z"/><path d="M135.3 71.3L135.7 70.1L136.5 71.3Z"/><path d="M143.6 71.3L143.5 70.1L144.7 70.8Z"/><path d="M0.6 77.8L-0.1 76.8L1.3 76.8Z"/><path d="M8.6 77.8L7.9 76.8L9.3 76.8Z"/><path d="M16.5 77.8L15.8 76.8L17.2 76.8Z"/><path d="M24.5 77.8L23.8 76.8L25.2 76.8Z"/><path d="M32.4 77.8L31.7 76.8L33.1 76.8Z"/><path d="M40.4 77.8L39.7 76.8L41.1 76.8Z"/><path d="M48.3 77.8L47.7 76.8L49.1 76.8Z"/><path d="M56.2 77.8L55.6 76.7L57.0 76.9Z"/><path d="M64.1 77.8L63.6 76.7L65.0 77.0Z"/><path d="M71.8 77.8L71.6 76.6L72.9 77.2Z"/><path d="M79.5 77.8L79.7 76.5L80.7 77.4Z"/><path d="M87.2 77.8L87.7 76.4L88.6 77.5Z"/><path d="M95.0 77.8L95.7 76.4L96.5 77.5Z"/><path d="M103.0 77.8L103.7 76.4L104.5 77.5Z"/><path d="M111.1 77.8L111.6 76.4L112.5 77.5Z"/><path d="M119.3 77.8L119.5 76.5L120.5 77.4Z"/><path d="M127.5 77.8L127.4 76.6L128.6 77.2Z"/><path d="M135.7 77.8L135.3 76.7L136.6 77.0Z"/><path d="M143.8 77.8L143.2 76.7L144.6 76.9Z"/><path d="M0.6 84.2L-0.1 83.1L1.3 83.1Z"/><path d="M8.6 84.2L7.9 83.1L9.3 83.1Z"/><path d="M16.5 84.2L15.8 83.1L17.2 83.1Z"/><path d="M24.5 84.2L23.8 83.1L25.2 83.1Z"/><path d="M32.4 84.2L31.7 83.1L33.1 83.1Z"/><path d="M40.4 84.2L39.7 83.1L41.1 83.1Z"/><path d="M48.4 84.2L47.7 83.1L49.1 83.1Z"/><path d="M56.3 84.2L55.6 83.1L57.0 83.1Z"/><path d="M64.2 84.2L63.6 83.1L65.0 83.1Z"/><path d="M72.2 84.2L71.5 83.1L72.9 83.1Z"/><path d="M80.1 84.2L79.5 83.0L80.9 83.2Z"/><path d="M88.0 84.2L87.5 83.0L88.9 83.2Z"/><path d="M96.0 84.2L95.4 83.0L96.8 83.2Z"/><path d="M103.9 84.2L103.4 83.0L104.8 83.2Z"/><path d="M111.9 84.2L111.3 83.0L112.7 83.2Z"/><path d="M119.9 84.2L119.3 83.0L120.7 83.1Z"/><path d="M127.9 84.2L127.3 83.1L128.7 83.1Z"/><path d="M135.9 84.2L135.2 83.1L136.6 83.1Z"/><path d="M143.9 84.2L143.2 83.1L144.6 83.1Z"/><path d="M0.6 90.3L-0.1 89.2L1.3 89.2Z"/><path d="M8.6 90.3L7.9 89.2L9.3 89.2Z"/><path d="M16.5 90.3L15.8 89.2L17.2 89.2Z"/><path d="M24.5 90.3L23.8 89.2L25.2 89.2Z"/><path d="M32.4 90.3L31.7 89.2L33.1 89.2Z"/><path d="M40.4 90.3L39.7 89.2L41.1 89.2Z"/><path d="M48.4 90.3L47.7 89.2L49.1 89.2Z"/><path d="M56.3 90.3L55.6 89.2L57.0 89.2Z"/><path d="M64.3 90.3L63.6 89.2L65.0 89.2Z"/><path d="M72.2 90.3L71.5 89.2L72.9 89.2Z"/><path d="M80.2 90.3L79.5 89.2L80.9 89.2Z"/><path d="M88.2 90.3L87.5 89.2L88.9 89.2Z"/><path d="M96.1 90.3L95.4 89.2L96.8 89.2Z"/><path d="M104.1 90.3L103.4 89.2L104.8 89.2Z"/><path d="M112.0 90.3L111.3 89.2L112.7 89.2Z"/><path d="M120.0 90.3L119.3 89.2L120.7 89.2Z"/><path d="M128.0 90.3L127.3 89.2L128.7 89.2Z"/><path d="M135.9 90.3L135.2 89.2L136.6 89.2Z"/><path d="M143.9 90.3L143.2 89.2L144.6 89.2Z"/><path d="M0.6 96.0L-0.1 95.0L1.3 95.0Z"/><path d="M8.6 96.0L7.9 95.0L9.3 95.0Z"/><path d="M16.5 96.0L15.8 95.0L17.2 95.0Z"/><path d="M24.5 96.0L23.8 95.0L25.2 95.0Z"/><path d="M32.4 96.0L31.7 95.0L33.1 95.0Z"/><path d="M40.4 96.0L39.7 95.0L41.1 95.0Z"/><path d="M48.4 96.0L47.7 95.0L49.1 95.0Z"/><path d="M56.3 96.0L55.6 95.0L57.0 95.0Z"/><path d="M64.3 96.0L63.6 95.0L65.0 95.0Z"/><path d="M72.2 96.0L71.5 95.0L72.9 95.0Z"/><path d="M80.2 96.0L79.5 95.0L80.9 95.0Z"/><path d="M88.2 96.0L87.5 95.0L88.9 95.0Z"/><path d="M96.1 96.0L95.4 95.0L96.8 95.0Z"/><path d="M104.1 96.0L103.4 95.0L104.8 95.0Z"/><path d="M112.0 96.0L111.3 95.0L112.7 95.0Z"/><path d="M120.0 96.0L119.3 95.0L120.7 95.0Z"/><path d="M128.0 96.0L127.3 95.0L128.7 95.0Z"/><path d="M135.9 96.0L135.2 95.0L136.6 95.0Z"/><path d="M143.9 96.0L143.2 95.0L144.6 95.0Z"/></g></g><rect x="0.5" y="0.5" width="145" height="96" fill="none" stroke="#8a8a8a" stroke-width="1"/></g><text x="90.5" y="447.8" font-size="5.27" fill="#2b2b2b" text-anchor="middle" textLength="115.7" lengthAdjust="spacingAndGlyphs" font-family="Liberation Sans, sans-serif">(j) Wind: EXPT minus CTRL 4 d Before Onset</text><text x="20.0" y="468.8" font-size="6.40" fill="#666" text-anchor="end" textLength="15.0" lengthAdjust="spacingAndGlyphs" font-family="Liberation Sans, sans-serif">20°N</text><text x="20.0" y="485.0" font-size="6.40" fill="#666" text-anchor="end" textLength="14.8" lengthAdjust="spacingAndGlyphs" font-family="Liberation Sans, sans-serif">15°N</text><text x="20.0" y="501.1" font-size="6.40" fill="#666" text-anchor="end" textLength="14.8" lengthAdjust="spacingAndGlyphs" font-family="Liberation Sans, sans-serif">10°N</text><text x="20.0" y="517.3" font-size="6.40" fill="#666" text-anchor="end" textLength="10.9" lengthAdjust="spacingAndGlyphs" font-family="Liberation Sans, sans-serif">5°N</text><text x="20.0" y="533.4" font-size="6.40" fill="#666" text-anchor="end" textLength="6.2" lengthAdjust="spacingAndGlyphs" font-family="Liberation Sans, sans-serif">0°</text><text x="38.2" y="553.8" font-size="6.30" fill="#666" text-anchor="middle" textLength="14.1" lengthAdjust="spacingAndGlyphs" font-family="Liberation Sans, sans-serif">60°E</text><text x="70.6" y="553.8" font-size="6.30" fill="#666" text-anchor="middle" textLength="14.0" lengthAdjust="spacingAndGlyphs" font-family="Liberation Sans, sans-serif">70°E</text><text x="102.8" y="553.8" font-size="6.30" fill="#666" text-anchor="middle" textLength="14.1" lengthAdjust="spacingAndGlyphs" font-family="Liberation Sans, sans-serif">80°E</text><text x="135.1" y="553.8" font-size="6.30" fill="#666" text-anchor="middle" textLength="14.1" lengthAdjust="spacingAndGlyphs" font-family="Liberation Sans, sans-serif">90°E</text><g transform="translate(185,450)"><g clip-path="url(#pc)"><g transform="scale(0.1)"><rect x="0" y="0" width="1460" height="970" fill="#3b4cc0"/><path fill="#5977e3" fill-rule="evenodd" d="M0 0l1450 0 0 960-1450 0 0-960zM785 625l-20 1-15 3-10 5-5 6-4 10-1 10 2 10 8 11 15 8 20 2 215 0 15-2 10-4 10-9 4-11 0-15-4-10-10-9-15-5-25-1-190 0z"/><path fill="#7b9ff9" fill-rule="evenodd" d="M0 0l1450 0 0 960-1450 0 0-960zM710 600l-30 5-10 5-4 5-6 15-1 35 5 25 10 15 16 9 25 6 45 2 220 0 120-3 15-4 12-10 13-20 7-20 1-10-2-10-13-25-13-13-20-6-115-4-220 0-55 3z"/><path fill="#9ebeff" fill-rule="evenodd" d="M0 0l1450 0 0 960-1450 0 0-960zM565 279l-15 11-6 10-3 10-2 35 4 30 9 15 13 9 15 3 20-2 15-8 6-7 4-10 3-15 1-20-3-35-8-15-13-10-20-4-20 3zM720 575l-40 3-25 8-18 14-6 10-3 10-2 50 6 25 9 15 14 15 15 10 15 4 30 5 30 1 330 0 35-2 20-5 18-13 15-25 14-35 1-15-1-10-6-15-8-15-7-10-11-9-11-6-14-4-30-4-65-2-305 0z"/><path fill="#c0d4f5" fill-rule="evenodd" d="M0 0l283 0 2 35 4 15 6 9 10 9 10 5 30 4 30-4 10-5 10-9 6-9 4-15 2-35 161 0-2 90-5 15-13 20 1 5 9 10 22 9 25 6 30 1 110-4 20-7 16-10 12-15 7-20 2-25 0-75 648 0 0 960-1450 0 0-960zM520 200l-15 5-10 10-5 10-3 15-3 45 0 100 2 25 5 15 9 9 11 6 24 10 15 4 30 1 40-1 20-3 14-6 11-9 7-11 5-15 2-20 1-70-2-55-2-25-8-20-8-10-6-5-9-4-15-4-45-1-65 4zM705 494l-35 9-135 48-18 9-10 10-7 15-2 20 0 130 4 25 7 10 6 5 20 8 45 12 110 21 25 2 95-1 50-4 75-1 50-4 65-1 55-8 95-8 85-9 30-5 15-5 10-10 7-12 12-40 4-20-2-15-7-10-12-10-32-18-70-38-40-20-45-15-25-7-90-19-175-32-120-13-40 1z"/><path fill="#dddcdc" fill-rule="evenodd" d="M92 0l100 0 1 45 5 60 2 11 4 9 11 9 20 3 80 1 60 0 55-3 15 3 10 4 9 8 6 10 3 10-2 15-13 30-4 20-1 110 4 65 3 17 6 13 9 10 31 20 5 10 1 10-6 20-21 42-21 48-9 14-36 41-24 40-9 20-2 25 6 25 10 20 15 15 15 6 45 3 25 6 15 10 30 27 25 12 45 7 115 11 290 0 30-1 10-3 10-8 11-25 9-11 15-6 25-2 25 1 15 5 8 8 12 30 10 8 15 4 60-1 175-26 0 105-1299 0-1-115-3-20-8-15-14-11-20-5-105-2 0-700 50-2 15-5 13-10 7-10 5-15 2-50zM975 0l475 0 0 588-60 7-20-1-17-9-48-35-55-31-10-10-9-14-5-15-10-40-6-15-24-35-26-46-10-13-10-8-15-4-20-1-270-1-20-4-10-8-5-10-1-10 3-5 8-6 15-1 125-1 10-2 10-5 8-10 3-10 1-20 0-85-2-26-6-19-9-18-28-32-6-10 0-5 3-5 31-15 10-10zM888 200l12-2 15 0 10 3 5 4 4 5 2 10-2 10-4 7-10 6-15 1-15-1-10-7-5-11 0-10 5-10 8-5zM866 365l14-1 10 3 5 3 8 10 2 15-2 10-8 10-5 3-10 2-15 0-10-5-8-10-2-10 2-15 8-10 11-5z"/><path fill="#f2cbb7" fill-rule="evenodd" d="M1011 20l24-2 190 0 30 1 25 6 23 10 5 5 0 5-21 25-5 10-3 15-1 30 1 25 4 15 7 10 15 10 20 4 125 1 0 331-100 0-35-2-35-8-15-8-8-8-7-10-5-15-4-40-3-10-29-40-27-70-11-20-11-10-10-6-86-39-14-10-7-10-5-20-1-45-3-20-7-15-27-32-7-13-5-15-1-10 4-10 9-10 11-5zM141 80l9-2 5 1 5 4 4 7 9 40 6 20 34 75 12 20 10 10 15 8 90 36 15 10 17 16 28 28 14 17 7 15 17 50 15 20 29 25 4 10-1 10-26 70-9 20-10 13-10 10-25 15-105 33-60 14-90 24-150 13 0-530 20-4 15-8 90-80 16-10zM418 160l17-1 11 6 5 10-1 5-5 8-10 6-10 1-10-2-5-3-5-10 1-10 4-6 8-4zM249 810l46-3 50 1 15 2 15 7 25 26 10 6 15 5 55 7 20 7 16 12 9 15 2 15 1 50-323 0 1-70 6-45 6-15 7-9 10-7 14-4z"/><path fill="#f7ac8e" fill-rule="evenodd" d="M122 225l13-1 15 7 50 56 28 23 29 15 43 17 20 13 32 30 43 56 15 12 30 20 10 9 5 8 2 10-7 39-13 41-6 10-10 10-16 10-15 5-110 24-110 9-60 1-50 4-60 0 0-363 25-7 30-13 16-10 34-26 17-9zM1282 230l33-2 135 0 0 264-145-1-20-4-10-7-4-5-3-10 0-10 7-30-3-10-23-30-6-15-2-20 0-55 3-25 7-20 14-14 17-6zM293 885l17-1 15 2 15 6 9 8 7 10 3 10 3 40-110 0 2-35 6-20 5-7 10-8 18-5z"/><path fill="#ee8468" fill-rule="evenodd" d="M1340 265l110 0 0 137-120-2-20-4-16-11-6-10-4-20 1-42 4-23 6-10 10-8 15-5 20-2zM52 350l43-3 130 2 40 7 15 5 18 9 20 15 17 18 34 47 30 35 7 20 6 50-1 20-5 10-11 9-18 6-77 10-130 2-170 0 0-255 52-7z"/><path fill="#d65244" fill-rule="evenodd" d="M70 425l30-2 95 0 25 3 15 6 13 13 5 10 3 15 0 35-3 15-5 10-8 9-10 7-15 4-15 2-115 0-20-3-15-6-13-13-6-15-3-25 2-25 4-15 7-10 13-10 16-5z"/></g><path d="M16.2 0V96M48.6 0V96M80.8 0V96M113.1 0V96M0 17.4H145M0 33.6H145M0 49.7H145M0 65.9H145M0 82.0H145" stroke="#808080" stroke-opacity="0.22" stroke-width="0.6" fill="none"/><use href="#coast" fill="none" stroke="#2a2a2a" stroke-width="0.45" stroke-opacity="0.9"/><use href="#dots" fill="#444" fill-opacity="0.6"/><g fill="#111" stroke="#1a1a1a" stroke-width="0.4" stroke-linejoin="round"><circle cx="0.6" cy="3.4" r="0.45"/><circle cx="8.6" cy="3.4" r="0.45"/><circle cx="16.5" cy="3.4" r="0.45"/><circle cx="24.5" cy="3.4" r="0.45"/><path d="M32.8 3.0L32.6 4.2L31.6 3.3Z"/><path d="M40.9 2.9L40.7 4.1L39.7 3.1Z"/><path d="M49.0 2.8L48.8 4.0L47.8 3.0Z"/><path d="M56.9 2.7L56.8 3.9L55.8 3.0Z"/><path d="M64.9 2.8L64.7 4.0L63.7 3.0Z"/><path d="M72.7 2.9L72.5 4.1L71.5 3.2Z"/><path d="M80.5 3.1L80.3 4.3L79.3 3.3Z"/><circle cx="88.2" cy="3.4" r="0.45"/><circle cx="96.1" cy="3.4" r="0.45"/><circle cx="104.1" cy="3.4" r="0.45"/><circle cx="112.0" cy="3.4" r="0.45"/><circle cx="120.0" cy="3.4" r="0.45"/><circle cx="128.0" cy="3.4" r="0.45"/><circle cx="135.9" cy="3.4" r="0.45"/><circle cx="143.9" cy="3.4" r="0.45"/><circle cx="0.6" cy="9.5" r="0.45"/><circle cx="8.6" cy="9.5" r="0.45"/><circle cx="16.5" cy="9.5" r="0.45"/><path d="M24.9 9.1L24.7 10.3L23.7 9.3Z"/><path d="M33.1 8.8L32.9 10.0L31.9 9.0Z"/><path d="M41.4 8.5L40.9 10.0L39.9 9.0Z"/><path d="M49.5 8.3L48.9 10.0L47.8 9.0Z"/><path d="M57.5 8.3L56.9 10.1L55.8 9.0Z"/><path d="M65.4 8.4L64.8 10.0L63.8 9.0Z"/><path d="M73.1 8.6L72.7 10.0L71.7 9.0Z"/><path d="M80.8 8.9L80.6 10.1L79.6 9.1Z"/><path d="M88.5 9.2L88.3 10.4L87.3 9.4Z"/><circle cx="96.1" cy="9.5" r="0.45"/><circle cx="104.1" cy="9.5" r="0.45"/><circle cx="112.0" cy="9.5" r="0.45"/><circle cx="120.0" cy="9.5" r="0.45"/><circle cx="128.0" cy="9.5" r="0.45"/><circle cx="135.9" cy="9.5" r="0.45"/><circle cx="143.9" cy="9.5" r="0.45"/><circle cx="0.6" cy="15.7" r="0.45"/><circle cx="8.6" cy="15.7" r="0.45"/><path d="M16.9 15.3L16.7 16.5L15.7 15.5Z"/><path d="M25.2 14.9L25.0 16.1L24.0 15.2Z"/><path d="M33.5 14.5L33.0 16.2L31.9 15.2Z"/><line x1="40.4" y1="15.7" x2="40.7" y2="15.3"/><path d="M41.9 14.0L41.3 15.9L40.1 14.8Z"/><line x1="48.4" y1="15.7" x2="49.0" y2="15.0"/><path d="M50.2 13.7L49.6 15.6L48.4 14.5Z"/><line x1="56.3" y1="15.7" x2="57.0" y2="14.9"/><path d="M58.3 13.6L57.6 15.5L56.4 14.4Z"/><line x1="64.3" y1="15.7" x2="64.8" y2="15.1"/><path d="M66.0 13.8L65.4 15.7L64.2 14.6Z"/><line x1="72.2" y1="15.7" x2="72.4" y2="15.5"/><path d="M73.6 14.2L73.0 16.0L71.8 14.9Z"/><path d="M81.2 14.6L80.7 16.1L79.7 15.2Z"/><path d="M88.7 15.1L88.6 16.3L87.5 15.3Z"/><path d="M96.4 15.3L96.2 16.6L95.2 15.6Z"/><circle cx="104.1" cy="15.7" r="0.45"/><circle cx="112.0" cy="15.7" r="0.45"/><circle cx="120.0" cy="15.7" r="0.45"/><circle cx="128.0" cy="15.7" r="0.45"/><circle cx="135.9" cy="15.7" r="0.45"/><circle cx="143.9" cy="15.7" r="0.45"/><circle cx="0.6" cy="21.8" r="0.45"/><circle cx="8.6" cy="21.8" r="0.45"/><path d="M17.0 21.3L16.8 22.5L15.8 21.5Z"/><path d="M25.4 20.8L25.0 22.3L24.0 21.3Z"/><line x1="32.4" y1="21.8" x2="32.7" y2="21.5"/><path d="M33.9 20.2L33.3 22.1L32.1 21.0Z"/><line x1="40.4" y1="21.8" x2="41.2" y2="20.9"/><path d="M42.4 19.6L41.8 21.5L40.6 20.4Z"/><line x1="48.4" y1="21.8" x2="49.6" y2="20.5"/><path d="M50.8 19.2L50.2 21.1L49.0 19.9Z"/><line x1="56.3" y1="21.8" x2="57.7" y2="20.4"/><path d="M58.9 19.1L58.2 20.9L57.1 19.8Z"/><line x1="64.3" y1="21.8" x2="65.4" y2="20.6"/><path d="M66.6 19.3L66.0 21.2L64.8 20.1Z"/><line x1="72.2" y1="21.8" x2="72.9" y2="21.1"/><path d="M74.1 19.8L73.4 21.7L72.3 20.6Z"/><line x1="80.2" y1="21.8" x2="80.2" y2="21.7"/><path d="M81.5 20.4L80.8 22.3L79.7 21.2Z"/><path d="M88.9 21.0L88.7 22.3L87.7 21.3Z"/><path d="M96.5 21.4L96.3 22.6L95.3 21.6Z"/><circle cx="104.1" cy="21.8" r="0.45"/><circle cx="112.0" cy="21.8" r="0.45"/><circle cx="120.0" cy="21.8" r="0.45"/><circle cx="128.0" cy="21.8" r="0.45"/><circle cx="135.9" cy="21.8" r="0.45"/><circle cx="143.9" cy="21.8" r="0.45"/><circle cx="0.6" cy="27.9" r="0.45"/><path d="M8.9 27.6L8.5 28.8L7.7 27.7Z"/><path d="M17.2 27.3L16.9 28.5L16.0 27.5Z"/><path d="M25.6 26.9L25.0 28.4L24.0 27.4Z"/><line x1="32.4" y1="27.9" x2="32.9" y2="27.5"/><path d="M34.2 26.2L33.4 28.1L32.3 26.9Z"/><line x1="40.4" y1="27.9" x2="41.4" y2="26.8"/><path d="M42.7 25.6L42.0 27.4L40.9 26.3Z"/><line x1="48.4" y1="27.9" x2="49.9" y2="26.4"/><path d="M51.1 25.1L50.4 26.9L49.3 25.8Z"/><line x1="56.3" y1="27.9" x2="57.9" y2="26.2"/><path d="M59.2 24.9L58.5 26.8L57.4 25.7Z"/><line x1="64.3" y1="27.9" x2="65.6" y2="26.5"/><path d="M66.9 25.2L66.2 27.0L65.1 25.9Z"/><line x1="72.2" y1="27.9" x2="73.0" y2="27.1"/><path d="M74.3 25.8L73.6 27.6L72.5 26.5Z"/><line x1="80.2" y1="27.9" x2="80.4" y2="27.7"/><path d="M81.6 26.4L80.9 28.3L79.8 27.2Z"/><path d="M89.0 27.0L88.7 28.4L87.7 27.4Z"/><path d="M96.6 27.5L96.4 28.7L95.4 27.7Z"/><circle cx="104.1" cy="27.9" r="0.45"/><circle cx="112.0" cy="27.9" r="0.45"/><circle cx="120.0" cy="27.9" r="0.45"/><circle cx="128.0" cy="27.9" r="0.45"/><circle cx="135.9" cy="27.9" r="0.45"/><circle cx="143.9" cy="27.9" r="0.45"/><path d="M1.1 33.9L0.3 34.8L-0.0 33.5Z"/><path d="M9.4 33.8L8.6 34.8L8.2 33.4Z"/><path d="M17.7 33.5L16.8 34.7L16.2 33.4Z"/><path d="M26.0 33.1L24.9 34.7L24.1 33.4Z"/><line x1="32.4" y1="34.0" x2="33.0" y2="33.6"/><path d="M34.4 32.5L33.5 34.2L32.5 33.0Z"/><line x1="40.4" y1="34.0" x2="41.4" y2="33.1"/><path d="M42.7 31.9L42.0 33.7L40.9 32.5Z"/><line x1="48.4" y1="34.0" x2="49.7" y2="32.7"/><path d="M51.0 31.4L50.3 33.3L49.1 32.1Z"/><line x1="56.3" y1="34.0" x2="57.7" y2="32.6"/><path d="M59.0 31.3L58.3 33.2L57.1 32.1Z"/><line x1="64.3" y1="34.0" x2="65.4" y2="32.9"/><path d="M66.7 31.6L66.0 33.4L64.8 32.3Z"/><line x1="72.2" y1="34.0" x2="72.9" y2="33.4"/><path d="M74.1 32.1L73.5 33.9L72.3 32.8Z"/><line x1="80.2" y1="34.0" x2="80.2" y2="34.0"/><path d="M81.5 32.7L80.8 34.6L79.7 33.5Z"/><path d="M88.9 33.2L88.7 34.5L87.7 33.6Z"/><path d="M96.5 33.6L96.3 34.8L95.3 33.9Z"/><circle cx="104.1" cy="34.0" r="0.45"/><circle cx="112.0" cy="34.0" r="0.45"/><circle cx="120.0" cy="34.0" r="0.45"/><circle cx="128.0" cy="34.0" r="0.45"/><circle cx="135.9" cy="34.0" r="0.45"/><circle cx="143.9" cy="34.0" r="0.45"/><path d="M1.9 40.1L0.6 40.9L0.6 39.5Z"/><line x1="8.6" y1="40.2" x2="8.7" y2="40.2"/><path d="M10.4 40.0L8.7 41.0L8.6 39.4Z"/><line x1="16.5" y1="40.2" x2="17.1" y2="40.1"/><path d="M18.9 39.8L17.2 40.9L17.0 39.3Z"/><line x1="24.5" y1="40.2" x2="25.3" y2="39.9"/><path d="M27.0 39.4L25.5 40.7L25.1 39.2Z"/><line x1="32.4" y1="40.2" x2="33.3" y2="39.8"/><path d="M34.9 39.0L33.7 40.5L33.0 39.0Z"/><line x1="40.4" y1="40.2" x2="41.3" y2="39.6"/><path d="M42.8 38.5L41.8 40.2L40.9 38.9Z"/><line x1="48.4" y1="40.2" x2="49.3" y2="39.4"/><path d="M50.6 38.2L49.8 40.0L48.8 38.8Z"/><line x1="56.3" y1="40.2" x2="57.2" y2="39.4"/><path d="M58.4 38.1L57.7 39.9L56.6 38.8Z"/><line x1="64.3" y1="40.2" x2="64.9" y2="39.6"/><path d="M66.1 38.3L65.4 40.1L64.3 39.0Z"/><line x1="72.2" y1="40.2" x2="72.4" y2="40.0"/><path d="M73.7 38.7L73.0 40.5L71.8 39.4Z"/><path d="M81.2 39.2L80.7 40.7L79.7 39.7Z"/><path d="M88.7 39.6L88.6 40.8L87.5 39.8Z"/><path d="M96.4 39.9L96.2 41.1L95.2 40.1Z"/><circle cx="104.1" cy="40.2" r="0.45"/><circle cx="112.0" cy="40.2" r="0.45"/><circle cx="120.0" cy="40.2" r="0.45"/><circle cx="128.0" cy="40.2" r="0.45"/><circle cx="135.9" cy="40.2" r="0.45"/><circle cx="143.9" cy="40.2" r="0.45"/><line x1="0.6" y1="46.3" x2="0.9" y2="46.3"/><path d="M2.7 46.3L1.0 47.1L0.9 45.5Z"/><line x1="8.6" y1="46.3" x2="9.9" y2="46.3"/><path d="M11.7 46.2L9.9 47.1L9.9 45.5Z"/><line x1="16.5" y1="46.3" x2="18.5" y2="46.2"/><path d="M20.3 46.1L18.5 47.0L18.4 45.4Z"/><line x1="24.5" y1="46.3" x2="26.4" y2="46.1"/><path d="M28.2 45.8L26.5 46.9L26.3 45.3Z"/><line x1="32.4" y1="46.3" x2="33.9" y2="46.0"/><path d="M35.6 45.6L34.0 46.8L33.7 45.2Z"/><line x1="40.4" y1="46.3" x2="41.2" y2="46.0"/><path d="M42.9 45.3L41.5 46.7L40.9 45.2Z"/><line x1="48.4" y1="46.3" x2="48.7" y2="46.1"/><path d="M50.2 45.1L49.2 46.7L48.3 45.4Z"/><line x1="56.3" y1="46.3" x2="56.5" y2="46.2"/><path d="M57.8 45.0L57.0 46.8L55.9 45.6Z"/><path d="M65.5 45.1L64.8 46.8L63.8 45.8Z"/><path d="M73.1 45.4L72.7 46.8L71.7 45.8Z"/><path d="M80.8 45.7L80.6 46.9L79.6 45.9Z"/><path d="M88.5 45.9L88.4 47.1L87.3 46.2Z"/><circle cx="96.1" cy="46.3" r="0.45"/><circle cx="104.1" cy="46.3" r="0.45"/><circle cx="112.0" cy="46.3" r="0.45"/><circle cx="120.0" cy="46.3" r="0.45"/><circle cx="128.0" cy="46.3" r="0.45"/><circle cx="135.9" cy="46.3" r="0.45"/><circle cx="143.9" cy="46.3" r="0.45"/><line x1="0.6" y1="52.4" x2="1.0" y2="52.4"/><path d="M2.8 52.4L1.0 53.2L1.0 51.6Z"/><line x1="8.6" y1="52.4" x2="10.0" y2="52.4"/><path d="M11.8 52.4L10.0 53.2L10.0 51.6Z"/><line x1="16.5" y1="52.4" x2="18.6" y2="52.4"/><path d="M20.4 52.3L18.6 53.2L18.5 51.6Z"/><line x1="24.5" y1="52.4" x2="26.4" y2="52.3"/><path d="M28.2 52.2L26.4 53.1L26.3 51.5Z"/><line x1="32.4" y1="52.4" x2="33.6" y2="52.3"/><path d="M35.4 52.1L33.7 53.1L33.5 51.5Z"/><line x1="40.4" y1="52.4" x2="40.7" y2="52.4"/><path d="M42.5 51.9L40.9 53.1L40.5 51.6Z"/><path d="M49.7 51.8L48.7 53.1L48.1 51.8Z"/><path d="M57.2 51.8L56.8 53.0L55.9 51.9Z"/><path d="M64.8 51.8L64.7 53.0L63.6 52.1Z"/><path d="M72.5 52.0L72.6 53.2L71.4 52.5Z"/><circle cx="80.2" cy="52.4" r="0.45"/><circle cx="88.2" cy="52.4" r="0.45"/><circle cx="96.1" cy="52.4" r="0.45"/><circle cx="104.1" cy="52.4" r="0.45"/><circle cx="112.0" cy="52.4" r="0.45"/><circle cx="120.0" cy="52.4" r="0.45"/><circle cx="128.0" cy="52.4" r="0.45"/><circle cx="135.9" cy="52.4" r="0.45"/><circle cx="143.9" cy="52.4" r="0.45"/><path d="M2.0 58.6L0.6 59.3L0.6 57.9Z"/><line x1="8.6" y1="58.6" x2="8.8" y2="58.6"/><path d="M10.6 58.5L8.8 59.4L8.8 57.8Z"/><line x1="16.5" y1="58.6" x2="17.1" y2="58.6"/><path d="M18.9 58.5L17.1 59.4L17.1 57.8Z"/><line x1="24.5" y1="58.6" x2="24.9" y2="58.5"/><path d="M26.7 58.5L25.0 59.3L24.9 57.7Z"/><path d="M34.2 58.4L32.5 59.4L32.4 57.8Z"/><path d="M41.5 58.3L40.5 59.3L40.3 57.9Z"/><path d="M48.9 58.3L48.3 59.4L47.7 58.1Z"/><circle cx="56.3" cy="58.6" r="0.45"/><path d="M63.9 58.3L65.2 58.4L64.3 59.5Z"/><path d="M71.4 58.4L72.6 57.9L72.2 59.3Z"/><path d="M78.9 58.4L80.3 57.9L80.1 59.3Z"/><path d="M86.5 58.5L88.2 57.8L88.1 59.3Z"/><path d="M94.3 58.5L96.1 57.8L96.1 59.4Z"/><path d="M102.4 58.6L104.1 57.8L104.1 59.3Z"/><path d="M110.7 58.6L112.0 57.9L112.0 59.3Z"/><path d="M119.1 58.6L120.1 57.9L120.1 59.3Z"/><path d="M127.4 58.6L128.4 57.9L128.4 59.3Z"/><circle cx="135.9" cy="58.6" r="0.45"/><circle cx="143.9" cy="58.6" r="0.45"/><path d="M1.1 64.7L0.1 65.4L0.1 64.0Z"/><path d="M9.3 64.7L8.3 65.4L8.3 64.0Z"/><path d="M17.4 64.7L16.4 65.4L16.4 64.0Z"/><path d="M25.3 64.7L24.3 65.4L24.3 64.0Z"/><path d="M33.1 64.6L32.1 65.4L32.0 64.0Z"/><circle cx="40.4" cy="64.7" r="0.45"/><circle cx="48.4" cy="64.7" r="0.45"/><path d="M55.8 64.6L56.9 64.1L56.7 65.5Z"/><path d="M63.2 64.6L64.3 64.0L64.2 65.4Z"/><line x1="72.2" y1="64.7" x2="72.1" y2="64.7"/><path d="M70.3 64.6L72.2 63.9L72.1 65.5Z"/><line x1="80.2" y1="64.7" x2="79.3" y2="64.7"/><path d="M77.5 64.6L79.3 63.9L79.3 65.5Z"/><line x1="88.2" y1="64.7" x2="86.6" y2="64.7"/><path d="M84.8 64.7L86.6 63.9L86.6 65.5Z"/><line x1="96.1" y1="64.7" x2="94.4" y2="64.7"/><path d="M92.6 64.7L94.4 63.9L94.4 65.5Z"/><line x1="104.1" y1="64.7" x2="102.7" y2="64.7"/><path d="M100.9 64.7L102.7 63.9L102.7 65.5Z"/><line x1="112.0" y1="64.7" x2="111.3" y2="64.7"/><path d="M109.5 64.7L111.3 63.9L111.3 65.5Z"/><path d="M118.2 64.7L120.0 63.9L120.0 65.5Z"/><path d="M126.9 64.7L128.0 64.0L128.0 65.4Z"/><path d="M135.4 64.7L136.4 64.0L136.4 65.4Z"/><circle cx="143.9" cy="64.7" r="0.45"/><circle cx="0.6" cy="70.8" r="0.45"/><circle cx="8.6" cy="70.8" r="0.45"/><circle cx="16.5" cy="70.8" r="0.45"/><circle cx="24.5" cy="70.8" r="0.45"/><circle cx="32.4" cy="70.8" r="0.45"/><circle cx="40.4" cy="70.8" r="0.45"/><circle cx="48.4" cy="70.8" r="0.45"/><path d="M55.9 70.8L56.9 70.2L56.8 71.6Z"/><path d="M63.4 70.8L64.4 70.1L64.3 71.5Z"/><path d="M70.7 70.8L72.3 70.1L72.2 71.5Z"/><line x1="80.2" y1="70.8" x2="79.9" y2="70.8"/><path d="M78.1 70.8L79.9 70.0L79.9 71.6Z"/><line x1="88.2" y1="70.8" x2="87.4" y2="70.8"/><path d="M85.6 70.8L87.4 70.0L87.4 71.6Z"/><line x1="96.1" y1="70.8" x2="95.2" y2="70.8"/><path d="M93.4 70.8L95.2 70.0L95.2 71.6Z"/><line x1="104.1" y1="70.8" x2="103.4" y2="70.8"/><path d="M101.6 70.8L103.4 70.0L103.4 71.6Z"/><line x1="112.0" y1="70.8" x2="111.9" y2="70.8"/><path d="M110.1 70.8L111.9 70.0L111.9 71.6Z"/><path d="M118.7 70.8L120.0 70.1L120.0 71.5Z"/><path d="M127.2 70.8L128.2 70.1L128.2 71.5Z"/><path d="M135.5 70.8L136.5 70.1L136.5 71.5Z"/><circle cx="143.9" cy="70.8" r="0.45"/><circle cx="0.6" cy="77.0" r="0.45"/><circle cx="8.6" cy="77.0" r="0.45"/><circle cx="16.5" cy="77.0" r="0.45"/><circle cx="24.5" cy="77.0" r="0.45"/><circle cx="32.4" cy="77.0" r="0.45"/><circle cx="40.4" cy="77.0" r="0.45"/><circle cx="48.4" cy="77.0" r="0.45"/><circle cx="56.3" cy="77.0" r="0.45"/><circle cx="64.3" cy="77.0" r="0.45"/><path d="M71.8 77.0L72.8 76.3L72.8 77.7Z"/><path d="M79.6 77.0L80.6 76.3L80.6 77.7Z"/><path d="M87.4 77.0L88.4 76.3L88.4 77.7Z"/><path d="M95.3 77.0L96.3 76.3L96.3 77.7Z"/><path d="M103.3 77.0L104.3 76.3L104.3 77.7Z"/><path d="M111.4 77.0L112.4 76.3L112.4 77.7Z"/><path d="M119.6 77.0L120.6 76.3L120.6 77.7Z"/><circle cx="128.0" cy="77.0" r="0.45"/><circle cx="135.9" cy="77.0" r="0.45"/><circle cx="143.9" cy="77.0" r="0.45"/><circle cx="0.6" cy="83.1" r="0.45"/><circle cx="8.6" cy="83.1" r="0.45"/><circle cx="16.5" cy="83.1" r="0.45"/><circle cx="24.5" cy="83.1" r="0.45"/><circle cx="32.4" cy="83.1" r="0.45"/><circle cx="40.4" cy="83.1" r="0.45"/><circle cx="48.4" cy="83.1" r="0.45"/><circle cx="56.3" cy="83.1" r="0.45"/><circle cx="64.3" cy="83.1" r="0.45"/><circle cx="72.2" cy="83.1" r="0.45"/><circle cx="80.2" cy="83.1" r="0.45"/><circle cx="88.2" cy="83.1" r="0.45"/><circle cx="96.1" cy="83.1" r="0.45"/><circle cx="104.1" cy="83.1" r="0.45"/><circle cx="112.0" cy="83.1" r="0.45"/><circle cx="120.0" cy="83.1" r="0.45"/><circle cx="128.0" cy="83.1" r="0.45"/><circle cx="135.9" cy="83.1" r="0.45"/><circle cx="143.9" cy="83.1" r="0.45"/><circle cx="0.6" cy="89.2" r="0.45"/><circle cx="8.6" cy="89.2" r="0.45"/><circle cx="16.5" cy="89.2" r="0.45"/><circle cx="24.5" cy="89.2" r="0.45"/><circle cx="32.4" cy="89.2" r="0.45"/><circle cx="40.4" cy="89.2" r="0.45"/><circle cx="48.4" cy="89.2" r="0.45"/><circle cx="56.3" cy="89.2" r="0.45"/><circle cx="64.3" cy="89.2" r="0.45"/><circle cx="72.2" cy="89.2" r="0.45"/><circle cx="80.2" cy="89.2" r="0.45"/><circle cx="88.2" cy="89.2" r="0.45"/><circle cx="96.1" cy="89.2" r="0.45"/><circle cx="104.1" cy="89.2" r="0.45"/><circle cx="112.0" cy="89.2" r="0.45"/><circle cx="120.0" cy="89.2" r="0.45"/><circle cx="128.0" cy="89.2" r="0.45"/><circle cx="135.9" cy="89.2" r="0.45"/><circle cx="143.9" cy="89.2" r="0.45"/><circle cx="0.6" cy="95.4" r="0.45"/><circle cx="8.6" cy="95.4" r="0.45"/><circle cx="16.5" cy="95.4" r="0.45"/><circle cx="24.5" cy="95.4" r="0.45"/><circle cx="32.4" cy="95.4" r="0.45"/><circle cx="40.4" cy="95.4" r="0.45"/><circle cx="48.4" cy="95.4" r="0.45"/><circle cx="56.3" cy="95.4" r="0.45"/><circle cx="64.3" cy="95.4" r="0.45"/><circle cx="72.2" cy="95.4" r="0.45"/><circle cx="80.2" cy="95.4" r="0.45"/><circle cx="88.2" cy="95.4" r="0.45"/><circle cx="96.1" cy="95.4" r="0.45"/><circle cx="104.1" cy="95.4" r="0.45"/><circle cx="112.0" cy="95.4" r="0.45"/><circle cx="120.0" cy="95.4" r="0.45"/><circle cx="128.0" cy="95.4" r="0.45"/><circle cx="135.9" cy="95.4" r="0.45"/><circle cx="143.9" cy="95.4" r="0.45"/></g></g><rect x="0.5" y="0.5" width="145" height="96" fill="none" stroke="#8a8a8a" stroke-width="1"/></g><text x="253.5" y="447.8" font-size="5.27" fill="#2b2b2b" text-anchor="middle" textLength="117.3" lengthAdjust="spacingAndGlyphs" font-family="Liberation Sans, sans-serif">(k) Wind: EXPT minus CTRL 3 d Before Onset</text><text x="183.0" y="468.8" font-size="6.40" fill="#666" text-anchor="end" textLength="15.0" lengthAdjust="spacingAndGlyphs" font-family="Liberation Sans, sans-serif">20°N</text><text x="183.0" y="485.0" font-size="6.40" fill="#666" text-anchor="end" textLength="14.8" lengthAdjust="spacingAndGlyphs" font-family="Liberation Sans, sans-serif">15°N</text><text x="183.0" y="501.1" font-size="6.40" fill="#666" text-anchor="end" textLength="14.8" lengthAdjust="spacingAndGlyphs" font-family="Liberation Sans, sans-serif">10°N</text><text x="183.0" y="517.3" font-size="6.40" fill="#666" text-anchor="end" textLength="10.9" lengthAdjust="spacingAndGlyphs" font-family="Liberation Sans, sans-serif">5°N</text><text x="183.0" y="533.4" font-size="6.40" fill="#666" text-anchor="end" textLength="6.2" lengthAdjust="spacingAndGlyphs" font-family="Liberation Sans, sans-serif">0°</text><text x="201.2" y="553.8" font-size="6.30" fill="#666" text-anchor="middle" textLength="14.1" lengthAdjust="spacingAndGlyphs" font-family="Liberation Sans, sans-serif">60°E</text><text x="233.6" y="553.8" font-size="6.30" fill="#666" text-anchor="middle" textLength="14.0" lengthAdjust="spacingAndGlyphs" font-family="Liberation Sans, sans-serif">70°E</text><text x="265.9" y="553.8" font-size="6.30" fill="#666" text-anchor="middle" textLength="14.1" lengthAdjust="spacingAndGlyphs" font-family="Liberation Sans, sans-serif">80°E</text><text x="298.1" y="553.8" font-size="6.30" fill="#666" text-anchor="middle" textLength="14.1" lengthAdjust="spacingAndGlyphs" font-family="Liberation Sans, sans-serif">90°E</text><g transform="translate(348,450)"><g clip-path="url(#pc)"><g transform="scale(0.1)"><rect x="0" y="0" width="1460" height="970" fill="#5977e3"/><path fill="#7b9ff9" fill-rule="evenodd" d="M0 0l1450 0 0 960-1450 0 0-960zM565 320l-16 10-8 15-2 25 2 15 3 10 11 13 14 7 21 2 15-4 12-8 8-15 4-25-4-25-10-14-11-6-19-3-20 3z"/><path fill="#9ebeff" fill-rule="evenodd" d="M0 0l1450 0 0 960-1450 0 0-960zM540 280l-35 5-60 5-15 6-11 9-5 10-2 10 1 25 11 50 11 25 15 20 10 10 10 6 15 5 65 3 55 1 30-3 20-7 10-9 7-11 5-15 2-15 0-70-3-20-7-15-9-10-10-7-25-8-40-4-45 4zM455 630l-20 4-10 8-6 13-1 20 2 20 6 10 9 7 20 4 255 1 80-4 345-1 20-2 13-5 9-10 2-10-1-10-7-10-16-8-130-23-40-6-425 0-105 2z"/><path fill="#c0d4f5" fill-rule="evenodd" d="M93 0l53 0 2 110 4 15 8 11 10 6 20 6 50 7 48 5 12 5 5 5 4 10 1 10-15 65-2 35 1 25 3 15 4 10 7 10 42 32 50 44 19 19 26 33 12 12 14 10 66 35 13 10 7 10 0 10-6 10-21 11-100 22-55 20-75 12-18 5-11 5-11 10-6 15-1 30 2 10 5 10 10 8 15 5 105 3 95 19 75 11 160 19 70 1 175 0 35-2 65-14 135-35 20-8 10-6 15-16 10-18 10-27 2-15-2-10-9-15-11-12-15-12-20-12-50-24-120-48-25-9-20-4-105-3-15-5-12-11-4-10-3-15-15-110-6-20-17-40-1-15 4-10 9-7 15-6 40-9 20-7 35-19 21-17 6-10 3-10 2-35-6-25-11-15-10-6-35-15-11-9-24-27-10-7-15-6-30-2-220-2-20-3-25-8-25-11-13-9 933 0 0 960-1450 0 0-119 75-1 25-4 10-5 6-6 5-10 4-15-1-15-4-10-6-5-9-4-25-3-80 0 0-686 50-2 15-4 10-7 8-9 6-15 4-40zM1350 50l-15 4-9 6-9 10-4 10-4 15 0 25 1 25 4 15 6 10 6 5 22 10 37 5 15-1 10-3 13-11 5-10 3-15 1-45-2-15-4-15-11-14-15-9-25-3-25 1zM414 115l21-4 50-1 20 2 15 5 10 8 7 15 1 20-5 15-13 13-20 6-65 0-15-2-10-4-13-13-4-10-1-15 5-20 8-10 9-5z"/><path fill="#dddcdc" fill-rule="evenodd" d="M886 0l235 0-1 30-2 20-6 15-7 10-10 9-10 5-15 4-20 3-25 0-20-2-15-5-30-20-40-22-22-22-6-10-6-15zM1170 55l20-2 35 6 20 7 10 8 11 21 19 78 8 12 12 10 26 10 41 10 32 5 46 4 0 244-145-1-75-3-20-5-13-9-10-15-28-70-11-20-18-12-65-27-14-11-3-5-3-10 2-10 6-10 14-15 58-51 15-19 3-10 2-15 1-70 7-15 7-6 10-4zM450 135l35 0 15 3 8 7 2 11-6 9-19 5-40 0-10-2-10-4-5-9 0-6 5-8 10-4 15-2zM0 165l0-1 120 1 40 9 22 11 12 15 5 20 1 40-8 40 3 10 4 5 16 11 60 27 65 41 57 51 13 15 23 35 12 13 15 11 44 26 8 10-1 5-6 5-13 5-67 18-50 22-100 17-45 22-25 8-60 11-145 12 0-515zM1318 505l32-3 100 0 0 220-120-1-20-4-10-7-4-10 0-10 7-35 0-15-4-15-17-35-3-15 0-20 3-20 8-14 10-9 18-7zM208 760l22 0 50 5 95 1 35 6 15 6 11 7 9 10 16 25 9 10 15 9 20 3 605 0 115-3 225-1 0 122-1450 0 0-61 90-1 15-2 15-6 10-10 5-11 25-73 8-16 7-8 10-6 23-6z"/><path fill="#f2cbb7" fill-rule="evenodd" d="M924 0l159 0-1 20-6 20-11 11-20 6-35 0-20-6-25-16-25-13-10-9-6-13zM1184 80l16-1 20 4 10 4 9 8 7 15 18 70 8 15 13 13 20 10 50 14 30 7 65 9 0 193-200-1-25-3-10-6-7-11-31-75-12-18-20-14-45-18-17-10-3-5-1-5 4-10 62-56 12-14 6-10 6-25 2-65 5-10 8-5zM0 205l0-4 115 1 21 3 14 7 6 8 4 10 1 10-1 15-4 10-6 9-19 16-3 5 3 5 40 30 19 11 25 10 55 17 34 17 29 20 39 35 14 15 9 15 8 20 9 35 1 25-6 15-8 10-14 12-16 8-94 16-45 18-20 5-70 11-140 10 0-450zM229 795l131 0 20 2 15 3 15 10 15 23 8 22 1 10-2 10-7 10-10 7-15 5-15 2-155 1-25-1-15-4-14-10-7-15 0-20 6-20 10-18 10-9 15-6 19-2zM1234 885l41-2 175-1 0 78-273 0 3-35 8-20 7-7 10-6 29-7z"/><path fill="#f7ac8e" fill-rule="evenodd" d="M1278 305l7-1 12 1 8 5 4 5 2 10-1 6-5 9-5 4-10 2-10 0-10-6-4-5-2-10 2-10 4-5 8-5zM57 380l13-4 15-1 120 2 55 7 32 11 23 15 17 15 24 25 14 19 8 21 6 30 0 20-4 12-10 12-11 6-89 21-50 17-45 4-85 1-20-1-15-6-7-6-6-10-15-45-5-25-2-35 3-35 9-35 12-25 13-10zM1268 920l27-2 155 0 0 42-211 0 2-15 4-11 9-9 14-5z"/><path fill="#ee8468" fill-rule="evenodd" d="M79 420l31-3 95 0 45 6 25 7 10 7 7 8 8 20 1 35-5 25-7 10-14 10-30 6-35 2-105 0-20-1-10-3-10-7-10-18-5-23-1-26 2-20 6-15 8-12 14-8z"/><path fill="#d65244" fill-rule="evenodd" d="M94 455l11-3 15-1 60 0 20 2 10 3 10 9 3 10-1 10-7 11-10 6-10 2-70 1-25-2-8-3-6-5-6-15 3-15 3-5 8-5z"/></g><path d="M16.2 0V96M48.6 0V96M80.8 0V96M113.1 0V96M0 17.4H145M0 33.6H145M0 49.7H145M0 65.9H145M0 82.0H145" stroke="#808080" stroke-opacity="0.22" stroke-width="0.6" fill="none"/><use href="#coast" fill="none" stroke="#2a2a2a" stroke-width="0.45" stroke-opacity="0.9"/><use href="#dots" fill="#444" fill-opacity="0.6"/><g fill="#111" stroke="#1a1a1a" stroke-width="0.4" stroke-linejoin="round"><circle cx="0.6" cy="3.4" r="0.45"/><circle cx="8.6" cy="3.4" r="0.45"/><circle cx="16.5" cy="3.4" r="0.45"/><circle cx="24.5" cy="3.4" r="0.45"/><circle cx="32.4" cy="3.4" r="0.45"/><circle cx="40.4" cy="3.4" r="0.45"/><circle cx="48.4" cy="3.4" r="0.45"/><circle cx="56.3" cy="3.4" r="0.45"/><circle cx="64.3" cy="3.4" r="0.45"/><circle cx="72.2" cy="3.4" r="0.45"/><circle cx="80.2" cy="3.4" r="0.45"/><circle cx="88.2" cy="3.4" r="0.45"/><circle cx="96.1" cy="3.4" r="0.45"/><circle cx="104.1" cy="3.4" r="0.45"/><circle cx="112.0" cy="3.4" r="0.45"/><circle cx="120.0" cy="3.4" r="0.45"/><circle cx="128.0" cy="3.4" r="0.45"/><circle cx="135.9" cy="3.4" r="0.45"/><circle cx="143.9" cy="3.4" r="0.45"/><circle cx="0.6" cy="9.5" r="0.45"/><circle cx="8.6" cy="9.5" r="0.45"/><circle cx="16.5" cy="9.5" r="0.45"/><circle cx="24.5" cy="9.5" r="0.45"/><path d="M32.8 9.2L32.5 10.4L31.6 9.4Z"/><path d="M40.9 9.1L40.6 10.3L39.7 9.2Z"/><path d="M48.9 9.0L48.7 10.2L47.7 9.2Z"/><path d="M56.9 9.0L56.6 10.2L55.7 9.2Z"/><path d="M64.7 9.1L64.4 10.3L63.5 9.3Z"/><circle cx="72.2" cy="9.5" r="0.45"/><circle cx="80.2" cy="9.5" r="0.45"/><circle cx="88.2" cy="9.5" r="0.45"/><circle cx="96.1" cy="9.5" r="0.45"/><path d="M104.1 9.9L103.4 9.0L104.8 8.9Z"/><path d="M112.0 10.1L111.3 9.1L112.7 9.1Z"/><path d="M120.0 10.2L119.3 9.2L120.7 9.2Z"/><path d="M128.0 10.1L127.3 9.1L128.7 9.1Z"/><path d="M135.9 10.0L135.2 9.0L136.6 9.0Z"/><circle cx="143.9" cy="9.5" r="0.45"/><circle cx="0.6" cy="15.7" r="0.45"/><circle cx="8.6" cy="15.7" r="0.45"/><circle cx="16.5" cy="15.7" r="0.45"/><path d="M24.9 15.3L24.6 16.5L23.7 15.5Z"/><path d="M33.1 15.0L32.9 16.2L31.9 15.2Z"/><path d="M41.4 14.8L40.9 16.2L39.9 15.1Z"/><path d="M49.5 14.6L48.8 16.2L47.9 15.1Z"/><path d="M57.4 14.7L56.8 16.2L55.8 15.1Z"/><path d="M65.1 14.9L64.8 16.2L63.8 15.1Z"/><path d="M72.7 15.2L72.5 16.4L71.5 15.3Z"/><circle cx="80.2" cy="15.7" r="0.45"/><circle cx="88.2" cy="15.7" r="0.45"/><circle cx="96.1" cy="15.7" r="0.45"/><path d="M104.1 16.4L103.4 15.4L104.8 15.4Z"/><path d="M112.0 16.6L111.3 15.6L112.7 15.6Z"/><path d="M120.0 16.7L119.3 15.7L120.7 15.7Z"/><path d="M128.0 16.6L127.3 15.6L128.7 15.6Z"/><path d="M135.9 16.4L135.2 15.4L136.6 15.4Z"/><path d="M143.9 16.1L143.2 15.1L144.6 15.1Z"/><circle cx="0.6" cy="21.8" r="0.45"/><circle cx="8.6" cy="21.8" r="0.45"/><circle cx="16.5" cy="21.8" r="0.45"/><path d="M25.1 21.2L24.8 22.4L23.9 21.4Z"/><path d="M33.5 20.8L32.9 22.3L32.0 21.3Z"/><line x1="40.4" y1="21.8" x2="40.6" y2="21.6"/><path d="M41.9 20.4L41.1 22.2L40.0 21.1Z"/><line x1="48.4" y1="21.8" x2="48.7" y2="21.4"/><path d="M50.1 20.2L49.3 22.0L48.2 20.9Z"/><line x1="56.3" y1="21.8" x2="56.6" y2="21.5"/><path d="M57.9 20.3L57.1 22.1L56.1 20.9Z"/><path d="M65.5 20.7L64.8 22.3L63.8 21.2Z"/><path d="M73.0 21.1L72.7 22.3L71.8 21.3Z"/><path d="M80.6 21.5L80.1 22.7L79.4 21.5Z"/><circle cx="88.2" cy="21.8" r="0.45"/><path d="M96.2 22.3L95.4 21.4L96.8 21.3Z"/><path d="M104.1 22.8L103.4 21.8L104.8 21.8Z"/><path d="M112.0 23.2L111.3 21.8L112.7 21.8Z"/><path d="M120.0 23.3L119.3 21.8L120.7 21.8Z"/><path d="M128.0 23.2L127.3 21.8L128.7 21.8Z"/><path d="M135.9 22.8L135.2 21.8L136.6 21.8Z"/><path d="M143.9 22.4L143.2 21.4L144.6 21.4Z"/><circle cx="0.6" cy="27.9" r="0.45"/><circle cx="8.6" cy="27.9" r="0.45"/><path d="M16.9 27.6L16.6 28.8L15.7 27.7Z"/><path d="M25.2 27.2L25.0 28.4L24.0 27.4Z"/><path d="M33.7 26.7L33.0 28.5L31.9 27.4Z"/><line x1="40.4" y1="27.9" x2="40.9" y2="27.5"/><path d="M42.2 26.3L41.4 28.1L40.3 26.9Z"/><line x1="48.4" y1="27.9" x2="49.1" y2="27.2"/><path d="M50.4 26.0L49.6 27.8L48.6 26.6Z"/><line x1="56.3" y1="27.9" x2="56.9" y2="27.3"/><path d="M58.3 26.1L57.5 27.9L56.4 26.8Z"/><line x1="64.3" y1="27.9" x2="64.5" y2="27.8"/><path d="M65.8 26.5L65.0 28.4L63.9 27.2Z"/><path d="M73.2 27.1L72.7 28.4L71.8 27.4Z"/><path d="M80.7 27.6L80.2 28.7L79.5 27.6Z"/><circle cx="88.2" cy="27.9" r="0.45"/><path d="M96.2 28.6L95.4 27.7L96.8 27.5Z"/><path d="M104.1 29.1L103.4 27.9L104.8 27.9Z"/><path d="M112.0 29.5L111.3 27.9L112.8 27.9Z"/><path d="M120.0 29.7L119.2 27.9L120.8 27.9Z"/><path d="M128.0 29.5L127.2 27.9L128.7 27.9Z"/><path d="M135.9 29.1L135.2 27.9L136.6 27.9Z"/><path d="M143.9 28.6L143.2 27.6L144.6 27.6Z"/><circle cx="0.6" cy="34.0" r="0.45"/><circle cx="8.6" cy="34.0" r="0.45"/><path d="M17.1 33.7L16.5 34.8L15.9 33.6Z"/><path d="M25.4 33.4L24.9 34.6L24.1 33.5Z"/><path d="M33.8 32.9L32.9 34.6L31.9 33.5Z"/><line x1="40.4" y1="34.0" x2="40.8" y2="33.7"/><path d="M42.2 32.5L41.4 34.3L40.3 33.1Z"/><line x1="48.4" y1="34.0" x2="49.0" y2="33.4"/><path d="M50.4 32.2L49.6 34.0L48.5 32.8Z"/><line x1="56.3" y1="34.0" x2="56.9" y2="33.5"/><path d="M58.2 32.3L57.4 34.1L56.3 33.0Z"/><line x1="64.3" y1="34.0" x2="64.4" y2="33.9"/><path d="M65.7 32.7L64.9 34.5L63.9 33.4Z"/><path d="M73.1 33.3L72.7 34.6L71.8 33.5Z"/><path d="M80.7 33.8L80.2 34.9L79.4 33.7Z"/><circle cx="88.2" cy="34.0" r="0.45"/><path d="M96.2 34.7L95.4 33.8L96.8 33.6Z"/><path d="M104.1 35.2L103.4 34.1L104.8 34.0Z"/><path d="M112.0 35.6L111.3 34.1L112.7 34.0Z"/><path d="M120.0 35.8L119.2 34.1L120.8 34.0Z"/><path d="M128.0 35.6L127.3 34.1L128.7 34.0Z"/><path d="M135.9 35.2L135.2 34.1L136.6 34.0Z"/><path d="M143.9 34.7L143.2 33.7L144.6 33.7Z"/><path d="M1.5 40.2L0.6 40.9L0.5 39.5Z"/><path d="M10.2 40.1L8.6 40.9L8.5 39.5Z"/><line x1="16.5" y1="40.2" x2="16.7" y2="40.2"/><path d="M18.5 39.9L16.8 41.0L16.6 39.4Z"/><line x1="24.5" y1="40.2" x2="24.6" y2="40.1"/><path d="M26.3 39.7L24.8 40.9L24.4 39.4Z"/><path d="M34.1 39.3L32.8 40.9L32.1 39.5Z"/><line x1="40.4" y1="40.2" x2="40.5" y2="40.1"/><path d="M42.0 39.0L41.0 40.7L40.0 39.4Z"/><line x1="48.4" y1="40.2" x2="48.6" y2="40.0"/><path d="M49.9 38.8L49.1 40.6L48.1 39.4Z"/><line x1="56.3" y1="40.2" x2="56.4" y2="40.1"/><path d="M57.8 38.9L57.0 40.7L55.9 39.5Z"/><path d="M65.4 39.2L64.8 40.7L63.8 39.7Z"/><path d="M72.9 39.6L72.6 40.8L71.7 39.7Z"/><path d="M80.6 40.0L80.1 41.1L79.3 39.9Z"/><circle cx="88.2" cy="40.2" r="0.45"/><path d="M96.2 40.7L95.4 39.8L96.8 39.6Z"/><path d="M104.1 41.1L103.4 40.1L104.8 40.1Z"/><path d="M112.0 41.4L111.3 40.2L112.7 40.2Z"/><path d="M120.0 41.6L119.3 40.2L120.7 40.2Z"/><path d="M128.0 41.4L127.3 40.2L128.7 40.2Z"/><path d="M135.9 41.1L135.2 40.1L136.6 40.1Z"/><path d="M143.9 40.7L143.2 39.7L144.6 39.7Z"/><line x1="0.6" y1="46.3" x2="0.7" y2="46.3"/><path d="M2.5 46.3L0.7 47.1L0.7 45.5Z"/><line x1="8.6" y1="46.3" x2="10.0" y2="46.3"/><path d="M11.8 46.3L10.0 47.1L9.9 45.5Z"/><line x1="16.5" y1="46.3" x2="18.4" y2="46.2"/><path d="M20.2 46.2L18.5 47.0L18.4 45.4Z"/><line x1="24.5" y1="46.3" x2="25.7" y2="46.2"/><path d="M27.5 46.0L25.8 47.0L25.6 45.4Z"/><line x1="32.4" y1="46.3" x2="32.7" y2="46.3"/><path d="M34.4 45.8L32.9 47.0L32.5 45.5Z"/><path d="M41.7 45.6L40.7 46.9L40.1 45.7Z"/><path d="M49.4 45.5L48.8 46.8L47.9 45.8Z"/><path d="M57.2 45.5L56.8 46.8L55.8 45.8Z"/><path d="M64.9 45.7L64.7 46.9L63.7 45.9Z"/><path d="M72.6 45.9L72.4 47.1L71.4 46.1Z"/><circle cx="80.2" cy="46.3" r="0.45"/><circle cx="88.2" cy="46.3" r="0.45"/><circle cx="96.1" cy="46.3" r="0.45"/><path d="M104.0 46.9L103.4 45.9L104.8 46.0Z"/><path d="M112.0 47.1L111.4 46.1L112.7 46.2Z"/><path d="M120.0 47.2L119.3 46.2L120.7 46.3Z"/><path d="M127.9 47.1L127.3 46.1L128.7 46.2Z"/><path d="M135.9 46.9L135.2 45.9L136.6 45.9Z"/><circle cx="143.9" cy="46.3" r="0.45"/><path d="M1.8 52.4L0.6 53.1L0.6 51.7Z"/><line x1="8.6" y1="52.4" x2="8.8" y2="52.4"/><path d="M10.6 52.4L8.8 53.2L8.8 51.6Z"/><line x1="16.5" y1="52.4" x2="17.0" y2="52.4"/><path d="M18.8 52.4L17.1 53.2L17.0 51.6Z"/><line x1="24.5" y1="52.4" x2="24.6" y2="52.4"/><path d="M26.4 52.3L24.6 53.2L24.5 51.6Z"/><path d="M33.6 52.2L32.6 53.1L32.3 51.8Z"/><path d="M41.1 52.1L40.5 53.2L39.9 51.9Z"/><path d="M48.9 52.0L48.5 53.2L47.7 52.1Z"/><path d="M56.7 52.1L56.5 53.3L55.5 52.2Z"/><circle cx="64.3" cy="52.4" r="0.45"/><circle cx="72.2" cy="52.4" r="0.45"/><circle cx="80.2" cy="52.4" r="0.45"/><circle cx="88.2" cy="52.4" r="0.45"/><path d="M95.7 52.6L96.3 51.6L96.9 52.9Z"/><path d="M103.6 52.8L104.0 51.6L104.8 52.8Z"/><path d="M111.7 52.9L111.8 51.7L112.8 52.6Z"/><path d="M119.7 53.0L119.6 51.7L120.8 52.4Z"/><path d="M127.8 52.9L127.4 51.7L128.8 52.1Z"/><circle cx="135.9" cy="52.4" r="0.45"/><circle cx="143.9" cy="52.4" r="0.45"/><circle cx="0.6" cy="58.6" r="0.45"/><path d="M9.0 58.6L8.0 59.3L7.9 57.9Z"/><path d="M17.0 58.5L16.0 59.3L16.0 57.9Z"/><path d="M24.9 58.5L24.0 59.3L23.8 58.0Z"/><circle cx="32.4" cy="58.6" r="0.45"/><circle cx="40.4" cy="58.6" r="0.45"/><circle cx="48.4" cy="58.6" r="0.45"/><circle cx="56.3" cy="58.6" r="0.45"/><circle cx="64.3" cy="58.6" r="0.45"/><path d="M71.8 58.5L72.9 58.0L72.7 59.3Z"/><path d="M79.3 58.6L80.3 57.9L80.3 59.3Z"/><path d="M86.8 58.6L88.1 57.9L88.2 59.3Z"/><path d="M94.4 58.7L96.1 57.8L96.2 59.3Z"/><path d="M102.4 58.7L104.0 57.8L104.1 59.3Z"/><path d="M110.7 58.8L111.9 57.9L112.1 59.3Z"/><path d="M119.1 58.8L119.9 57.9L120.2 59.2Z"/><path d="M127.5 58.8L128.1 57.7L128.7 59.0Z"/><circle cx="135.9" cy="58.6" r="0.45"/><circle cx="143.9" cy="58.6" r="0.45"/><circle cx="0.6" cy="64.7" r="0.45"/><circle cx="8.6" cy="64.7" r="0.45"/><circle cx="16.5" cy="64.7" r="0.45"/><circle cx="24.5" cy="64.7" r="0.45"/><circle cx="32.4" cy="64.7" r="0.45"/><circle cx="40.4" cy="64.7" r="0.45"/><circle cx="48.4" cy="64.7" r="0.45"/><circle cx="56.3" cy="64.7" r="0.45"/><circle cx="64.3" cy="64.7" r="0.45"/><path d="M71.4 64.7L72.4 64.0L72.4 65.4Z"/><path d="M78.6 64.7L80.2 64.0L80.2 65.4Z"/><line x1="88.2" y1="64.7" x2="87.6" y2="64.7"/><path d="M85.8 64.7L87.6 63.9L87.6 65.5Z"/><line x1="96.1" y1="64.7" x2="95.0" y2="64.7"/><path d="M93.2 64.7L95.0 63.9L95.1 65.5Z"/><line x1="104.1" y1="64.7" x2="103.0" y2="64.7"/><path d="M101.2 64.8L103.0 63.9L103.0 65.5Z"/><line x1="112.0" y1="64.7" x2="111.5" y2="64.7"/><path d="M109.7 64.8L111.5 63.9L111.5 65.5Z"/><path d="M118.4 64.8L120.0 64.0L120.0 65.4Z"/><path d="M127.1 64.8L128.0 64.0L128.2 65.4Z"/><circle cx="135.9" cy="64.7" r="0.45"/><circle cx="143.9" cy="64.7" r="0.45"/><circle cx="0.6" cy="70.8" r="0.45"/><circle cx="8.6" cy="70.8" r="0.45"/><circle cx="16.5" cy="70.8" r="0.45"/><circle cx="24.5" cy="70.8" r="0.45"/><circle cx="32.4" cy="70.8" r="0.45"/><circle cx="40.4" cy="70.8" r="0.45"/><circle cx="48.4" cy="70.8" r="0.45"/><circle cx="56.3" cy="70.8" r="0.45"/><circle cx="64.3" cy="70.8" r="0.45"/><path d="M71.6 70.8L72.6 70.1L72.5 71.5Z"/><path d="M78.9 70.8L80.2 70.1L80.2 71.5Z"/><line x1="88.2" y1="70.8" x2="88.1" y2="70.8"/><path d="M86.3 70.8L88.1 70.0L88.1 71.6Z"/><line x1="96.1" y1="70.8" x2="95.6" y2="70.8"/><path d="M93.8 70.8L95.6 70.0L95.6 71.6Z"/><line x1="104.1" y1="70.8" x2="103.6" y2="70.8"/><path d="M101.8 70.8L103.6 70.0L103.6 71.6Z"/><line x1="112.0" y1="70.8" x2="112.0" y2="70.8"/><path d="M110.2 70.9L111.9 70.0L112.0 71.6Z"/><path d="M118.7 70.9L120.0 70.1L120.0 71.5Z"/><path d="M127.3 70.9L128.3 70.1L128.3 71.5Z"/><circle cx="135.9" cy="70.8" r="0.45"/><circle cx="143.9" cy="70.8" r="0.45"/><circle cx="0.6" cy="77.0" r="0.45"/><circle cx="8.6" cy="77.0" r="0.45"/><circle cx="16.5" cy="77.0" r="0.45"/><circle cx="24.5" cy="77.0" r="0.45"/><circle cx="32.4" cy="77.0" r="0.45"/><circle cx="40.4" cy="77.0" r="0.45"/><circle cx="48.4" cy="77.0" r="0.45"/><circle cx="56.3" cy="77.0" r="0.45"/><circle cx="64.3" cy="77.0" r="0.45"/><circle cx="72.2" cy="77.0" r="0.45"/><path d="M79.7 77.0L80.7 76.3L80.7 77.7Z"/><path d="M87.4 77.0L88.4 76.3L88.4 77.7Z"/><path d="M95.2 77.0L96.2 76.3L96.2 77.7Z"/><path d="M103.2 77.0L104.2 76.3L104.2 77.7Z"/><path d="M111.3 77.0L112.3 76.3L112.3 77.7Z"/><path d="M119.5 77.0L120.5 76.3L120.5 77.7Z"/><circle cx="128.0" cy="77.0" r="0.45"/><circle cx="135.9" cy="77.0" r="0.45"/><circle cx="143.9" cy="77.0" r="0.45"/><circle cx="0.6" cy="83.1" r="0.45"/><circle cx="8.6" cy="83.1" r="0.45"/><circle cx="16.5" cy="83.1" r="0.45"/><circle cx="24.5" cy="83.1" r="0.45"/><circle cx="32.4" cy="83.1" r="0.45"/><circle cx="40.4" cy="83.1" r="0.45"/><circle cx="48.4" cy="83.1" r="0.45"/><circle cx="56.3" cy="83.1" r="0.45"/><circle cx="64.3" cy="83.1" r="0.45"/><circle cx="72.2" cy="83.1" r="0.45"/><circle cx="80.2" cy="83.1" r="0.45"/><circle cx="88.2" cy="83.1" r="0.45"/><circle cx="96.1" cy="83.1" r="0.45"/><circle cx="104.1" cy="83.1" r="0.45"/><circle cx="112.0" cy="83.1" r="0.45"/><circle cx="120.0" cy="83.1" r="0.45"/><circle cx="128.0" cy="83.1" r="0.45"/><circle cx="135.9" cy="83.1" r="0.45"/><circle cx="143.9" cy="83.1" r="0.45"/><circle cx="0.6" cy="89.2" r="0.45"/><circle cx="8.6" cy="89.2" r="0.45"/><circle cx="16.5" cy="89.2" r="0.45"/><circle cx="24.5" cy="89.2" r="0.45"/><circle cx="32.4" cy="89.2" r="0.45"/><circle cx="40.4" cy="89.2" r="0.45"/><circle cx="48.4" cy="89.2" r="0.45"/><circle cx="56.3" cy="89.2" r="0.45"/><circle cx="64.3" cy="89.2" r="0.45"/><circle cx="72.2" cy="89.2" r="0.45"/><circle cx="80.2" cy="89.2" r="0.45"/><circle cx="88.2" cy="89.2" r="0.45"/><circle cx="96.1" cy="89.2" r="0.45"/><circle cx="104.1" cy="89.2" r="0.45"/><circle cx="112.0" cy="89.2" r="0.45"/><circle cx="120.0" cy="89.2" r="0.45"/><circle cx="128.0" cy="89.2" r="0.45"/><circle cx="135.9" cy="89.2" r="0.45"/><circle cx="143.9" cy="89.2" r="0.45"/><circle cx="0.6" cy="95.4" r="0.45"/><circle cx="8.6" cy="95.4" r="0.45"/><circle cx="16.5" cy="95.4" r="0.45"/><circle cx="24.5" cy="95.4" r="0.45"/><circle cx="32.4" cy="95.4" r="0.45"/><circle cx="40.4" cy="95.4" r="0.45"/><circle cx="48.4" cy="95.4" r="0.45"/><circle cx="56.3" cy="95.4" r="0.45"/><circle cx="64.3" cy="95.4" r="0.45"/><circle cx="72.2" cy="95.4" r="0.45"/><circle cx="80.2" cy="95.4" r="0.45"/><circle cx="88.2" cy="95.4" r="0.45"/><circle cx="96.1" cy="95.4" r="0.45"/><circle cx="104.1" cy="95.4" r="0.45"/><circle cx="112.0" cy="95.4" r="0.45"/><circle cx="120.0" cy="95.4" r="0.45"/><circle cx="128.0" cy="95.4" r="0.45"/><circle cx="135.9" cy="95.4" r="0.45"/><circle cx="143.9" cy="95.4" r="0.45"/></g></g><rect x="0.5" y="0.5" width="145" height="96" fill="none" stroke="#8a8a8a" stroke-width="1"/></g><text x="416.5" y="447.8" font-size="5.27" fill="#2b2b2b" text-anchor="middle" textLength="115.7" lengthAdjust="spacingAndGlyphs" font-family="Liberation Sans, sans-serif">(l) Wind: EXPT minus CTRL 2 d Before Onset</text><text x="346.0" y="468.8" font-size="6.40" fill="#666" text-anchor="end" textLength="15.0" lengthAdjust="spacingAndGlyphs" font-family="Liberation Sans, sans-serif">20°N</text><text x="346.0" y="485.0" font-size="6.40" fill="#666" text-anchor="end" textLength="14.8" lengthAdjust="spacingAndGlyphs" font-family="Liberation Sans, sans-serif">15°N</text><text x="346.0" y="501.1" font-size="6.40" fill="#666" text-anchor="end" textLength="14.8" lengthAdjust="spacingAndGlyphs" font-family="Liberation Sans, sans-serif">10°N</text><text x="346.0" y="517.3" font-size="6.40" fill="#666" text-anchor="end" textLength="10.9" lengthAdjust="spacingAndGlyphs" font-family="Liberation Sans, sans-serif">5°N</text><text x="346.0" y="533.4" font-size="6.40" fill="#666" text-anchor="end" textLength="6.2" lengthAdjust="spacingAndGlyphs" font-family="Liberation Sans, sans-serif">0°</text><text x="364.2" y="553.8" font-size="6.30" fill="#666" text-anchor="middle" textLength="14.1" lengthAdjust="spacingAndGlyphs" font-family="Liberation Sans, sans-serif">60°E</text><text x="396.6" y="553.8" font-size="6.30" fill="#666" text-anchor="middle" textLength="14.0" lengthAdjust="spacingAndGlyphs" font-family="Liberation Sans, sans-serif">70°E</text><text x="428.9" y="553.8" font-size="6.30" fill="#666" text-anchor="middle" textLength="14.1" lengthAdjust="spacingAndGlyphs" font-family="Liberation Sans, sans-serif">80°E</text><text x="461.1" y="553.8" font-size="6.30" fill="#666" text-anchor="middle" textLength="14.1" lengthAdjust="spacingAndGlyphs" font-family="Liberation Sans, sans-serif">90°E</text><rect x="22.0" y="118.5" width="145.0" height="3.5" fill="url(#cw)" stroke="#444" stroke-width="0.4"/><line x1="26.5" y1="122.0" x2="26.5" y2="123.5" stroke="#333" stroke-width="0.5"/><text x="26.5" y="129.8" font-size="6.60" fill="#2a2a2a" text-anchor="middle" textLength="15.7" lengthAdjust="spacingAndGlyphs" font-family="Liberation Sans, sans-serif" stroke="#2a2a2a" stroke-width="0.12">−750</text><line x1="49.2" y1="122.0" x2="49.2" y2="123.5" stroke="#333" stroke-width="0.5"/><text x="49.2" y="129.8" font-size="6.60" fill="#2a2a2a" text-anchor="middle" textLength="15.7" lengthAdjust="spacingAndGlyphs" font-family="Liberation Sans, sans-serif" stroke="#2a2a2a" stroke-width="0.12">−500</text><line x1="71.8" y1="122.0" x2="71.8" y2="123.5" stroke="#333" stroke-width="0.5"/><text x="71.8" y="129.8" font-size="6.60" fill="#2a2a2a" text-anchor="middle" textLength="15.7" lengthAdjust="spacingAndGlyphs" font-family="Liberation Sans, sans-serif" stroke="#2a2a2a" stroke-width="0.12">−250</text><line x1="94.5" y1="122.0" x2="94.5" y2="123.5" stroke="#333" stroke-width="0.5"/><text x="94.5" y="129.8" font-size="6.60" fill="#2a2a2a" text-anchor="middle" textLength="3.1" lengthAdjust="spacingAndGlyphs" font-family="Liberation Sans, sans-serif" stroke="#2a2a2a" stroke-width="0.12">0</text><line x1="117.2" y1="122.0" x2="117.2" y2="123.5" stroke="#333" stroke-width="0.5"/><text x="117.2" y="129.8" font-size="6.60" fill="#2a2a2a" text-anchor="middle" textLength="10.8" lengthAdjust="spacingAndGlyphs" font-family="Liberation Sans, sans-serif" stroke="#2a2a2a" stroke-width="0.12">250</text><line x1="139.8" y1="122.0" x2="139.8" y2="123.5" stroke="#333" stroke-width="0.5"/><text x="139.8" y="129.8" font-size="6.60" fill="#2a2a2a" text-anchor="middle" textLength="10.8" lengthAdjust="spacingAndGlyphs" font-family="Liberation Sans, sans-serif" stroke="#2a2a2a" stroke-width="0.12">500</text><line x1="162.5" y1="122.0" x2="162.5" y2="123.5" stroke="#333" stroke-width="0.5"/><text x="162.5" y="129.8" font-size="6.60" fill="#2a2a2a" text-anchor="middle" textLength="10.7" lengthAdjust="spacingAndGlyphs" font-family="Liberation Sans, sans-serif" stroke="#2a2a2a" stroke-width="0.12">750</text><rect x="185.0" y="118.5" width="145.0" height="3.5" fill="url(#cw)" stroke="#444" stroke-width="0.4"/><line x1="187.1" y1="122.0" x2="187.1" y2="123.5" stroke="#333" stroke-width="0.5"/><text x="187.1" y="129.8" font-size="6.60" fill="#2a2a2a" text-anchor="middle" textLength="15.7" lengthAdjust="spacingAndGlyphs" font-family="Liberation Sans, sans-serif" stroke="#2a2a2a" stroke-width="0.12">−300</text><line x1="210.6" y1="122.0" x2="210.6" y2="123.5" stroke="#333" stroke-width="0.5"/><text x="210.6" y="129.8" font-size="6.60" fill="#2a2a2a" text-anchor="middle" textLength="15.7" lengthAdjust="spacingAndGlyphs" font-family="Liberation Sans, sans-serif" stroke="#2a2a2a" stroke-width="0.12">−200</text><line x1="234.0" y1="122.0" x2="234.0" y2="123.5" stroke="#333" stroke-width="0.5"/><text x="234.0" y="129.8" font-size="6.60" fill="#2a2a2a" text-anchor="middle" textLength="15.7" lengthAdjust="spacingAndGlyphs" font-family="Liberation Sans, sans-serif" stroke="#2a2a2a" stroke-width="0.12">−100</text><line x1="257.5" y1="122.0" x2="257.5" y2="123.5" stroke="#333" stroke-width="0.5"/><text x="257.5" y="129.8" font-size="6.60" fill="#2a2a2a" text-anchor="middle" textLength="3.1" lengthAdjust="spacingAndGlyphs" font-family="Liberation Sans, sans-serif" stroke="#2a2a2a" stroke-width="0.12">0</text><line x1="281.0" y1="122.0" x2="281.0" y2="123.5" stroke="#333" stroke-width="0.5"/><text x="281.0" y="129.8" font-size="6.60" fill="#2a2a2a" text-anchor="middle" textLength="10.6" lengthAdjust="spacingAndGlyphs" font-family="Liberation Sans, sans-serif" stroke="#2a2a2a" stroke-width="0.12">100</text><line x1="304.4" y1="122.0" x2="304.4" y2="123.5" stroke="#333" stroke-width="0.5"/><text x="304.4" y="129.8" font-size="6.60" fill="#2a2a2a" text-anchor="middle" textLength="10.8" lengthAdjust="spacingAndGlyphs" font-family="Liberation Sans, sans-serif" stroke="#2a2a2a" stroke-width="0.12">200</text><line x1="327.9" y1="122.0" x2="327.9" y2="123.5" stroke="#333" stroke-width="0.5"/><text x="327.9" y="129.8" font-size="6.60" fill="#2a2a2a" text-anchor="middle" textLength="10.8" lengthAdjust="spacingAndGlyphs" font-family="Liberation Sans, sans-serif" stroke="#2a2a2a" stroke-width="0.12">300</text><rect x="348.0" y="118.5" width="145.0" height="3.5" fill="url(#cw)" stroke="#444" stroke-width="0.4"/><line x1="380.2" y1="122.0" x2="380.2" y2="123.5" stroke="#333" stroke-width="0.5"/><text x="380.2" y="129.8" font-size="6.60" fill="#2a2a2a" text-anchor="middle" textLength="7.8" lengthAdjust="spacingAndGlyphs" font-family="Liberation Sans, sans-serif" stroke="#2a2a2a" stroke-width="0.12">−5</text><line x1="420.5" y1="122.0" x2="420.5" y2="123.5" stroke="#333" stroke-width="0.5"/><text x="420.5" y="129.8" font-size="6.60" fill="#2a2a2a" text-anchor="middle" textLength="3.1" lengthAdjust="spacingAndGlyphs" font-family="Liberation Sans, sans-serif" stroke="#2a2a2a" stroke-width="0.12">0</text><line x1="460.8" y1="122.0" x2="460.8" y2="123.5" stroke="#333" stroke-width="0.5"/><text x="460.8" y="129.8" font-size="6.60" fill="#2a2a2a" text-anchor="middle" textLength="2.9" lengthAdjust="spacingAndGlyphs" font-family="Liberation Sans, sans-serif" stroke="#2a2a2a" stroke-width="0.12">5</text><rect x="22.0" y="265.0" width="471.0" height="4.0" fill="url(#cw)" stroke="#444" stroke-width="0.4"/><line x1="22.0" y1="269.0" x2="22.0" y2="270.5" stroke="#333" stroke-width="0.5"/><text x="22.0" y="277.0" font-size="6.60" fill="#2a2a2a" text-anchor="middle" textLength="8.0" lengthAdjust="spacingAndGlyphs" font-family="Liberation Sans, sans-serif" stroke="#2a2a2a" stroke-width="0.12">−4</text><line x1="80.9" y1="269.0" x2="80.9" y2="270.5" stroke="#333" stroke-width="0.5"/><text x="80.9" y="277.0" font-size="6.60" fill="#2a2a2a" text-anchor="middle" textLength="7.9" lengthAdjust="spacingAndGlyphs" font-family="Liberation Sans, sans-serif" stroke="#2a2a2a" stroke-width="0.12">−3</text><line x1="139.8" y1="269.0" x2="139.8" y2="270.5" stroke="#333" stroke-width="0.5"/><text x="139.8" y="277.0" font-size="6.60" fill="#2a2a2a" text-anchor="middle" textLength="7.7" lengthAdjust="spacingAndGlyphs" font-family="Liberation Sans, sans-serif" stroke="#2a2a2a" stroke-width="0.12">−2</text><line x1="198.6" y1="269.0" x2="198.6" y2="270.5" stroke="#333" stroke-width="0.5"/><text x="198.6" y="277.0" font-size="6.60" fill="#2a2a2a" text-anchor="middle" textLength="7.8" lengthAdjust="spacingAndGlyphs" font-family="Liberation Sans, sans-serif" stroke="#2a2a2a" stroke-width="0.12">−1</text><line x1="257.5" y1="269.0" x2="257.5" y2="270.5" stroke="#333" stroke-width="0.5"/><text x="257.5" y="277.0" font-size="6.60" fill="#2a2a2a" text-anchor="middle" textLength="3.1" lengthAdjust="spacingAndGlyphs" font-family="Liberation Sans, sans-serif" stroke="#2a2a2a" stroke-width="0.12">0</text><line x1="316.4" y1="269.0" x2="316.4" y2="270.5" stroke="#333" stroke-width="0.5"/><text x="316.4" y="277.0" font-size="6.60" fill="#2a2a2a" text-anchor="middle" textLength="2.6" lengthAdjust="spacingAndGlyphs" font-family="Liberation Sans, sans-serif" stroke="#2a2a2a" stroke-width="0.12">1</text><line x1="375.2" y1="269.0" x2="375.2" y2="270.5" stroke="#333" stroke-width="0.5"/><text x="375.2" y="277.0" font-size="6.60" fill="#2a2a2a" text-anchor="middle" textLength="2.8" lengthAdjust="spacingAndGlyphs" font-family="Liberation Sans, sans-serif" stroke="#2a2a2a" stroke-width="0.12">2</text><line x1="434.1" y1="269.0" x2="434.1" y2="270.5" stroke="#333" stroke-width="0.5"/><text x="434.1" y="277.0" font-size="6.60" fill="#2a2a2a" text-anchor="middle" textLength="2.9" lengthAdjust="spacingAndGlyphs" font-family="Liberation Sans, sans-serif" stroke="#2a2a2a" stroke-width="0.12">3</text><line x1="493.0" y1="269.0" x2="493.0" y2="270.5" stroke="#333" stroke-width="0.5"/><text x="493.0" y="277.0" font-size="6.60" fill="#2a2a2a" text-anchor="middle" textLength="3.2" lengthAdjust="spacingAndGlyphs" font-family="Liberation Sans, sans-serif" stroke="#2a2a2a" stroke-width="0.12">4</text><rect x="22.0" y="411.0" width="471.0" height="4.0" fill="url(#cw)" stroke="#444" stroke-width="0.4"/><line x1="69.1" y1="415.0" x2="69.1" y2="416.5" stroke="#333" stroke-width="0.5"/><text x="69.1" y="422.8" font-size="6.60" fill="#2a2a2a" text-anchor="middle" textLength="8.0" lengthAdjust="spacingAndGlyphs" font-family="Liberation Sans, sans-serif" stroke="#2a2a2a" stroke-width="0.12">−4</text><line x1="163.3" y1="415.0" x2="163.3" y2="416.5" stroke="#333" stroke-width="0.5"/><text x="163.3" y="422.8" font-size="6.60" fill="#2a2a2a" text-anchor="middle" textLength="7.7" lengthAdjust="spacingAndGlyphs" font-family="Liberation Sans, sans-serif" stroke="#2a2a2a" stroke-width="0.12">−2</text><line x1="257.5" y1="415.0" x2="257.5" y2="416.5" stroke="#333" stroke-width="0.5"/><text x="257.5" y="422.8" font-size="6.60" fill="#2a2a2a" text-anchor="middle" textLength="3.1" lengthAdjust="spacingAndGlyphs" font-family="Liberation Sans, sans-serif" stroke="#2a2a2a" stroke-width="0.12">0</text><line x1="351.7" y1="415.0" x2="351.7" y2="416.5" stroke="#333" stroke-width="0.5"/><text x="351.7" y="422.8" font-size="6.60" fill="#2a2a2a" text-anchor="middle" textLength="2.8" lengthAdjust="spacingAndGlyphs" font-family="Liberation Sans, sans-serif" stroke="#2a2a2a" stroke-width="0.12">2</text><line x1="445.9" y1="415.0" x2="445.9" y2="416.5" stroke="#333" stroke-width="0.5"/><text x="445.9" y="422.8" font-size="6.60" fill="#2a2a2a" text-anchor="middle" textLength="3.2" lengthAdjust="spacingAndGlyphs" font-family="Liberation Sans, sans-serif" stroke="#2a2a2a" stroke-width="0.12">4</text><rect x="22.0" y="557.5" width="471.0" height="4.0" fill="url(#cw)" stroke="#444" stroke-width="0.4"/><line x1="22.0" y1="561.5" x2="22.0" y2="563.0" stroke="#333" stroke-width="0.5"/><text x="22.0" y="569.5" font-size="6.60" fill="#2a2a2a" text-anchor="middle" textLength="8.0" lengthAdjust="spacingAndGlyphs" font-family="Liberation Sans, sans-serif" stroke="#2a2a2a" stroke-width="0.12">−4</text><line x1="80.9" y1="561.5" x2="80.9" y2="563.0" stroke="#333" stroke-width="0.5"/><text x="80.9" y="569.5" font-size="6.60" fill="#2a2a2a" text-anchor="middle" textLength="7.9" lengthAdjust="spacingAndGlyphs" font-family="Liberation Sans, sans-serif" stroke="#2a2a2a" stroke-width="0.12">−3</text><line x1="139.8" y1="561.5" x2="139.8" y2="563.0" stroke="#333" stroke-width="0.5"/><text x="139.8" y="569.5" font-size="6.60" fill="#2a2a2a" text-anchor="middle" textLength="7.7" lengthAdjust="spacingAndGlyphs" font-family="Liberation Sans, sans-serif" stroke="#2a2a2a" stroke-width="0.12">−2</text><line x1="198.6" y1="561.5" x2="198.6" y2="563.0" stroke="#333" stroke-width="0.5"/><text x="198.6" y="569.5" font-size="6.60" fill="#2a2a2a" text-anchor="middle" textLength="7.8" lengthAdjust="spacingAndGlyphs" font-family="Liberation Sans, sans-serif" stroke="#2a2a2a" stroke-width="0.12">−1</text><line x1="257.5" y1="561.5" x2="257.5" y2="563.0" stroke="#333" stroke-width="0.5"/><text x="257.5" y="569.5" font-size="6.60" fill="#2a2a2a" text-anchor="middle" textLength="3.1" lengthAdjust="spacingAndGlyphs" font-family="Liberation Sans, sans-serif" stroke="#2a2a2a" stroke-width="0.12">0</text><line x1="316.4" y1="561.5" x2="316.4" y2="563.0" stroke="#333" stroke-width="0.5"/><text x="316.4" y="569.5" font-size="6.60" fill="#2a2a2a" text-anchor="middle" textLength="2.6" lengthAdjust="spacingAndGlyphs" font-family="Liberation Sans, sans-serif" stroke="#2a2a2a" stroke-width="0.12">1</text><line x1="375.2" y1="561.5" x2="375.2" y2="563.0" stroke="#333" stroke-width="0.5"/><text x="375.2" y="569.5" font-size="6.60" fill="#2a2a2a" text-anchor="middle" textLength="2.8" lengthAdjust="spacingAndGlyphs" font-family="Liberation Sans, sans-serif" stroke="#2a2a2a" stroke-width="0.12">2</text><line x1="434.1" y1="561.5" x2="434.1" y2="563.0" stroke="#333" stroke-width="0.5"/><text x="434.1" y="569.5" font-size="6.60" fill="#2a2a2a" text-anchor="middle" textLength="2.9" lengthAdjust="spacingAndGlyphs" font-family="Liberation Sans, sans-serif" stroke="#2a2a2a" stroke-width="0.12">3</text><line x1="493.0" y1="561.5" x2="493.0" y2="563.0" stroke="#333" stroke-width="0.5"/><text x="493.0" y="569.5" font-size="6.60" fill="#2a2a2a" text-anchor="middle" textLength="3.2" lengthAdjust="spacingAndGlyphs" font-family="Liberation Sans, sans-serif" stroke="#2a2a2a" stroke-width="0.12">4</text><g fill="#222" font-family="Liberation Sans, sans-serif"><text x="468.6" y="433.6" font-size="5.6">4</text><text x="472.2" y="431.0" font-size="3.2">m</text><text x="472.9" y="434.6" font-size="3.2">s</text><line x1="472.1" y1="431.7" x2="475.2" y2="431.7" stroke="#222" stroke-width="0.35"/></g><line x1="479.2" y1="431.3" x2="482.8" y2="431.3" stroke="#111" stroke-width="0.5"/><path d="M484.9 431.3L482.6 430.3L482.6 432.3Z" fill="#111"/></svg></body></html>
